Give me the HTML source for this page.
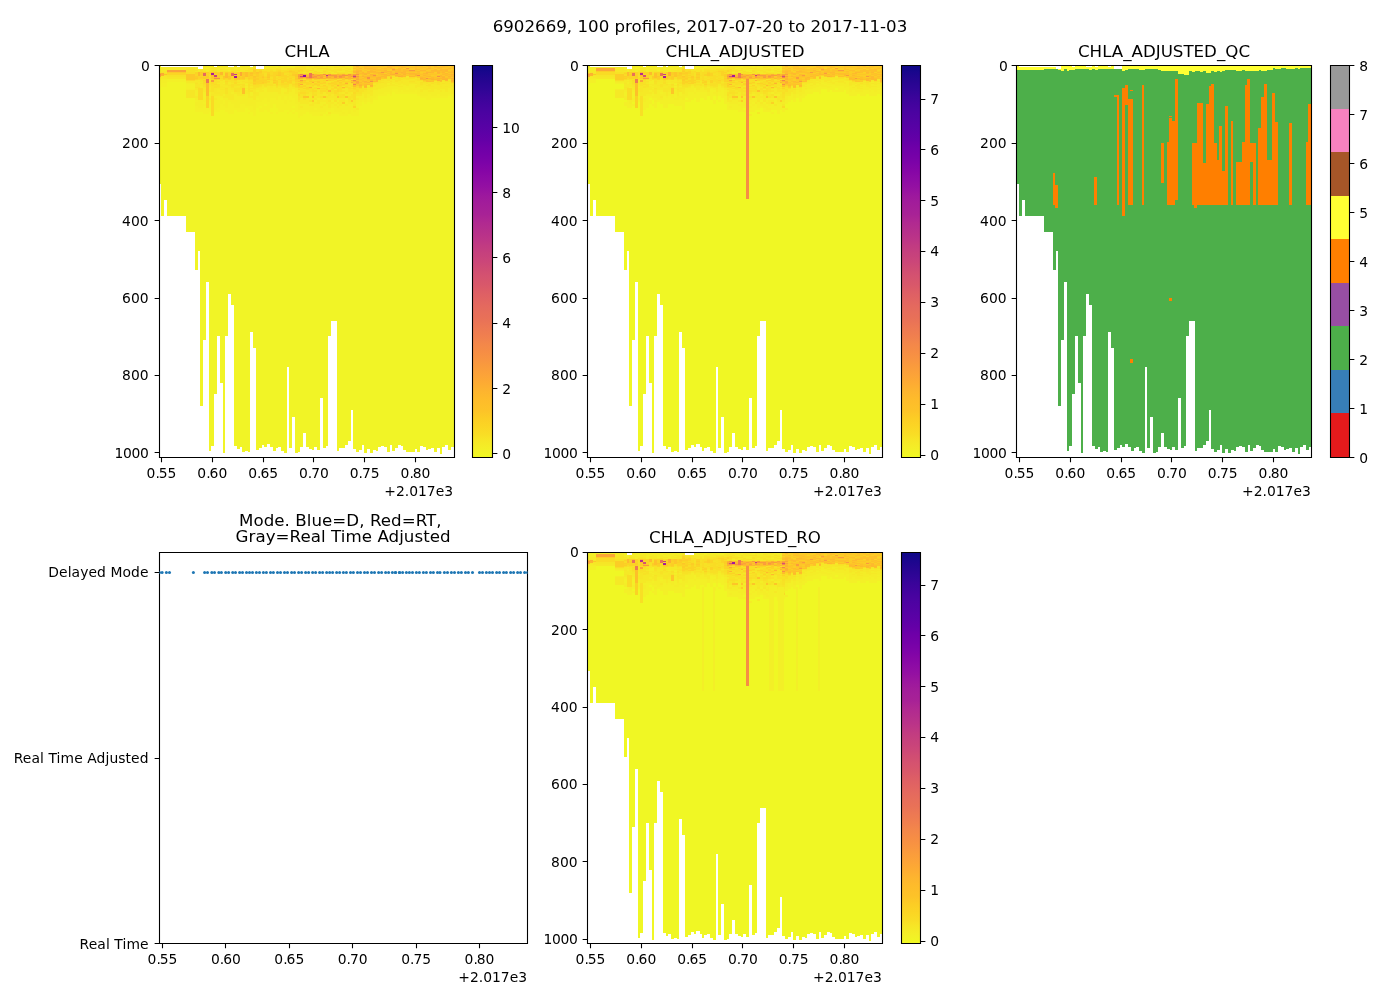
<!DOCTYPE html>
<html lang="en"><head><meta charset="utf-8"><title>6902669 CHLA profiles</title>
<style>
html,body{margin:0;padding:0;background:#fff;}
body{width:1400px;height:1000px;overflow:hidden;}
svg{display:block;font-family:"DejaVu Sans","Liberation Sans",sans-serif;}
</style></head><body>
<svg width="1400" height="1000" viewBox="0 0 1400 1000" fill="#000">
<rect width="1400" height="1000" fill="#fff"/>
<text x="700" y="32.3" font-size="16.67" text-anchor="middle">6902669, 100 profiles, 2017-07-20 to 2017-11-03</text>
<g shape-rendering="crispEdges">
<path fill="#f1f426" d="M159.5 66H161V184H159.5ZM161 67H164V216H161ZM164 67H167V200H164ZM167 67H186V216H167ZM186 67H195V232H186ZM195 67H198V270H195ZM198 69H200V251H198ZM200 69H203V406H200ZM203 66H206V340H203ZM206 66H209V282H206ZM209 66H211V451H209ZM211 66H214V446H211ZM214 67H217V394H214ZM217 66H220V336H217ZM220 66H223V383H220ZM223 66H225V453H223ZM225 66H228V336H225ZM228 67H231V294H228ZM231 67H234V305H231ZM234 66H237V446H234ZM237 67H240V449H237ZM240 66H242V447H240ZM242 66H245V452H242ZM245 66H248V451H245ZM248 66H250V452H248ZM250 67H253V332H250ZM253 66H256V348H253ZM256 69H259V450H256ZM259 69H262V448H259ZM262 69H264V445H262ZM264 66H267V447H264ZM267 66H270V444H267ZM270 66H273V447H270ZM273 66H276V451H273ZM276 66H278V448H276ZM278 66H281V447H278ZM281 66H284V451H281ZM284 66H287V453H284ZM287 66H289V367H287ZM289 66H292V448H289ZM292 66H295V417H292ZM295 66H298V453H295ZM298 66H300V452H298ZM300 66H303V447H300ZM303 66H306V433H303ZM306 66H309V447H306ZM309 66H312V449H309ZM312 66H314V450H312ZM314 66H317V447H314ZM317 66H320V450H317ZM320 66H323V398H320ZM323 66H326V448H323ZM326 66H328V446H326ZM328 66H331V336H328ZM331 66H334V321H331ZM334 66H337V321H334ZM337 66H339V451H337ZM339 66H342V448H339ZM342 66H345V448H342ZM345 66H348V445H345ZM348 66H351V441H348ZM351 66H353V410H351ZM353 66H356V449H353ZM356 66H359V452H356ZM359 66H362V450H359ZM362 66H364V445H362ZM364 66H367V453H364ZM367 66H370V449H367ZM370 66H373V453H370ZM373 66H376V450H373ZM376 66H378V451H376ZM378 66H381V447H378ZM381 66H384V446H381ZM384 66H387V447H384ZM387 66H390V452H387ZM390 66H392V445H390ZM392 66H395V451H392ZM395 66H398V448H395ZM398 66H401V445H398ZM401 66H403V446H401ZM403 66H406V450H403ZM406 66H409V452H406ZM409 66H415V452H409ZM415 66H417V449H415ZM417 66H420V452H417ZM420 66H423V446H420ZM423 66H426V447H423ZM426 66H428V450H426ZM428 66H431V449H428ZM431 66H434V448H431ZM434 66H437V452H434ZM437 66H440V448H437ZM440 66H442V454H440ZM442 66H445V447H442ZM445 66H448V445H445ZM448 66H451V450H448ZM451 66H454.5V447H451Z"/>
<path fill="#f3ee27" d="M159.5 66H161V67H159.5ZM159.5 82H161V85H159.5ZM161 80H164V83H161ZM164 80H167V83H164ZM186 83H195V84H186ZM195 94H198V96H195ZM195 102H198V106H195ZM198 100H200V108H198ZM200 106H203V108H200ZM203 94H206V98H203ZM203 100H206V102H203ZM203 104H206V106H203ZM209 100H211V102H209ZM214 104H217V110H214ZM217 96H220V98H217ZM217 100H220V104H217ZM217 106H220V108H217ZM220 96H223V98H220ZM220 100H223V104H220ZM223 94H225V96H223ZM223 104H225V106H223ZM225 98H228V100H225ZM225 106H228V108H225ZM228 100H231V102H228ZM231 102H234V104H231ZM234 102H237V108H234ZM237 100H240V108H237ZM240 98H242V102H240ZM242 102H245V104H242ZM245 94H248V98H245ZM245 100H248V106H245ZM248 67H250V68H248ZM248 104H250V106H248ZM250 92H253V96H250ZM250 98H253V100H250ZM250 104H253V106H250ZM253 100H256V102H253ZM253 104H256V110H253ZM256 96H259V98H256ZM256 100H259V102H256ZM259 94H262V96H259ZM259 98H262V102H259ZM262 92H264V96H262ZM262 98H264V100H262ZM264 88H267V89H264ZM264 90H267V92H264ZM264 96H267V98H264ZM267 94H270V102H267ZM270 94H273V98H270ZM273 92H276V98H273ZM276 66H278V68H276ZM276 94H278V96H276ZM281 66H284V67H281ZM281 89H284V96H281ZM281 98H284V100H281ZM284 100H287V104H284ZM287 66H289V67H287ZM287 96H289V100H287ZM289 66H292V67H289ZM289 94H292V96H289ZM289 100H292V102H289ZM292 66H295V67H292ZM292 96H295V98H292ZM295 96H298V104H295ZM300 104H303V106H300ZM303 104H306V108H303ZM306 106H309V108H306ZM309 108H312V112H309ZM312 110H314V112H312ZM314 110H317V112H314ZM317 108H320V112H317ZM320 104H323V106H320ZM320 110H323V112H320ZM323 102H326V104H323ZM323 106H326V108H323ZM323 110H326V112H323ZM326 104H328V110H326ZM328 108H331V110H328ZM334 108H337V112H334ZM337 110H339V112H337ZM339 110H342V112H339ZM342 104H345V106H342ZM342 112H345V114H342ZM345 106H348V110H345ZM348 110H351V114H348ZM351 108H353V110H351ZM359 100H362V102H359ZM362 96H364V100H362ZM364 100H367V102H364ZM370 96H373V98H370ZM370 100H373V102H370ZM373 94H376V98H373ZM376 92H378V96H376ZM378 89H381V94H378ZM381 89H384V94H381ZM384 89H387V92H384ZM387 88H390V92H387ZM390 89H392V94H390ZM392 87H395V89H392ZM395 87H398V89H395ZM398 88H401V89H398ZM398 90H401V92H398ZM403 86H406V92H403ZM406 86H409V88H406ZM406 90H409V92H406ZM409 86H415V87H409ZM409 88H415V89H409ZM409 90H415V92H409ZM415 89H417V90H415ZM417 88H420V94H417ZM420 94H423V96H420ZM423 92H426V96H423ZM426 92H428V96H426ZM431 92H434V96H431ZM434 92H437V96H434ZM440 92H442V96H440ZM442 92H445V96H442ZM445 92H448V96H445ZM448 92H451V94H448ZM451 94H454.5V96H451Z"/>
<path fill="#f4ed27" d="M159.5 67H161V69H159.5ZM159.5 81H161V82H159.5ZM161 67H164V68H161ZM161 79H164V80H161ZM164 67H167V68H164ZM164 79H167V80H164ZM186 89H195V90H186ZM195 67H198V68H195ZM195 90H198V94H195ZM195 98H198V100H195ZM198 69H200V71H198ZM200 100H203V106H200ZM203 92H206V94H203ZM203 98H206V100H203ZM206 66H209V67H206ZM206 68H209V69H206ZM206 70H209V71H206ZM209 66H211V68H209ZM209 92H211V98H209ZM214 96H217V98H214ZM214 100H217V104H214ZM217 69H220V70H217ZM217 98H220V100H217ZM217 104H220V106H217ZM223 66H225V67H223ZM223 83H225V84H223ZM223 98H225V100H223ZM225 68H228V69H225ZM225 100H228V106H225ZM228 68H231V69H228ZM228 70H231V71H228ZM231 67H234V68H231ZM231 92H234V94H231ZM231 100H234V102H231ZM234 68H237V69H234ZM234 94H237V102H234ZM237 96H240V100H237ZM240 66H242V67H240ZM240 68H242V69H240ZM240 96H242V98H240ZM240 102H242V104H240ZM242 96H245V102H242ZM245 66H248V67H245ZM245 84H248V85H245ZM245 86H248V88H245ZM245 89H248V90H245ZM245 98H248V100H245ZM248 66H250V67H248ZM248 98H250V104H248ZM250 67H253V68H250ZM250 100H253V104H250ZM253 102H256V104H253ZM256 90H259V92H256ZM259 92H262V94H259ZM259 96H262V98H259ZM262 89H264V90H262ZM262 96H264V98H262ZM264 66H267V67H264ZM264 89H267V90H264ZM264 92H267V96H264ZM267 66H270V67H267ZM267 92H270V94H267ZM270 66H273V67H270ZM270 92H273V94H270ZM273 66H276V67H273ZM276 92H278V94H276ZM276 96H278V100H276ZM278 94H281V96H278ZM281 67H284V68H281ZM281 88H284V89H281ZM281 96H284V98H281ZM284 66H287V67H284ZM284 89H287V92H284ZM284 94H287V96H284ZM287 67H289V68H287ZM287 94H289V96H287ZM289 67H292V68H289ZM289 92H292V94H289ZM292 67H295V68H292ZM292 89H295V96H292ZM295 94H298V96H295ZM298 102H300V110H298ZM300 108H303V110H300ZM303 108H306V110H303ZM306 104H309V106H306ZM306 108H309V110H306ZM309 102H312V104H309ZM309 106H312V108H309ZM312 106H314V110H312ZM314 100H317V102H314ZM314 104H317V108H314ZM317 98H320V100H317ZM317 104H320V108H317ZM320 102H323V104H320ZM320 108H323V110H320ZM320 114H323V116H320ZM323 98H326V100H323ZM323 108H326V110H323ZM331 100H334V102H331ZM331 104H334V108H331ZM334 102H337V104H334ZM334 106H337V108H334ZM337 100H339V102H337ZM337 104H339V106H337ZM337 108H339V110H337ZM339 106H342V110H339ZM342 106H345V110H342ZM345 98H348V104H345ZM348 104H351V110H348ZM351 104H353V108H351ZM353 108H356V112H353ZM356 96H359V98H356ZM356 100H359V104H356ZM359 96H362V100H359ZM362 94H364V96H362ZM364 98H367V100H364ZM367 94H370V98H367ZM370 98H373V100H370ZM373 90H376V94H373ZM376 90H378V92H376ZM381 88H384V89H381ZM384 87H387V89H384ZM387 83H390V85H387ZM387 86H390V88H387ZM390 86H392V89H390ZM392 83H395V84H392ZM392 86H395V87H392ZM395 84H398V85H395ZM395 86H398V87H395ZM398 85H401V86H398ZM398 87H401V88H398ZM398 89H401V90H398ZM401 84H403V86H401ZM401 87H403V90H401ZM403 85H406V86H403ZM409 84H415V86H409ZM409 87H415V88H409ZM409 89H415V90H409ZM415 84H417V85H415ZM415 88H417V89H415ZM417 87H420V88H417ZM420 88H423V89H420ZM420 92H423V94H420ZM423 90H426V92H423ZM426 90H428V92H426ZM428 89H431V90H428ZM428 92H431V94H428ZM434 89H437V92H434ZM437 90H440V94H437ZM440 89H442V90H440ZM442 89H445V92H442ZM448 88H451V92H448Z"/>
<path fill="#f5e926" d="M159.5 69H161V71H159.5ZM159.5 80H161V81H159.5ZM161 68H164V69H161ZM161 78H164V79H161ZM164 68H167V70H164ZM164 78H167V79H164ZM167 67H186V70H167ZM186 82H195V83H186ZM195 68H198V70H195ZM195 96H198V98H195ZM198 80H200V81H198ZM198 82H200V83H198ZM200 87H203V88H200ZM203 66H206V67H203ZM203 68H206V69H203ZM206 67H209V68H206ZM206 71H209V72H206ZM209 68H211V70H209ZM209 98H211V100H209ZM211 66H214V68H211ZM214 98H217V100H214ZM217 66H220V69H217ZM217 70H220V71H217ZM217 94H220V96H217ZM220 66H223V68H220ZM220 81H223V82H220ZM220 85H223V86H220ZM223 67H225V68H223ZM223 80H225V81H223ZM223 82H225V83H223ZM223 86H225V87H223ZM223 96H225V98H223ZM225 66H228V67H225ZM225 96H228V98H225ZM228 90H231V96H228ZM228 98H231V100H228ZM231 90H234V92H231ZM231 94H234V96H231ZM231 98H234V100H231ZM234 66H237V67H234ZM234 69H237V70H234ZM237 67H240V68H237ZM237 69H240V70H237ZM237 71H240V72H237ZM240 67H242V68H240ZM240 70H242V71H240ZM240 83H242V84H240ZM240 92H242V94H240ZM242 66H245V68H242ZM242 94H245V96H242ZM245 67H248V68H245ZM245 83H248V84H245ZM245 90H248V94H245ZM248 96H250V98H248ZM250 96H253V98H250ZM253 66H256V67H253ZM256 88H259V90H256ZM256 94H259V96H256ZM259 89H262V92H259ZM262 87H264V89H262ZM262 90H264V92H262ZM267 67H270V68H267ZM267 90H270V92H267ZM270 68H273V69H270ZM270 89H273V90H270ZM273 68H276V69H273ZM273 87H276V92H273ZM278 66H281V67H278ZM278 87H281V88H278ZM278 92H281V94H278ZM284 88H287V89H284ZM284 92H287V94H284ZM287 92H289V94H287ZM289 86H292V92H289ZM292 88H295V89H292ZM295 66H298V67H295ZM295 90H298V94H295ZM300 98H303V100H300ZM300 102H303V104H300ZM300 106H303V108H300ZM303 100H306V104H303ZM306 68H309V69H306ZM306 102H309V104H306ZM309 67H312V68H309ZM309 96H312V100H309ZM312 66H314V67H312ZM314 96H317V98H314ZM314 102H317V104H314ZM320 67H323V68H320ZM320 69H323V70H320ZM320 100H323V102H320ZM320 106H323V108H320ZM323 66H326V68H323ZM323 94H326V96H323ZM323 100H326V102H323ZM323 104H326V106H323ZM328 67H331V68H328ZM328 102H331V108H328ZM331 66H334V67H331ZM331 98H334V100H331ZM334 104H337V106H334ZM337 106H339V108H337ZM339 67H342V68H339ZM339 98H342V100H339ZM345 66H348V67H345ZM345 94H348V96H345ZM348 66H351V68H348ZM348 102H351V104H348ZM351 67H353V68H351ZM351 69H353V70H351ZM351 102H353V104H351ZM353 102H356V104H353ZM356 108H359V110H356ZM362 92H364V94H362ZM364 94H367V98H364ZM367 88H370V89H367ZM367 90H370V94H367ZM370 94H373V96H370ZM373 87H376V90H373ZM376 85H378V86H376ZM376 87H378V88H376ZM376 89H378V90H376ZM378 84H381V85H378ZM378 86H381V87H378ZM378 88H381V89H378ZM381 83H384V85H381ZM381 86H384V88H381ZM384 85H387V87H384ZM387 81H390V82H387ZM387 85H390V86H387ZM390 82H392V83H390ZM390 85H392V86H390ZM392 80H395V83H392ZM392 84H395V86H392ZM395 82H398V84H395ZM395 85H398V86H395ZM398 83H401V84H398ZM398 86H401V87H398ZM401 83H403V84H401ZM401 86H403V87H401ZM403 81H406V82H403ZM403 84H406V85H403ZM406 80H409V81H406ZM406 82H409V86H406ZM409 83H415V84H409ZM415 86H417V88H415ZM417 81H420V87H417ZM420 86H423V88H420ZM420 89H423V92H420ZM423 85H426V87H423ZM423 88H426V90H423ZM426 87H428V90H426ZM428 90H431V92H428ZM431 89H434V92H431ZM434 85H437V87H434ZM434 88H437V89H434ZM437 88H440V90H437ZM440 88H442V89H440ZM440 90H442V92H440ZM442 85H445V86H442ZM442 88H445V89H442ZM445 85H448V86H445ZM445 87H448V92H445ZM448 85H451V88H448ZM451 87H454.5V88H451ZM451 89H454.5V94H451Z"/>
<path fill="#f6e826" d="M159.5 71H161V73H159.5ZM159.5 79H161V80H159.5ZM161 69H164V71H161ZM161 76H164V78H161ZM164 70H167V71H164ZM164 77H167V78H164ZM186 67H195V68H186ZM186 81H195V82H186ZM195 71H198V72H195ZM195 81H198V82H195ZM195 88H198V90H195ZM198 71H200V72H198ZM198 83H200V84H198ZM200 86H203V87H200ZM203 67H206V68H203ZM203 69H206V71H203ZM203 88H206V92H203ZM206 69H209V70H206ZM209 87H211V90H209ZM211 69H214V70H211ZM211 92H214V94H211ZM214 68H217V69H214ZM214 94H217V96H214ZM217 71H220V72H217ZM217 83H220V84H217ZM217 89H220V92H217ZM220 68H223V69H220ZM220 82H223V85H220ZM220 88H223V89H220ZM220 90H223V96H220ZM223 70H225V71H223ZM223 81H225V82H223ZM223 85H225V86H223ZM223 88H225V89H223ZM223 90H225V94H223ZM225 67H228V68H225ZM225 70H228V71H225ZM225 86H228V87H225ZM225 94H228V96H225ZM228 67H231V68H228ZM228 69H231V70H228ZM228 82H231V84H228ZM228 88H231V90H228ZM228 96H231V98H228ZM231 96H234V98H231ZM234 67H237V68H234ZM234 92H237V94H234ZM237 68H240V69H237ZM237 83H240V84H237ZM237 86H240V87H237ZM237 94H240V96H237ZM240 69H242V70H240ZM240 71H242V72H240ZM240 82H242V83H240ZM240 94H242V96H240ZM242 68H245V71H242ZM245 68H248V70H245ZM245 85H248V86H245ZM245 88H248V89H245ZM248 94H250V96H248ZM250 68H253V69H250ZM250 86H253V88H250ZM250 89H253V90H250ZM253 90H256V92H253ZM253 94H256V100H253ZM256 92H259V94H256ZM259 88H262V89H259ZM262 86H264V87H262ZM264 67H267V69H264ZM264 87H267V88H264ZM267 68H270V69H267ZM267 86H270V90H267ZM270 67H273V68H270ZM270 88H273V89H270ZM270 90H273V92H270ZM273 86H276V87H273ZM276 88H278V92H276ZM278 89H281V92H278ZM284 67H287V68H284ZM292 87H295V88H292ZM295 88H298V90H295ZM298 66H300V67H298ZM300 100H303V102H300ZM303 72H306V73H303ZM306 66H309V68H306ZM306 98H309V102H306ZM309 69H312V70H309ZM309 71H312V72H309ZM309 94H312V96H309ZM309 104H312V106H309ZM312 67H314V68H312ZM312 71H314V72H312ZM312 102H314V106H312ZM314 68H317V71H314ZM317 70H320V71H317ZM317 94H320V96H317ZM320 71H323V72H320ZM320 73H323V74H320ZM320 98H323V100H320ZM323 92H326V94H323ZM326 94H328V96H326ZM326 98H328V104H326ZM328 71H331V72H328ZM328 98H331V100H328ZM328 112H331V114H328ZM331 67H334V69H331ZM331 72H334V73H331ZM331 94H334V96H331ZM331 102H334V104H331ZM334 68H337V69H334ZM334 73H337V74H334ZM337 66H339V67H337ZM337 71H339V72H337ZM337 98H339V100H337ZM339 71H342V72H339ZM339 102H342V106H339ZM342 68H345V69H342ZM342 71H345V72H342ZM342 92H345V94H342ZM342 98H345V100H342ZM345 104H348V106H345ZM348 94H351V96H348ZM351 68H353V69H351ZM351 92H353V94H351ZM353 100H356V102H353ZM356 98H359V100H356ZM364 92H367V94H364ZM367 86H370V87H367ZM370 89H373V90H370ZM370 92H373V94H370ZM373 84H376V85H373ZM376 86H378V87H376ZM378 85H381V86H378ZM378 87H381V88H378ZM381 85H384V86H381ZM384 84H387V85H384ZM390 84H392V85H390ZM392 78H395V79H392ZM398 81H401V83H398ZM398 84H401V85H398ZM401 80H403V81H401ZM403 80H406V81H403ZM403 82H406V84H403ZM406 81H409V82H406ZM415 81H417V83H415ZM415 85H417V86H415ZM423 87H426V88H423ZM426 84H428V85H426ZM426 86H428V87H426ZM428 87H431V89H428ZM431 84H434V86H431ZM431 87H434V89H431ZM434 87H437V88H434ZM437 85H440V88H437ZM440 85H442V86H440ZM440 87H442V88H440ZM442 82H445V83H442ZM442 84H445V85H442ZM442 86H445V88H442ZM445 84H448V85H445ZM448 82H451V83H448ZM448 84H451V85H448ZM451 88H454.5V89H451Z"/>
<path fill="#feb82c" d="M159.5 73H161V74H159.5ZM198 72H200V76H198ZM211 72H214V73H211ZM220 72H223V75H220ZM314 74H317V75H314ZM317 88H320V89H317ZM331 78H334V79H331ZM337 77H339V78H337ZM342 87H345V88H342ZM348 78H351V79H348ZM351 74H353V75H351ZM353 83H356V84H353ZM353 86H356V87H353ZM356 73H359V74H356ZM362 72H364V74H362ZM364 73H367V74H364ZM364 77H367V78H364ZM367 71H370V72H367ZM367 73H370V74H367ZM367 79H370V80H367ZM370 71H373V72H370ZM370 75H373V76H370ZM370 79H373V80H370ZM373 69H376V70H373ZM373 71H376V72H373ZM373 74H376V75H373ZM373 76H376V77H373ZM376 77H378V78H376ZM376 80H378V82H376ZM378 72H381V73H378ZM378 78H381V80H378ZM381 74H384V75H381ZM381 76H384V77H381ZM384 70H387V71H384ZM384 72H387V73H384ZM384 74H387V75H384ZM387 71H390V72H387ZM387 75H390V76H387ZM390 66H392V67H390ZM390 71H392V74H390ZM392 68H395V69H392ZM395 72H398V73H395ZM398 69H401V70H398ZM398 74H401V75H398ZM401 75H403V76H401ZM403 69H406V70H403ZM403 71H406V74H403ZM409 73H415V74H409ZM409 76H415V77H409ZM415 69H417V70H415ZM420 70H423V71H420ZM420 77H423V78H420ZM423 70H426V71H423ZM423 73H426V74H423ZM423 75H426V76H423ZM428 68H431V69H428ZM428 76H431V77H428ZM431 70H434V71H431ZM431 72H434V73H431ZM431 78H434V79H431ZM434 69H437V71H434ZM434 79H437V80H434ZM437 71H440V72H437ZM437 73H440V74H437ZM437 79H440V80H437ZM440 70H442V71H440ZM440 75H442V77H440ZM440 78H442V79H440ZM442 72H445V73H442ZM442 76H445V77H442ZM442 78H445V79H442ZM445 69H448V72H445ZM445 73H448V74H445ZM445 78H448V79H445ZM448 76H451V77H448ZM451 72H454.5V73H451Z"/>
<path fill="#f79143" d="M159.5 74H161V75H159.5ZM300 77H303V78H300ZM306 77H309V78H306ZM312 74H314V75H312ZM312 77H314V78H312ZM323 74H326V75H323ZM326 76H328V78H326ZM328 74H331V76H328ZM339 76H342V77H339ZM342 75H345V76H342ZM345 75H348V76H345ZM367 77H370V79H367ZM370 81H373V82H370ZM373 75H376V76H373ZM395 73H398V74H395ZM417 75H420V76H417ZM426 78H428V79H426ZM437 76H440V77H437Z"/>
<path fill="#fba139" d="M159.5 75H161V76H159.5ZM167 70H186V72H167ZM298 75H300V76H298ZM300 75H303V76H300ZM300 80H303V81H300ZM303 77H306V78H303ZM312 76H314V77H312ZM314 77H317V78H314ZM320 77H323V78H320ZM339 75H342V76H339ZM353 74H356V75H353Z"/>
<path fill="#fca835" d="M159.5 76H161V77H159.5ZM161 73H164V74H161ZM240 72H242V76H240ZM298 74H300V75H298ZM298 77H300V79H298ZM300 84H303V85H300ZM303 74H306V75H303ZM309 78H312V79H309ZM312 75H314V76H312ZM317 78H320V79H317ZM320 75H323V77H320ZM328 77H331V78H328ZM337 76H339V77H337ZM342 74H345V75H342ZM342 76H345V78H342ZM348 75H351V76H348ZM356 79H359V80H356ZM356 81H359V83H356Z"/>
<path fill="#f7e225" d="M159.5 77H161V78H159.5ZM161 72H164V73H161ZM164 73H167V74H164ZM164 75H167V76H164ZM167 75H186V77H167ZM186 69H195V72H186ZM195 70H198V71H195ZM195 83H198V84H195ZM195 87H198V88H195ZM198 87H200V88H198ZM200 80H203V82H200ZM200 83H203V84H200ZM203 71H206V72H203ZM203 85H206V87H203ZM209 79H211V80H209ZM209 81H211V85H209ZM211 68H214V69H211ZM211 86H214V92H211ZM214 70H217V71H214ZM214 85H217V86H214ZM217 82H220V83H217ZM217 87H220V88H217ZM220 69H223V70H220ZM220 71H223V72H220ZM220 79H223V81H220ZM223 71H225V72H223ZM225 71H228V72H225ZM225 84H228V85H225ZM225 89H228V94H225ZM228 80H231V82H228ZM228 85H231V86H228ZM231 81H234V83H231ZM231 87H234V88H231ZM234 70H237V71H234ZM234 84H237V86H234ZM234 88H237V90H234ZM237 70H240V71H237ZM237 82H240V83H237ZM237 85H240V86H237ZM237 88H240V92H237ZM240 86H242V90H240ZM242 81H245V82H242ZM242 86H245V87H242ZM245 70H248V71H245ZM245 79H248V80H245ZM245 82H248V83H245ZM248 68H250V72H248ZM248 81H250V82H248ZM248 83H250V84H248ZM248 86H250V89H248ZM248 90H250V92H248ZM250 69H253V70H250ZM250 71H253V72H250ZM250 80H253V82H250ZM250 85H253V86H250ZM250 88H253V89H250ZM250 90H253V92H250ZM253 67H256V68H253ZM253 87H256V89H253ZM256 87H259V88H256ZM259 86H262V87H259ZM262 70H264V71H262ZM262 84H264V85H262ZM264 69H267V71H264ZM264 86H267V87H264ZM267 69H270V71H267ZM267 83H270V84H267ZM267 85H270V86H267ZM270 69H273V70H270ZM270 81H273V84H270ZM273 85H276V86H273ZM276 68H278V69H276ZM276 87H278V88H276ZM278 83H281V84H278ZM278 85H281V86H278ZM281 86H284V87H281ZM284 87H287V88H284ZM287 68H289V69H287ZM287 88H289V89H287ZM292 68H295V69H292ZM292 82H295V83H292ZM292 86H295V87H292ZM295 67H298V68H295ZM298 67H300V68H298ZM298 88H300V89H298ZM298 96H300V100H298ZM300 66H303V69H300ZM300 94H303V98H300ZM303 66H306V68H303ZM303 69H306V70H303ZM303 71H306V72H303ZM303 73H306V74H303ZM303 89H306V90H303ZM303 98H306V100H303ZM306 69H309V70H306ZM306 72H309V73H306ZM306 90H309V92H306ZM309 66H312V67H309ZM309 72H312V73H309ZM309 100H312V102H309ZM312 69H314V70H312ZM312 87H314V88H312ZM314 66H317V68H314ZM314 89H317V90H314ZM314 92H317V94H314ZM317 66H320V67H317ZM317 68H320V69H317ZM317 89H320V90H317ZM320 66H323V67H320ZM320 85H323V86H320ZM320 87H323V88H320ZM323 84H326V85H323ZM326 66H328V67H326ZM326 70H328V74H326ZM326 81H328V83H326ZM326 84H328V86H326ZM326 96H328V98H326ZM328 69H331V71H328ZM328 73H331V74H328ZM328 81H331V83H328ZM328 86H331V88H328ZM328 89H331V90H328ZM328 92H331V96H328ZM328 100H331V102H328ZM331 71H334V72H331ZM331 87H334V88H331ZM331 92H334V94H331ZM334 69H337V71H334ZM334 94H337V96H334ZM334 100H337V102H334ZM337 67H339V68H337ZM337 70H339V71H337ZM337 79H339V80H337ZM337 87H339V88H337ZM339 66H342V67H339ZM339 68H342V69H339ZM339 72H342V73H339ZM339 94H342V96H339ZM342 69H345V70H342ZM342 72H345V73H342ZM342 96H345V98H342ZM345 71H348V74H345ZM348 68H351V69H348ZM348 86H351V87H348ZM348 96H351V100H348ZM351 70H353V71H351ZM351 72H353V73H351ZM351 84H353V85H351ZM351 87H353V88H351ZM351 89H353V90H351ZM351 94H353V98H351ZM356 92H359V94H356ZM359 89H362V94H359ZM362 86H364V87H362ZM362 88H364V92H362ZM364 88H367V89H364ZM367 87H370V88H367ZM373 85H376V86H373ZM376 83H378V84H376ZM378 81H381V83H378ZM381 79H384V81H381ZM381 82H384V83H381ZM387 77H390V81H387ZM390 81H392V82H390ZM392 76H395V78H392ZM392 79H395V80H392ZM395 78H398V79H395ZM395 80H398V82H395ZM398 79H401V81H398ZM401 79H403V80H401ZM403 78H406V79H403ZM406 78H409V80H406ZM409 81H415V82H409ZM415 79H417V80H415ZM417 78H420V79H417ZM417 80H420V81H417ZM420 83H423V85H420ZM423 82H426V83H423ZM426 82H428V84H426ZM426 85H428V86H426ZM428 82H431V83H428ZM428 84H431V86H428ZM431 82H434V83H431ZM434 82H437V83H434ZM437 83H440V85H437ZM442 80H445V81H442ZM442 83H445V84H442ZM448 81H451V82H448ZM451 83H454.5V84H451ZM451 85H454.5V86H451Z"/>
<path fill="#f6e626" d="M159.5 78H161V79H159.5ZM161 71H164V72H161ZM164 71H167V73H164ZM164 76H167V77H164ZM167 77H186V79H167ZM186 68H195V69H186ZM186 90H195V98H186ZM195 80H198V81H195ZM195 82H198V83H195ZM195 84H198V87H195ZM198 81H200V82H198ZM198 84H200V87H198ZM200 69H203V70H200ZM200 82H203V83H200ZM200 84H203V86H200ZM203 87H206V88H203ZM209 70H211V71H209ZM209 80H211V81H209ZM209 85H211V87H209ZM209 90H211V92H209ZM211 94H214V96H211ZM214 67H217V68H214ZM214 69H217V70H214ZM214 88H217V94H214ZM217 80H220V81H217ZM217 88H220V89H217ZM217 92H220V94H217ZM220 70H223V71H220ZM220 86H223V88H220ZM220 89H223V90H220ZM223 68H225V70H223ZM223 84H225V85H223ZM223 87H225V88H223ZM223 89H225V90H223ZM225 69H228V70H225ZM225 85H228V86H225ZM225 87H228V88H225ZM228 71H231V72H228ZM228 84H231V85H228ZM228 86H231V88H228ZM231 68H234V71H231ZM231 83H234V84H231ZM231 88H234V90H231ZM234 71H237V72H234ZM234 86H237V88H234ZM237 80H240V82H237ZM237 87H240V88H237ZM237 92H240V94H237ZM240 80H242V82H240ZM240 85H242V86H240ZM240 90H242V92H240ZM242 71H245V72H242ZM242 80H245V81H242ZM242 82H245V84H242ZM245 71H248V72H245ZM245 80H248V82H245ZM248 92H250V94H248ZM250 70H253V71H250ZM250 84H253V85H250ZM253 89H256V90H253ZM253 92H256V94H253ZM259 87H262V88H259ZM262 85H264V86H262ZM270 86H273V88H270ZM273 67H276V68H273ZM273 69H276V71H273ZM273 84H276V85H273ZM278 67H281V69H278ZM278 86H281V87H278ZM278 88H281V89H278ZM281 68H284V70H281ZM281 87H284V88H281ZM284 68H287V70H284ZM287 87H289V88H287ZM287 89H289V92H287ZM289 84H292V86H289ZM298 90H300V92H298ZM298 100H300V102H298ZM306 94H309V96H306ZM309 68H312V69H309ZM309 92H312V94H309ZM312 98H314V100H312ZM314 86H317V87H314ZM314 98H317V100H314ZM317 67H320V68H317ZM317 69H320V70H317ZM317 71H320V72H317ZM317 87H320V88H317ZM317 90H320V94H317ZM317 96H320V98H317ZM317 100H320V104H317ZM320 70H323V71H320ZM320 94H323V96H320ZM323 69H326V70H323ZM326 67H328V68H326ZM328 66H331V67H328ZM328 68H331V69H328ZM328 88H331V89H328ZM328 96H331V98H328ZM331 69H334V70H331ZM331 73H334V74H331ZM331 96H334V98H331ZM334 66H337V67H334ZM334 89H337V90H334ZM334 96H337V100H334ZM337 68H339V69H337ZM337 102H339V104H337ZM339 92H342V94H339ZM339 100H342V102H339ZM342 67H345V68H342ZM342 70H345V71H342ZM342 86H345V87H342ZM342 89H345V90H342ZM342 100H345V102H342ZM345 67H348V68H345ZM345 69H348V70H345ZM345 88H348V92H345ZM348 70H351V71H348ZM348 72H351V73H348ZM348 92H351V94H348ZM348 100H351V102H348ZM351 66H353V67H351ZM351 98H353V100H351ZM353 104H356V106H353ZM356 94H359V96H356ZM359 94H362V96H359ZM362 87H364V88H362ZM364 90H367V92H364ZM367 85H370V86H367ZM367 89H370V90H367ZM370 88H373V89H370ZM370 90H373V92H370ZM373 83H376V84H373ZM373 86H376V87H373ZM376 84H378V85H376ZM376 88H378V89H376ZM378 83H381V84H378ZM381 81H384V82H381ZM384 79H387V84H384ZM387 82H390V83H387ZM390 79H392V81H390ZM390 83H392V84H390ZM395 77H398V78H395ZM395 79H398V80H395ZM401 78H403V79H401ZM401 81H403V83H401ZM403 79H406V80H403ZM406 76H409V78H406ZM409 79H415V81H409ZM409 82H415V83H409ZM415 78H417V79H415ZM415 80H417V81H415ZM415 83H417V84H415ZM420 81H423V82H420ZM420 85H423V86H420ZM423 83H426V85H423ZM428 83H431V84H428ZM428 86H431V87H428ZM431 86H434V87H431ZM434 81H437V82H434ZM434 83H437V85H434ZM440 82H442V85H440ZM440 86H442V87H440ZM442 81H445V82H442ZM445 82H448V84H445ZM445 86H448V87H445ZM448 80H451V81H448ZM448 83H451V84H448ZM451 84H454.5V85H451ZM451 86H454.5V87H451Z"/>
<path fill="#f3f027" d="M159.5 85H161V88H159.5ZM161 83H164V87H161ZM164 83H167V87H164ZM167 79H186V82H167ZM186 84H195V89H186ZM195 100H198V102H195ZM195 106H198V112H195ZM198 108H200V112H198ZM200 108H203V112H200ZM203 102H206V104H203ZM203 106H206V114H203ZM206 108H209V114H206ZM209 102H211V112H209ZM214 110H217V112H214ZM217 108H220V112H217ZM220 98H223V100H220ZM220 104H223V110H220ZM223 100H225V104H223ZM223 106H225V110H223ZM225 108H228V112H225ZM228 102H231V114H228ZM231 104H234V114H231ZM234 108H237V110H234ZM237 108H240V112H237ZM240 104H242V112H240ZM242 104H245V112H242ZM245 106H248V108H245ZM248 106H250V110H248ZM248 112H250V114H248ZM250 106H253V112H250ZM253 110H256V116H253ZM256 98H259V100H256ZM256 102H259V108H256ZM259 102H262V106H259ZM259 108H262V112H259ZM262 100H264V112H262ZM264 98H267V104H264ZM264 106H267V110H264ZM267 102H270V112H267ZM270 98H273V108H270ZM270 112H273V114H270ZM273 98H276V104H273ZM276 100H278V108H276ZM276 112H278V114H276ZM278 96H281V112H278ZM281 100H284V112H281ZM284 96H287V100H284ZM284 104H287V110H284ZM287 100H289V110H287ZM287 112H289V114H287ZM289 96H292V100H289ZM289 102H292V112H289ZM292 98H295V106H292ZM292 108H295V110H292ZM292 112H295V114H292ZM295 104H298V112H295ZM298 110H300V118H298ZM300 110H303V116H300ZM303 110H306V114H303ZM306 110H309V112H306ZM309 112H312V114H309ZM312 112H314V116H312ZM314 108H317V110H314ZM314 112H317V116H314ZM317 112H320V116H317ZM320 112H323V114H320ZM323 112H326V114H323ZM326 110H328V112H326ZM326 114H328V116H326ZM328 110H331V112H328ZM328 114H331V116H328ZM331 108H334V114H331ZM334 112H337V114H334ZM337 112H339V114H337ZM339 112H342V116H339ZM342 110H345V112H342ZM342 114H345V116H342ZM345 110H348V116H345ZM351 110H353V116H351ZM353 112H356V116H353ZM356 104H359V108H356ZM356 110H359V116H356ZM359 102H362V106H359ZM362 100H364V102H362ZM364 102H367V104H364ZM367 98H370V102H367ZM370 102H373V104H370ZM373 98H376V100H373ZM376 96H378V100H376ZM378 94H381V96H378ZM381 94H384V96H381ZM384 92H387V96H384ZM387 92H390V94H387ZM390 94H392V96H390ZM392 89H395V92H392ZM395 89H398V94H395ZM398 92H401V94H398ZM401 90H403V94H401ZM403 92H406V94H403ZM406 88H409V90H406ZM406 92H409V94H406ZM409 92H415V94H409ZM415 90H417V94H415ZM417 94H420V96H417ZM420 96H423V98H420ZM423 96H426V98H423ZM426 96H428V100H426ZM428 94H431V100H428ZM431 96H434V98H431ZM434 96H437V98H434ZM437 94H440V98H437ZM440 96H442V98H440ZM442 96H445V98H442ZM445 96H448V98H445ZM448 94H451V96H448ZM451 96H454.5V100H451Z"/>
<path fill="#fdaf31" d="M161 74H164V76H161ZM306 76H309V77H306ZM306 78H309V79H306ZM312 82H314V83H312ZM314 75H317V76H314ZM320 74H323V75H320ZM320 78H323V79H320ZM323 78H326V79H323ZM326 80H328V81H326ZM331 76H334V77H331ZM345 78H348V79H345ZM345 83H348V84H345ZM348 76H351V77H348ZM351 78H353V79H351ZM351 80H353V81H351ZM351 82H353V83H351ZM353 81H356V82H353ZM356 77H359V79H356ZM356 83H359V84H356ZM392 74H395V75H392ZM398 76H401V77H398ZM420 78H423V79H420ZM437 80H440V81H437Z"/>
<path fill="#fec029" d="M164 74H167V75H164ZM214 77H217V78H214ZM242 88H245V94H242ZM245 72H248V77H245ZM250 73H253V74H250ZM317 74H320V75H317ZM323 75H326V76H323ZM339 74H342V75H339ZM339 78H342V79H339ZM345 77H348V78H345ZM353 68H356V69H353ZM356 69H359V70H356ZM356 80H359V81H356ZM359 76H362V77H359ZM359 86H362V87H359ZM362 74H364V76H362ZM362 80H364V81H362ZM364 67H367V68H364ZM364 78H367V79H364ZM367 69H370V70H367ZM367 75H370V76H367ZM367 80H370V81H367ZM370 69H373V70H370ZM370 77H373V78H370ZM373 67H376V69H373ZM373 77H376V78H373ZM373 79H376V80H373ZM376 67H378V68H376ZM376 69H378V71H376ZM376 73H378V74H376ZM376 75H378V76H376ZM378 69H381V71H378ZM378 74H381V75H378ZM378 76H381V77H378ZM381 66H384V67H381ZM381 68H384V69H381ZM381 70H384V72H381ZM381 73H384V74H381ZM384 69H387V70H384ZM392 73H395V74H392ZM395 66H398V67H395ZM395 70H398V71H395ZM398 75H401V76H398ZM401 68H403V69H401ZM401 70H403V72H401ZM403 66H406V67H403ZM403 75H406V76H403ZM406 66H409V67H406ZM406 69H409V70H406ZM406 71H409V72H406ZM409 67H415V68H409ZM415 67H417V68H415ZM415 71H417V72H415ZM417 66H420V67H417ZM417 72H420V73H417ZM417 74H420V75H417ZM420 66H423V67H420ZM420 74H423V75H420ZM420 76H423V77H420ZM423 67H426V68H423ZM423 74H426V75H423ZM426 66H428V67H426ZM426 68H428V70H426ZM426 71H428V72H426ZM426 74H428V76H426ZM426 80H428V82H426ZM428 67H431V68H428ZM428 74H431V75H428ZM428 79H431V80H428ZM428 81H431V82H428ZM434 67H437V68H434ZM434 77H437V79H434ZM437 68H440V69H437ZM437 75H440V76H437ZM440 66H442V67H440ZM440 68H442V69H440ZM440 71H442V73H440ZM440 77H442V78H440ZM442 67H445V68H442ZM442 73H445V74H442ZM445 66H448V67H445ZM445 74H448V75H445ZM448 77H451V79H448ZM451 68H454.5V69H451ZM451 70H454.5V71H451ZM451 79H454.5V80H451Z"/>
<path fill="#fdc827" d="M167 72H186V73H167ZM186 74H195V80H186ZM195 78H198V79H195ZM200 72H203V73H200ZM200 74H203V75H200ZM211 77H214V79H211ZM217 77H220V78H217ZM223 77H225V78H223ZM228 77H231V79H228ZM237 77H240V78H237ZM242 72H245V75H242ZM242 76H245V79H242ZM250 72H253V73H250ZM250 74H253V75H250ZM253 77H256V78H253ZM253 79H256V81H253ZM256 73H259V74H256ZM262 77H264V78H262ZM267 77H270V78H267ZM278 75H281V76H278ZM295 74H298V77H295ZM295 78H298V79H295ZM298 81H300V82H298ZM298 83H300V84H298ZM298 85H300V86H298ZM303 80H306V81H303ZM312 100H314V102H312ZM339 80H342V81H339ZM342 78H345V80H342ZM348 79H351V80H348ZM351 77H353V78H351ZM351 100H353V102H351ZM356 68H359V69H356ZM359 66H362V67H359ZM359 69H362V70H359ZM359 81H362V82H359ZM362 66H364V68H362ZM362 71H364V72H362ZM362 77H364V78H362ZM362 82H364V83H362ZM364 69H367V70H364ZM364 72H367V73H364ZM364 75H367V76H364ZM364 80H367V81H364ZM367 74H370V75H367ZM367 83H370V84H367ZM370 82H373V83H370ZM373 66H376V67H373ZM373 80H376V81H373ZM376 66H378V67H376ZM378 71H381V72H378ZM381 78H384V79H381ZM384 66H387V68H384ZM390 75H392V77H390ZM392 71H395V72H392ZM395 76H398V77H395ZM398 67H401V68H398ZM406 72H409V73H406ZM406 74H409V75H406ZM409 66H415V67H409ZM409 68H415V70H409ZM415 72H417V73H415ZM415 76H417V77H415ZM417 70H420V71H417ZM417 76H420V77H417ZM420 69H423V70H420ZM420 73H423V74H420ZM420 75H423V76H420ZM423 68H426V69H423ZM423 72H426V73H423ZM423 80H426V81H423ZM426 77H428V78H426ZM428 69H431V71H428ZM428 73H431V74H428ZM428 77H431V78H428ZM428 80H431V81H428ZM431 69H434V70H431ZM434 73H437V74H434ZM434 75H437V77H434ZM437 77H440V78H437ZM440 73H442V75H440ZM442 68H445V69H442ZM442 75H445V76H442ZM445 76H448V77H445ZM448 66H451V67H448ZM448 73H451V74H448ZM451 77H454.5V78H451Z"/>
<path fill="#fbd524" d="M167 73H186V75H167ZM195 72H198V73H195ZM195 74H198V76H195ZM195 79H198V80H195ZM198 78H200V79H198ZM203 80H206V81H203ZM209 73H211V74H209ZM211 79H214V80H211ZM214 74H217V75H214ZM217 79H220V80H217ZM220 75H223V76H220ZM223 79H225V80H223ZM231 76H234V78H231ZM234 72H237V74H234ZM234 75H237V76H234ZM240 79H242V80H240ZM248 79H250V80H248ZM253 75H256V76H253ZM253 84H256V85H253ZM256 80H259V81H256ZM256 83H259V84H256ZM259 70H262V71H259ZM259 74H262V75H259ZM259 76H262V77H259ZM259 78H262V80H259ZM259 82H262V83H259ZM262 74H264V76H262ZM264 77H267V78H264ZM264 79H267V80H264ZM264 81H267V82H264ZM267 81H270V82H267ZM270 75H273V76H270ZM273 72H276V80H273ZM273 81H276V82H273ZM273 83H276V84H273ZM276 72H278V74H276ZM276 80H278V81H276ZM276 83H278V84H276ZM278 71H281V72H278ZM278 79H281V80H278ZM281 72H284V73H281ZM281 76H284V77H281ZM281 78H284V79H281ZM284 75H287V82H284ZM287 71H289V72H287ZM287 76H289V77H287ZM287 81H289V83H287ZM289 70H292V71H289ZM289 72H292V73H289ZM289 75H292V76H289ZM289 78H292V79H289ZM289 81H292V83H289ZM295 73H298V74H295ZM295 83H298V85H295ZM298 87H300V88H298ZM300 70H303V71H300ZM300 79H303V80H300ZM300 83H303V84H300ZM300 87H303V88H300ZM303 81H306V82H303ZM303 85H306V86H303ZM303 88H306V89H303ZM306 82H309V85H306ZM306 88H309V89H306ZM309 80H312V81H309ZM309 83H312V84H309ZM312 85H314V86H312ZM317 79H320V80H317ZM323 80H326V81H323ZM323 83H326V84H323ZM326 89H328V90H326ZM331 80H334V81H331ZM331 82H334V83H331ZM331 85H334V86H331ZM334 81H337V84H334ZM337 84H339V85H337ZM337 86H339V87H337ZM337 89H339V92H337ZM339 84H342V85H339ZM345 81H348V82H345ZM345 84H348V85H345ZM353 87H356V88H353ZM353 106H356V108H353ZM356 86H359V88H356ZM401 77H403V78H401ZM423 81H426V82H423ZM434 80H437V81H434Z"/>
<path fill="#f8df25" d="M186 72H195V74H186ZM200 70H203V72H200ZM203 79H206V80H203ZM203 84H206V85H203ZM209 71H211V72H209ZM209 74H211V75H209ZM209 76H211V77H209ZM211 70H214V72H211ZM211 84H214V86H211ZM214 71H217V72H214ZM214 80H217V84H214ZM214 86H217V88H214ZM217 81H220V82H217ZM217 84H220V87H217ZM220 77H223V78H220ZM223 72H225V76H223ZM225 80H228V81H225ZM225 82H228V84H225ZM225 88H228V89H225ZM231 79H234V81H231ZM231 84H234V87H231ZM234 81H237V82H234ZM234 90H237V92H234ZM237 84H240V85H237ZM240 84H242V85H240ZM242 84H245V86H242ZM242 87H245V88H242ZM248 80H250V81H248ZM248 82H250V83H248ZM248 84H250V86H248ZM248 89H250V90H248ZM250 82H253V84H250ZM253 85H256V87H253ZM256 69H259V70H256ZM256 85H259V87H256ZM259 69H262V70H259ZM259 84H262V86H259ZM262 69H264V70H262ZM264 73H267V76H264ZM264 84H267V86H264ZM267 71H270V72H267ZM267 80H270V81H267ZM267 84H270V85H267ZM270 70H273V71H270ZM270 77H273V79H270ZM270 80H273V81H270ZM270 84H273V86H270ZM273 71H276V72H273ZM276 69H278V71H276ZM276 76H278V78H276ZM276 79H278V80H276ZM276 86H278V87H276ZM278 69H281V70H278ZM278 78H281V79H278ZM278 80H281V83H278ZM278 84H281V85H278ZM281 70H284V72H281ZM281 85H284V86H281ZM284 70H287V71H284ZM284 73H287V75H284ZM284 82H287V83H284ZM284 85H287V87H284ZM287 69H289V71H287ZM287 73H289V74H287ZM287 75H289V76H287ZM287 78H289V79H287ZM287 85H289V87H287ZM289 68H292V70H289ZM292 69H295V70H292ZM292 78H295V79H292ZM292 81H295V82H292ZM292 83H295V84H292ZM292 85H295V86H292ZM295 68H298V70H295ZM295 87H298V88H295ZM298 68H300V70H298ZM298 72H300V74H298ZM298 92H300V94H298ZM300 72H303V73H300ZM300 85H303V86H300ZM300 88H303V92H300ZM303 68H306V69H303ZM303 70H306V71H303ZM303 79H306V80H303ZM303 84H306V85H303ZM303 87H306V88H303ZM303 90H306V92H303ZM303 94H306V96H303ZM306 70H309V71H306ZM306 73H309V74H306ZM306 81H309V82H306ZM306 85H309V87H306ZM306 92H309V94H306ZM309 85H312V87H309ZM309 89H312V92H309ZM312 68H314V69H312ZM312 70H314V71H312ZM312 72H314V74H312ZM312 79H314V80H312ZM312 83H314V84H312ZM312 86H314V87H312ZM312 88H314V89H312ZM312 92H314V96H312ZM314 72H317V73H314ZM314 80H317V81H314ZM314 82H317V83H314ZM314 85H317V86H314ZM314 87H317V88H314ZM314 94H317V96H314ZM317 73H320V74H317ZM317 86H320V87H317ZM320 68H323V69H320ZM320 72H323V73H320ZM320 84H323V85H320ZM320 89H323V90H320ZM320 92H323V94H320ZM320 96H323V98H320ZM323 68H326V69H323ZM323 70H326V71H323ZM323 72H326V74H323ZM323 87H326V88H323ZM323 89H326V90H323ZM326 68H328V70H326ZM326 79H328V80H326ZM326 83H328V84H326ZM326 90H328V94H326ZM328 72H331V73H328ZM328 85H331V86H328ZM331 70H334V71H331ZM331 81H334V82H331ZM331 90H334V92H331ZM334 67H337V68H334ZM334 71H337V73H334ZM334 80H337V81H334ZM334 85H337V86H334ZM337 69H339V70H337ZM337 72H339V73H337ZM337 92H339V96H337ZM339 69H342V71H339ZM339 79H342V80H339ZM339 96H342V98H339ZM342 66H345V67H342ZM342 90H345V92H342ZM342 94H345V96H342ZM345 68H348V69H345ZM345 70H348V71H345ZM345 80H348V81H345ZM345 85H348V86H345ZM345 92H348V94H345ZM348 69H351V70H348ZM348 71H351V72H348ZM348 73H351V74H348ZM348 83H351V86H348ZM348 89H351V92H348ZM351 79H353V80H351ZM351 90H353V92H351ZM353 90H356V92H353ZM353 94H356V100H353ZM356 88H359V89H356ZM364 89H367V90H364ZM370 87H373V88H370ZM376 82H378V83H376ZM378 80H381V81H378ZM398 77H401V79H398ZM403 77H406V78H403ZM409 78H415V79H409ZM415 77H417V78H415ZM417 79H420V80H417ZM420 80H423V81H420ZM420 82H423V83H420ZM431 83H434V84H431ZM437 82H440V83H437ZM445 81H448V82H445ZM448 79H451V80H448Z"/>
<path fill="#fada24" d="M186 80H195V81H186ZM198 79H200V80H198ZM198 88H200V100H198ZM200 79H203V80H200ZM200 88H203V100H200ZM203 81H206V84H203ZM209 72H211V73H209ZM209 75H211V76H209ZM209 77H211V79H209ZM211 82H214V84H211ZM211 96H214V116H211ZM214 84H217V85H214ZM220 76H223V77H220ZM220 78H223V79H220ZM225 79H228V80H225ZM225 81H228V82H225ZM231 71H234V72H231ZM231 78H234V79H231ZM234 80H237V81H234ZM234 82H237V84H234ZM245 77H248V79H245ZM250 79H253V80H250ZM253 68H256V69H253ZM256 70H259V72H256ZM256 84H259V85H256ZM262 71H264V74H262ZM264 71H267V73H264ZM264 76H267V77H264ZM264 78H267V79H264ZM264 83H267V84H264ZM267 82H270V83H267ZM270 71H273V75H270ZM270 76H273V77H270ZM270 79H273V80H270ZM276 71H278V72H276ZM276 78H278V79H276ZM276 85H278V86H276ZM278 70H281V71H278ZM278 76H281V78H278ZM281 77H284V78H281ZM281 79H284V80H281ZM281 83H284V85H281ZM284 71H287V73H284ZM284 83H287V85H284ZM287 72H289V73H287ZM287 74H289V75H287ZM287 77H289V78H287ZM287 79H289V81H287ZM287 83H289V85H287ZM289 73H292V75H289ZM289 76H292V78H289ZM289 79H292V80H289ZM289 83H292V84H289ZM292 70H295V71H292ZM292 76H295V78H292ZM292 79H295V81H292ZM292 84H295V85H292ZM295 70H298V72H295ZM295 82H298V83H295ZM295 85H298V87H295ZM298 82H300V83H298ZM298 89H300V90H298ZM298 94H300V96H298ZM300 69H303V70H300ZM300 71H303V72H300ZM300 73H303V74H300ZM300 92H303V94H300ZM303 83H306V84H303ZM303 92H306V94H303ZM306 71H309V72H306ZM306 80H309V81H306ZM306 89H309V90H306ZM309 70H312V71H309ZM309 82H312V83H309ZM309 84H312V85H309ZM309 88H312V89H309ZM312 80H314V81H312ZM312 84H314V85H312ZM312 89H314V92H312ZM314 71H317V72H314ZM314 73H317V74H314ZM314 88H317V89H314ZM314 90H317V92H314ZM317 72H320V73H317ZM317 80H320V81H317ZM317 83H320V84H317ZM320 79H323V83H320ZM320 86H323V87H320ZM320 88H323V89H320ZM320 90H323V92H320ZM323 71H326V72H323ZM323 79H326V80H323ZM323 81H326V82H323ZM323 86H326V87H323ZM323 88H326V89H323ZM323 90H326V92H323ZM326 86H328V89H326ZM328 84H331V85H328ZM331 84H334V85H331ZM331 86H334V87H331ZM331 88H334V90H331ZM334 86H337V87H334ZM334 88H337V89H334ZM334 90H337V94H334ZM337 73H339V74H337ZM337 82H339V84H337ZM337 88H339V89H337ZM339 73H342V74H339ZM339 81H342V82H339ZM339 86H342V92H339ZM342 73H345V74H342ZM342 82H345V84H342ZM342 85H345V86H342ZM342 88H345V89H342ZM345 79H348V80H345ZM345 86H348V88H345ZM348 80H351V81H348ZM348 82H351V83H348ZM348 87H351V89H348ZM351 71H353V72H351ZM351 73H353V74H351ZM351 83H353V84H351ZM351 85H353V87H351ZM351 88H353V89H351ZM353 89H356V90H353ZM353 92H356V94H353ZM356 89H359V92H356ZM359 88H362V89H359ZM373 82H376V83H373ZM387 76H390V77H387ZM409 77H415V78H409ZM437 81H440V82H437Z"/>
<path fill="#fcd225" d="M195 73H198V74H195ZM198 76H200V78H198ZM200 76H203V77H200ZM200 78H203V79H200ZM203 76H206V77H203ZM206 73H209V76H206ZM206 78H209V79H206ZM206 96H209V108H206ZM214 73H217V74H214ZM217 72H220V73H217ZM225 78H228V79H225ZM228 72H231V76H228ZM228 79H231V80H228ZM237 72H240V73H237ZM237 74H240V76H237ZM240 76H242V77H240ZM242 79H245V80H242ZM248 77H250V78H248ZM250 76H253V79H250ZM253 69H256V70H253ZM253 74H256V75H253ZM253 82H256V83H253ZM256 77H259V78H256ZM256 81H259V83H256ZM259 73H262V74H259ZM259 75H262V76H259ZM259 77H262V78H259ZM259 80H262V82H259ZM259 83H262V84H259ZM262 78H264V82H262ZM262 83H264V84H262ZM264 80H267V81H264ZM264 82H267V83H264ZM267 72H270V74H267ZM267 78H270V79H267ZM276 74H278V75H276ZM276 81H278V83H276ZM276 84H278V85H276ZM281 73H284V76H281ZM281 80H284V83H281ZM289 80H292V81H289ZM292 71H295V74H292ZM295 72H298V73H295ZM295 80H298V82H295ZM298 70H300V72H298ZM298 80H300V81H298ZM298 86H300V87H298ZM300 86H303V87H300ZM303 82H306V83H303ZM303 86H306V87H303ZM306 87H309V88H306ZM312 81H314V82H312ZM314 81H317V82H314ZM314 83H317V85H314ZM317 84H320V86H317ZM320 83H323V84H320ZM323 82H326V83H323ZM323 85H326V86H323ZM328 79H331V80H328ZM328 83H331V84H328ZM331 79H334V80H331ZM331 83H334V84H331ZM334 84H337V85H334ZM334 87H337V88H334ZM339 83H342V84H339ZM339 85H342V86H339ZM342 80H345V82H342ZM342 84H345V85H342ZM348 81H351V82H348ZM353 67H356V68H353ZM353 69H356V70H353ZM353 73H356V74H353ZM353 88H356V89H353Z"/>
<path fill="#fccd25" d="M195 76H198V78H195ZM200 73H203V74H200ZM200 75H203V76H200ZM200 77H203V78H200ZM203 77H206V79H203ZM206 72H209V73H206ZM206 76H209V78H206ZM214 72H217V73H214ZM214 79H217V80H214ZM217 73H220V77H217ZM223 78H225V79H223ZM225 72H228V73H225ZM231 72H234V73H231ZM234 79H237V80H234ZM237 73H240V74H237ZM237 79H240V80H237ZM240 77H242V79H240ZM242 75H245V76H242ZM248 72H250V77H248ZM248 78H250V79H248ZM253 70H256V74H253ZM253 78H256V79H253ZM253 81H256V82H253ZM253 83H256V84H253ZM256 74H259V77H256ZM256 78H259V80H256ZM259 71H262V73H259ZM262 76H264V77H262ZM262 82H264V83H262ZM267 74H270V77H267ZM267 79H270V80H267ZM273 80H276V81H273ZM273 82H276V83H273ZM276 75H278V76H276ZM278 72H281V75H278ZM289 71H292V72H289ZM292 74H295V76H292ZM295 77H298V78H295ZM295 79H298V80H295ZM298 79H300V80H298ZM298 84H300V85H298ZM300 82H303V83H300ZM303 78H306V79H303ZM306 79H309V80H306ZM309 79H312V80H309ZM309 81H312V82H309ZM314 79H317V80H314ZM317 81H320V83H317ZM328 80H331V81H328ZM334 79H337V80H334ZM337 80H339V82H337ZM339 82H342V83H339ZM342 102H345V104H342ZM345 82H348V83H345ZM351 81H353V82H351ZM353 79H356V80H353ZM359 67H362V68H359ZM359 75H362V76H359ZM362 68H364V69H362ZM362 70H364V71H362ZM362 85H364V86H362ZM364 71H367V72H364ZM367 70H370V71H367ZM370 73H373V74H370ZM376 74H378V75H376ZM378 68H381V69H378ZM381 67H384V68H381ZM384 73H387V74H384ZM387 70H390V71H387ZM390 69H392V71H390ZM392 67H395V68H392ZM392 75H395V76H392ZM395 67H398V69H395ZM403 68H406V69H403ZM406 67H409V68H406ZM417 77H420V78H417ZM420 72H423V73H420ZM423 66H426V67H423ZM426 67H428V68H426ZM426 70H428V71H426ZM431 67H434V68H431ZM431 75H434V76H431ZM434 68H437V69H434ZM434 72H437V73H434ZM437 66H440V67H437ZM437 69H440V70H437ZM437 74H440V75H437ZM445 72H448V73H445ZM448 70H451V71H448ZM451 69H454.5V70H451ZM451 82H454.5V83H451Z"/>
<path fill="#fdc527" d="M203 72H206V73H203ZM211 76H214V77H211ZM223 76H225V77H223ZM228 76H231V77H228ZM234 78H237V79H234ZM237 76H240V77H237ZM237 78H240V79H237ZM250 75H253V76H250ZM253 76H256V77H253ZM256 72H259V73H256ZM300 81H303V82H300ZM303 96H306V98H303ZM306 74H309V75H306ZM306 96H309V98H306ZM312 96H314V98H312ZM323 77H326V78H323ZM323 96H326V98H323ZM337 96H339V98H337ZM345 74H348V75H345ZM345 76H348V77H345ZM345 96H348V98H345ZM353 66H356V67H353ZM353 70H356V71H353ZM353 82H356V83H353ZM356 67H359V68H356ZM356 84H359V86H356ZM359 72H362V73H359ZM359 74H362V75H359ZM359 77H362V79H359ZM359 80H362V81H359ZM359 83H362V84H359ZM359 87H362V88H359ZM362 69H364V70H362ZM362 79H364V80H362ZM362 83H364V85H362ZM364 70H367V71H364ZM364 79H367V80H364ZM364 83H367V84H364ZM367 67H370V68H367ZM367 81H370V82H367ZM370 66H373V68H370ZM370 78H373V79H370ZM370 83H373V85H370ZM373 70H376V71H373ZM373 73H376V74H373ZM373 78H376V79H373ZM376 68H378V69H376ZM376 71H378V72H376ZM376 76H378V77H376ZM378 66H381V68H378ZM378 75H381V76H378ZM381 69H384V70H381ZM381 75H384V76H381ZM381 77H384V78H381ZM384 78H387V79H384ZM387 68H390V70H387ZM387 72H390V73H387ZM387 74H390V75H387ZM392 72H395V73H392ZM398 73H401V74H398ZM401 69H403V70H401ZM401 74H403V75H401ZM406 75H409V76H406ZM409 72H415V73H409ZM409 75H415V76H409ZM415 70H417V71H415ZM417 67H420V69H417ZM420 67H423V69H420ZM420 71H423V72H420ZM423 69H426V70H423ZM423 71H426V72H423ZM423 76H426V77H423ZM426 79H428V80H426ZM428 71H431V72H428ZM428 75H431V76H428ZM431 66H434V67H431ZM431 68H434V69H431ZM431 73H434V75H431ZM431 76H434V77H431ZM431 80H434V82H431ZM434 74H437V75H434ZM440 79H442V80H440ZM440 81H442V82H440ZM445 67H448V69H445ZM445 77H448V78H445ZM448 67H451V68H448ZM448 69H451V70H448ZM448 71H451V72H448ZM448 75H451V76H448ZM451 67H454.5V68H451ZM451 73H454.5V74H451Z"/>
<path fill="#e4695e" d="M203 73H206V76H203ZM231 73H234V76H231Z"/>
<path fill="#eb7655" d="M206 79H209V83H206ZM309 73H312V78H309Z"/>
<path fill="#febb2b" d="M206 83H209V96H206ZM211 75H214V76H211ZM225 73H228V78H225ZM312 78H314V79H312ZM326 74H328V75H326ZM326 78H328V79H326ZM328 78H331V79H328ZM328 90H331V92H328ZM331 74H334V75H331ZM331 77H334V78H331ZM334 74H337V75H334ZM334 78H337V79H334ZM353 71H356V73H353ZM353 78H356V79H353ZM353 85H356V86H353ZM356 70H359V71H356ZM356 75H359V76H356ZM359 68H362V69H359ZM359 70H362V72H359ZM359 73H362V74H359ZM359 79H362V80H359ZM359 82H362V83H359ZM359 84H362V85H359ZM362 78H364V79H362ZM362 81H364V82H362ZM364 66H367V67H364ZM364 68H367V69H364ZM364 76H367V77H364ZM364 82H367V83H364ZM364 84H367V86H364ZM364 87H367V88H364ZM367 66H370V67H367ZM367 68H370V69H367ZM367 72H370V73H367ZM367 76H370V77H367ZM367 84H370V85H367ZM370 68H373V69H370ZM370 70H373V71H370ZM370 72H373V73H370ZM370 76H373V77H370ZM370 86H373V87H370ZM373 72H376V73H373ZM373 81H376V82H373ZM376 72H378V73H376ZM378 73H381V74H378ZM384 68H387V69H384ZM384 71H387V72H384ZM384 75H387V78H384ZM387 66H390V68H387ZM387 73H390V74H387ZM390 67H392V69H390ZM390 78H392V79H390ZM392 66H395V67H392ZM395 69H398V70H395ZM395 71H398V72H395ZM395 74H398V75H395ZM398 66H401V67H398ZM398 68H401V69H398ZM398 70H401V73H398ZM401 66H403V68H401ZM401 73H403V74H401ZM403 67H406V68H403ZM403 70H406V71H403ZM403 76H406V77H403ZM406 70H409V71H406ZM406 73H409V74H406ZM409 71H415V72H409ZM409 74H415V75H409ZM415 66H417V67H415ZM415 68H417V69H415ZM415 73H417V74H415ZM417 69H420V70H417ZM417 71H420V72H417ZM417 73H420V74H417ZM420 79H423V80H420ZM423 77H426V79H423ZM426 76H428V77H426ZM428 66H431V67H428ZM431 71H434V72H431ZM431 77H434V78H431ZM434 66H437V67H434ZM434 71H437V72H434ZM437 67H440V68H437ZM437 70H440V71H437ZM440 67H442V68H440ZM440 69H442V70H440ZM440 80H442V81H440ZM442 66H445V67H442ZM442 69H445V72H442ZM442 74H445V75H442ZM445 75H448V76H445ZM445 80H448V81H445ZM448 68H451V69H448ZM448 72H451V73H448ZM448 74H451V75H448ZM451 66H454.5V67H451ZM451 71H454.5V72H451ZM451 75H454.5V77H451ZM451 81H454.5V82H451Z"/>
<path fill="#a62098" d="M211 73H214V75H211Z"/>
<path fill="#f9983e" d="M211 80H214V82H211ZM298 76H300V77H298ZM314 76H317V77H314ZM317 75H320V76H317ZM331 75H334V76H331ZM334 75H337V78H334ZM339 77H342V78H339ZM348 74H351V75H348ZM351 76H353V77H351ZM356 74H359V75H356ZM356 76H359V77H356ZM381 72H384V73H381ZM392 69H395V70H392ZM406 68H409V69H406ZM409 70H415V71H409Z"/>
<path fill="#c9447a" d="M214 75H217V77H214ZM300 76H303V77H300ZM353 76H356V77H353Z"/>
<path fill="#f58b47" d="M214 78H217V79H214ZM217 78H220V79H217Z"/>
<path fill="#be3885" d="M234 74H237V75H234ZM326 75H328V76H326Z"/>
<path fill="#99159f" d="M234 76H237V78H234Z"/>
<path fill="#f1834c" d="M300 74H303V75H300ZM353 75H356V76H353ZM353 77H356V78H353ZM353 80H356V81H353ZM353 84H356V85H353Z"/>
<path fill="#fdb42f" d="M300 78H303V79H300ZM306 75H309V76H306ZM309 87H312V88H309ZM314 78H317V79H314ZM317 76H320V78H317ZM323 76H326V77H323ZM328 76H331V77H328ZM337 74H339V76H337ZM337 78H339V79H337ZM337 85H339V86H337ZM348 77H351V78H348ZM351 75H353V76H351ZM356 66H359V67H356ZM356 71H359V73H356ZM359 85H362V86H359ZM362 76H364V77H362ZM364 74H367V75H364ZM364 81H367V82H364ZM364 86H367V87H364ZM367 82H370V83H367ZM370 74H373V75H370ZM370 80H373V81H370ZM370 85H373V86H370ZM376 78H378V80H376ZM378 77H381V78H378ZM390 74H392V75H390ZM390 77H392V78H390ZM392 70H395V71H392ZM395 75H398V76H395ZM401 72H403V73H401ZM401 76H403V77H401ZM403 74H406V75H403ZM415 74H417V76H415ZM423 79H426V80H423ZM426 72H428V74H426ZM428 72H431V73H428ZM428 78H431V79H428ZM431 79H434V80H431ZM437 72H440V73H437ZM437 78H440V79H437ZM442 77H445V78H442ZM442 79H445V80H442ZM445 79H448V80H445ZM451 74H454.5V75H451ZM451 78H454.5V79H451ZM451 80H454.5V81H451Z"/>
<path fill="#8a09a5" d="M303 75H306V77H303Z"/>
<path fill="#f0f724" d="M587.5 66H590V184H587.5ZM590 67H593V216H590ZM593 67H596V200H593ZM596 67H615V216H596ZM615 67H624V232H615ZM624 67H627V270H624ZM627 69H629V251H627ZM629 69H632V406H629ZM632 66H635V340H632ZM635 66H638V282H635ZM638 66H640V451H638ZM640 66H643V446H640ZM643 67H646V394H643ZM646 66H649V336H646ZM649 66H652V383H649ZM652 66H654V453H652ZM654 66H657V336H654ZM657 67H660V294H657ZM660 67H663V305H660ZM663 66H666V446H663ZM666 67H668V449H666ZM668 66H671V447H668ZM671 66H674V452H671ZM674 66H677V451H674ZM677 66H679V452H677ZM679 67H682V332H679ZM682 66H685V348H682ZM685 69H688V450H685ZM688 69H691V448H688ZM691 69H694V445H691ZM694 66H696V447H694ZM696 66H700V444H696ZM700 66H702V447H700ZM702 66H704V451H702ZM704 66H707V448H704ZM707 66H710V447H707ZM710 66H713V451H710ZM713 66H716V453H713ZM716 66H718V367H716ZM718 66H721V448H718ZM721 66H724V417H721ZM724 66H727V453H724ZM727 66H729V452H727ZM729 66H732V447H729ZM732 66H735V433H732ZM735 66H738V447H735ZM738 66H741V449H738ZM741 66H743V450H741ZM743 66H746V447H743ZM746 66H749V450H746ZM749 66H752V398H749ZM752 66H755V448H752ZM755 66H757V446H755ZM757 66H760V336H757ZM760 66H763V321H760ZM763 66H766V321H763ZM766 66H768V451H766ZM768 66H771V448H768ZM771 66H774V448H771ZM774 66H777V445H774ZM777 66H780V441H777ZM780 66H782V410H780ZM782 66H785V449H782ZM785 66H788V452H785ZM788 66H791V450H788ZM791 66H793V445H791ZM793 66H796V453H793ZM796 66H799V449H796ZM799 66H802V453H799ZM802 66H805V450H802ZM805 66H807V451H805ZM807 66H810V447H807ZM810 66H813V446H810ZM813 66H816V447H813ZM816 66H819V452H816ZM819 66H821V445H819ZM821 66H824V451H821ZM824 66H827V448H824ZM827 66H830V445H827ZM830 66H832V446H830ZM832 66H835V450H832ZM835 66H838V452H835ZM838 66H844V452H838ZM844 66H846V449H844ZM846 66H849V452H846ZM849 66H852V446H849ZM852 66H855V447H852ZM855 66H857V450H855ZM857 66H860V449H857ZM860 66H863V448H860ZM863 66H866V452H863ZM866 66H869V448H866ZM869 66H871V454H869ZM871 66H874V447H871ZM874 66H877V445H874ZM877 66H880V450H877ZM880 66H882.5V447H880Z"/>
<path fill="#f3f027" d="M587.5 66H590V68H587.5ZM587.5 81H590V85H587.5ZM590 67H593V68H590ZM590 79H593V83H590ZM593 67H596V68H593ZM593 79H596V83H593ZM615 83H624V84H615ZM624 67H627V68H624ZM624 92H627V96H624ZM624 102H627V106H624ZM627 69H629V70H627ZM627 100H629V108H627ZM629 104H632V108H629ZM632 92H635V98H632ZM632 100H635V102H632ZM632 104H635V106H632ZM635 66H638V67H635ZM635 68H638V69H635ZM638 66H640V68H638ZM638 96H640V98H638ZM638 100H640V102H638ZM643 96H646V98H643ZM643 102H646V110H643ZM646 96H649V108H646ZM649 96H652V98H649ZM649 100H652V104H649ZM652 66H654V67H652ZM652 94H654V96H652ZM652 98H654V100H652ZM652 104H654V106H652ZM654 98H657V100H654ZM654 102H657V108H654ZM657 70H660V71H657ZM657 100H660V102H657ZM660 67H663V68H660ZM660 92H663V94H660ZM660 100H663V104H660ZM663 68H666V69H663ZM663 96H666V108H663ZM666 98H668V108H666ZM668 96H671V104H668ZM671 98H674V104H671ZM674 84H677V85H674ZM674 86H677V87H674ZM674 94H677V98H674ZM674 100H677V106H674ZM677 66H679V68H677ZM677 100H679V106H677ZM679 67H682V68H679ZM679 92H682V96H679ZM679 98H682V106H679ZM682 100H685V110H682ZM685 96H688V98H685ZM685 100H688V102H685ZM688 92H691V102H688ZM691 92H694V100H691ZM694 88H696V92H694ZM694 94H696V98H694ZM696 66H700V67H696ZM696 92H700V102H696ZM700 66H702V67H700ZM700 92H702V98H700ZM702 92H704V98H702ZM704 66H707V68H704ZM704 92H707V100H704ZM710 66H713V67H710ZM710 89H713V100H710ZM713 66H716V67H713ZM713 90H716V92H713ZM713 94H716V96H713ZM713 100H716V104H713ZM716 66H718V67H716ZM716 96H718V100H716ZM718 66H721V68H718ZM718 92H721V96H718ZM718 100H721V102H718ZM721 66H724V68H721ZM721 90H724V98H721ZM724 96H727V104H724ZM727 102H729V110H727ZM729 104H732V106H729ZM729 108H732V110H729ZM732 104H735V110H732ZM735 104H738V110H735ZM738 102H741V104H738ZM738 106H741V112H738ZM741 108H743V112H741ZM743 106H746V108H743ZM743 110H746V112H743ZM746 106H749V112H746ZM749 104H752V106H749ZM749 108H752V112H749ZM752 102H755V104H752ZM752 106H755V112H752ZM755 104H757V110H755ZM757 108H760V110H757ZM760 100H763V102H760ZM760 106H763V108H760ZM763 102H766V104H763ZM763 108H766V112H763ZM766 104H768V106H766ZM766 110H768V112H766ZM768 106H771V108H768ZM768 110H771V112H768ZM771 104H774V110H771ZM771 112H774V114H771ZM774 100H777V104H774ZM774 106H777V110H774ZM777 104H780V114H777ZM780 104H782V110H780ZM782 108H785V112H782ZM785 100H788V104H785ZM788 96H791V102H788ZM791 94H793V100H791ZM793 98H796V102H793ZM796 94H799V98H796ZM799 96H802V102H799ZM802 94H805V98H802ZM805 90H807V96H805ZM807 89H810V94H807ZM810 89H813V94H810ZM813 88H816V92H813ZM816 84H819V85H816ZM816 87H819V92H816ZM819 86H821V94H819ZM821 83H824V84H821ZM821 87H824V89H821ZM824 84H827V85H824ZM824 87H827V89H824ZM827 85H830V86H827ZM827 88H830V92H827ZM830 85H832V86H830ZM830 87H832V90H830ZM832 85H835V92H832ZM835 86H838V88H835ZM835 90H838V92H835ZM838 86H844V92H838ZM844 88H846V90H844ZM846 87H849V94H846ZM849 92H852V96H849ZM852 90H855V96H852ZM855 92H857V96H855ZM857 92H860V94H857ZM860 92H863V96H860ZM863 90H866V96H863ZM866 90H869V94H866ZM869 89H871V90H869ZM869 92H871V96H869ZM871 90H874V96H871ZM874 92H877V96H874ZM877 88H880V89H877ZM877 90H880V94H877ZM880 94H882.5V96H880Z"/>
<path fill="#f4ed27" d="M587.5 68H590V71H587.5ZM587.5 80H590V81H587.5ZM590 68H593V70H590ZM590 77H593V79H590ZM593 68H596V70H593ZM593 78H596V79H593ZM596 67H615V68H596ZM615 82H624V83H615ZM615 89H624V90H615ZM624 68H627V70H624ZM624 90H627V92H624ZM624 96H627V100H624ZM627 70H629V71H627ZM627 80H629V81H627ZM627 82H629V84H627ZM629 87H632V88H629ZM629 100H632V104H629ZM632 66H635V67H632ZM632 68H635V69H632ZM632 90H635V92H632ZM632 98H635V100H632ZM635 67H638V68H635ZM635 70H638V72H635ZM638 68H640V70H638ZM638 87H640V88H638ZM638 92H640V96H638ZM638 98H640V100H638ZM640 66H643V68H640ZM643 98H646V102H643ZM646 66H649V72H646ZM646 94H649V96H646ZM649 66H652V69H649ZM649 81H652V84H649ZM649 85H652V86H649ZM649 90H652V92H649ZM649 94H652V96H649ZM652 67H654V68H652ZM652 80H654V84H652ZM652 86H654V87H652ZM652 88H654V89H652ZM652 92H654V94H652ZM652 96H654V98H652ZM654 66H657V69H654ZM654 94H657V98H654ZM654 100H657V102H654ZM657 67H660V70H657ZM657 90H660V100H657ZM660 90H663V92H660ZM660 94H663V96H660ZM660 98H663V100H660ZM663 66H666V67H663ZM663 69H666V70H663ZM663 92H666V96H663ZM666 67H668V70H666ZM666 71H668V72H666ZM666 96H668V98H666ZM668 66H671V71H668ZM668 83H671V84H668ZM668 92H671V96H668ZM671 66H674V69H671ZM671 94H674V98H671ZM674 66H677V68H674ZM674 69H677V70H674ZM674 83H677V84H674ZM674 87H677V88H674ZM674 89H677V94H674ZM674 98H677V100H674ZM677 96H679V100H677ZM679 86H682V87H679ZM679 96H682V98H679ZM682 66H685V67H682ZM682 94H685V100H682ZM685 88H688V96H685ZM688 88H691V92H688ZM691 86H694V92H691ZM694 66H696V68H694ZM694 92H696V94H694ZM696 67H700V68H696ZM696 90H700V92H696ZM700 68H702V69H700ZM700 88H702V92H700ZM702 66H704V67H702ZM702 68H704V69H702ZM702 87H704V92H702ZM704 90H707V92H704ZM707 66H710V67H707ZM707 87H710V88H707ZM707 92H710V96H707ZM710 67H713V68H710ZM710 88H713V89H710ZM713 88H716V90H713ZM713 92H716V94H713ZM716 67H718V68H716ZM716 92H718V96H716ZM718 86H721V92H718ZM721 88H724V90H721ZM724 66H727V67H724ZM724 90H727V96H724ZM729 98H732V100H729ZM729 102H732V104H729ZM729 106H732V108H729ZM732 72H735V73H732ZM732 100H735V104H732ZM735 68H738V69H735ZM735 100H738V104H735ZM738 67H741V68H738ZM738 69H741V70H738ZM738 96H741V100H738ZM738 104H741V106H738ZM741 66H743V68H741ZM741 102H743V108H741ZM743 96H746V98H743ZM743 100H746V106H743ZM746 70H749V71H746ZM746 94H749V96H746ZM746 98H749V100H746ZM746 104H749V106H746ZM749 67H752V68H749ZM749 69H752V70H749ZM749 71H752V72H749ZM749 100H752V104H749ZM749 106H752V108H749ZM749 114H752V116H749ZM752 66H755V68H752ZM752 94H755V96H752ZM752 98H755V102H752ZM752 104H755V106H752ZM755 98H757V102H755ZM757 67H760V68H757ZM757 71H760V72H757ZM757 102H760V108H757ZM760 66H763V68H760ZM760 94H763V96H760ZM760 98H763V100H760ZM760 104H763V106H760ZM763 104H766V108H763ZM766 98H768V102H766ZM766 106H768V110H766ZM768 67H771V68H768ZM768 98H771V100H768ZM768 104H771V106H768ZM768 108H771V110H768ZM771 68H774V69H771ZM771 71H774V72H771ZM771 92H774V94H771ZM771 98H774V100H771ZM774 66H777V67H774ZM774 94H777V96H774ZM774 98H777V100H774ZM777 66H780V68H777ZM777 94H780V96H777ZM777 102H780V104H777ZM780 67H782V70H780ZM780 102H782V104H780ZM782 102H785V104H782ZM785 96H788V100H785ZM785 108H788V110H785ZM791 92H793V94H791ZM793 94H796V98H793ZM796 88H799V89H796ZM796 90H799V94H796ZM799 92H802V96H799ZM802 87H805V94H802ZM805 85H807V86H805ZM805 87H807V88H805ZM805 89H807V90H805ZM807 84H810V89H807ZM810 83H813V85H810ZM810 86H813V89H810ZM813 85H816V88H813ZM816 81H819V82H816ZM816 83H819V84H816ZM816 85H819V87H816ZM819 82H821V83H819ZM819 84H821V86H819ZM821 80H824V83H821ZM821 84H824V87H821ZM824 82H827V84H824ZM824 85H827V87H824ZM827 81H830V82H827ZM827 83H830V85H827ZM827 86H830V88H827ZM830 83H832V85H830ZM830 86H832V87H830ZM832 80H835V82H832ZM832 84H835V85H832ZM835 80H838V81H835ZM835 82H838V86H835ZM838 83H844V86H838ZM844 81H846V82H844ZM844 84H846V88H844ZM846 81H849V87H846ZM849 86H852V92H849ZM852 85H855V87H852ZM852 88H855V90H852ZM855 84H857V85H855ZM855 87H857V92H855ZM857 89H860V92H857ZM860 85H863V86H860ZM860 87H863V88H860ZM860 89H863V92H860ZM863 85H866V90H863ZM866 87H869V90H866ZM869 88H871V89H869ZM869 90H871V92H869ZM871 82H874V83H871ZM871 84H874V86H871ZM871 87H874V90H871ZM874 85H877V86H874ZM874 87H877V92H874ZM877 82H880V83H877ZM877 84H880V88H877ZM877 89H880V90H877ZM880 87H882.5V88H880ZM880 89H882.5V94H880Z"/>
<path fill="#f5e926" d="M587.5 71H590V73H587.5ZM587.5 78H590V80H587.5ZM590 70H593V72H590ZM590 76H593V77H590ZM593 70H596V73H593ZM593 76H596V78H593ZM596 77H615V79H596ZM615 67H624V69H615ZM615 81H624V82H615ZM615 90H624V98H615ZM624 71H627V72H624ZM624 80H627V83H624ZM624 84H627V87H624ZM624 88H627V90H624ZM627 71H629V72H627ZM627 81H629V82H627ZM627 84H629V87H627ZM629 69H632V70H629ZM629 82H632V83H629ZM629 84H632V87H629ZM632 67H635V68H632ZM632 69H635V71H632ZM632 87H635V90H632ZM635 69H638V70H635ZM638 70H640V71H638ZM638 80H640V81H638ZM638 85H640V87H638ZM638 88H640V92H638ZM640 69H643V70H640ZM640 92H643V96H640ZM643 67H646V70H643ZM643 88H646V96H643ZM646 80H649V81H646ZM646 83H649V84H646ZM646 88H649V94H646ZM649 70H652V71H649ZM649 84H652V85H649ZM649 86H652V90H649ZM649 92H652V94H649ZM652 68H654V71H652ZM652 84H654V86H652ZM652 87H654V88H652ZM652 89H654V92H652ZM654 69H657V71H654ZM654 85H657V88H654ZM657 71H660V72H657ZM657 82H660V85H657ZM657 86H660V90H657ZM660 68H663V71H660ZM660 83H663V84H660ZM660 88H663V90H660ZM660 96H663V98H660ZM663 67H666V68H663ZM663 71H666V72H663ZM663 86H666V88H663ZM666 80H668V82H666ZM666 83H668V84H666ZM666 86H668V88H666ZM666 92H668V96H666ZM668 71H671V72H668ZM668 80H671V83H668ZM668 85H671V86H668ZM668 90H671V92H668ZM671 69H674V72H671ZM671 80H674V81H671ZM671 82H674V84H671ZM674 68H677V69H674ZM674 71H677V72H674ZM674 80H677V82H674ZM674 85H677V86H674ZM674 88H677V89H674ZM677 92H679V96H677ZM679 68H682V69H679ZM679 70H682V71H679ZM679 84H682V85H679ZM679 87H682V88H679ZM679 89H682V90H679ZM682 89H685V94H682ZM688 87H691V88H688ZM691 85H694V86H691ZM694 68H696V69H694ZM694 87H696V88H694ZM696 68H700V69H696ZM696 86H700V90H696ZM700 67H702V68H700ZM700 86H702V88H700ZM702 67H704V68H702ZM702 69H704V71H702ZM702 84H704V85H702ZM702 86H704V87H702ZM704 88H707V90H704ZM707 67H710V69H707ZM707 86H710V87H707ZM707 88H710V92H707ZM710 68H713V70H710ZM710 87H713V88H710ZM713 67H716V70H713ZM716 87H718V88H716ZM716 89H718V92H716ZM718 84H721V86H718ZM721 87H724V88H721ZM724 88H727V90H724ZM727 66H729V67H727ZM727 90H729V92H727ZM727 100H729V102H727ZM729 100H732V102H729ZM735 66H738V68H735ZM735 94H738V96H735ZM735 98H738V100H735ZM738 68H741V69H738ZM738 71H741V72H738ZM738 92H741V96H738ZM741 71H743V72H741ZM741 98H743V100H741ZM743 68H746V71H743ZM743 86H746V87H743ZM743 98H746V100H743ZM746 67H749V68H746ZM746 69H749V70H746ZM746 71H749V72H746ZM746 87H749V88H746ZM746 90H749V94H746ZM746 96H749V98H746ZM746 100H749V104H746ZM749 70H752V71H749ZM749 73H752V74H749ZM749 94H752V96H749ZM749 98H752V100H749ZM752 69H755V70H752ZM752 92H755V94H752ZM755 67H757V68H755ZM755 94H757V96H755ZM755 102H757V104H755ZM757 66H760V67H757ZM757 68H760V69H757ZM757 88H760V89H757ZM757 96H760V100H757ZM757 112H760V114H757ZM760 68H763V70H760ZM760 72H763V74H760ZM760 96H763V98H760ZM760 102H763V104H760ZM763 66H766V67H763ZM763 68H766V69H763ZM763 73H766V74H763ZM763 89H766V90H763ZM763 96H766V100H763ZM766 66H768V67H766ZM766 68H768V69H766ZM766 71H768V72H766ZM766 102H768V104H766ZM768 71H771V72H768ZM768 92H771V94H768ZM768 100H771V104H768ZM771 67H774V68H771ZM771 70H774V71H771ZM771 86H774V87H771ZM771 89H774V90H771ZM771 100H774V102H771ZM774 67H777V68H774ZM774 69H777V70H774ZM774 88H777V92H774ZM774 104H777V106H774ZM777 70H780V71H777ZM777 72H780V73H777ZM777 92H780V94H777ZM777 100H780V102H777ZM780 66H782V67H780ZM780 92H782V94H780ZM780 98H782V100H780ZM782 100H785V102H782ZM782 104H785V106H782ZM785 94H788V96H785ZM788 94H791V96H788ZM791 87H793V88H791ZM793 90H796V94H793ZM796 85H799V87H796ZM796 89H799V90H796ZM799 88H802V92H799ZM802 83H805V85H802ZM802 86H805V87H802ZM805 84H807V85H805ZM805 86H807V87H805ZM805 88H807V89H805ZM807 83H810V84H807ZM810 81H813V82H810ZM810 85H813V86H810ZM813 79H816V85H813ZM816 82H819V83H816ZM819 79H821V81H819ZM819 83H821V84H819ZM821 78H824V79H821ZM824 77H827V78H824ZM824 79H827V80H824ZM827 82H830V83H827ZM830 78H832V79H830ZM830 80H832V83H830ZM832 79H835V80H832ZM832 82H835V84H832ZM835 76H838V78H835ZM835 81H838V82H835ZM838 79H844V81H838ZM838 82H844V83H838ZM844 78H846V79H844ZM844 80H846V81H844ZM844 82H846V84H844ZM849 81H852V82H849ZM849 85H852V86H849ZM852 83H855V85H852ZM852 87H855V88H852ZM855 86H857V87H855ZM857 83H860V84H857ZM857 86H860V89H857ZM860 84H863V85H860ZM860 86H863V87H860ZM860 88H863V89H860ZM863 81H866V82H863ZM863 83H866V85H863ZM866 85H869V87H866ZM869 82H871V88H869ZM871 81H874V82H871ZM871 86H874V87H871ZM874 82H877V85H874ZM874 86H877V87H874ZM877 80H880V81H877ZM877 83H880V84H877ZM880 84H882.5V85H880ZM880 86H882.5V87H880ZM880 88H882.5V89H880Z"/>
<path fill="#fec029" d="M587.5 73H590V74H587.5ZM635 83H638V96H635ZM640 75H643V76H640ZM654 73H657V78H654ZM741 78H743V79H741ZM743 74H746V75H743ZM755 74H757V75H755ZM755 78H757V79H755ZM757 78H760V79H757ZM757 90H760V92H757ZM760 74H763V75H760ZM760 77H763V79H760ZM763 74H766V75H763ZM763 78H766V79H763ZM777 78H780V79H777ZM782 71H785V73H782ZM782 78H785V79H782ZM782 83H785V84H782ZM782 85H785V86H782ZM785 70H788V71H785ZM785 75H788V76H785ZM788 68H791V69H788ZM788 70H791V72H788ZM788 73H791V74H788ZM788 79H791V80H788ZM788 82H791V83H788ZM788 84H791V85H788ZM791 72H793V73H791ZM791 78H793V79H791ZM791 81H793V82H791ZM793 66H796V67H793ZM793 68H796V69H793ZM793 76H796V78H793ZM793 82H796V83H793ZM793 84H796V86H793ZM793 87H796V88H793ZM796 66H799V67H796ZM796 68H799V69H796ZM796 72H799V74H796ZM796 76H799V77H796ZM796 79H799V80H796ZM796 84H799V85H796ZM799 68H802V69H799ZM799 70H802V71H799ZM799 72H802V73H799ZM799 76H802V77H799ZM799 79H802V80H799ZM799 86H802V87H799ZM802 69H805V70H802ZM802 71H805V73H802ZM802 74H805V75H802ZM802 81H805V82H802ZM805 72H807V73H805ZM805 77H807V78H805ZM805 80H807V82H805ZM807 72H810V74H807ZM807 78H810V80H807ZM810 74H813V75H810ZM813 68H816V69H813ZM813 71H816V73H813ZM813 74H816V78H813ZM816 66H819V68H816ZM816 73H819V74H816ZM819 66H821V69H819ZM819 72H821V73H819ZM819 78H821V79H819ZM821 66H824V67H821ZM821 68H824V69H821ZM824 69H827V70H824ZM824 71H827V72H824ZM824 74H827V75H824ZM827 66H830V67H827ZM827 68H830V73H827ZM830 66H832V68H830ZM830 73H832V74H830ZM830 75H832V76H830ZM832 67H835V68H832ZM832 69H835V72H832ZM832 73H835V74H832ZM832 76H835V77H832ZM835 70H838V71H835ZM835 73H838V74H835ZM838 71H844V72H838ZM838 73H844V75H838ZM838 76H844V77H838ZM844 66H846V67H844ZM844 68H846V70H844ZM844 73H846V74H844ZM846 69H849V70H846ZM846 71H849V72H846ZM846 73H849V74H846ZM849 70H852V71H849ZM849 77H852V78H849ZM849 79H852V80H849ZM852 70H855V71H852ZM852 77H855V79H852ZM855 76H857V77H855ZM857 66H860V67H857ZM857 68H860V69H857ZM857 76H860V77H857ZM860 70H863V73H860ZM860 77H863V79H860ZM863 66H866V67H863ZM863 69H866V72H863ZM863 79H866V80H863ZM866 67H869V68H866ZM866 70H869V72H866ZM866 73H869V74H866ZM869 67H871V68H869ZM869 69H871V71H869ZM869 75H871V77H869ZM869 80H871V81H869ZM871 66H874V67H871ZM871 69H874V72H871ZM871 74H874V75H871ZM874 70H877V72H874ZM874 73H877V74H874ZM874 75H877V76H874ZM874 78H877V79H874ZM874 80H877V81H874ZM877 68H880V69H877ZM877 72H880V73H877ZM877 74H880V75H877ZM877 76H880V77H877ZM880 66H882.5V67H880ZM880 71H882.5V73H880ZM880 75H882.5V77H880ZM880 81H882.5V82H880Z"/>
<path fill="#fa9b3d" d="M587.5 74H590V75H587.5ZM727 76H729V77H727ZM729 77H732V78H729ZM741 77H743V78H741ZM755 76H757V78H755ZM760 75H763V76H760ZM763 75H766V76H763ZM763 77H766V78H763ZM771 75H774V76H771ZM774 75H777V76H774ZM796 77H799V79H796ZM799 81H802V82H799ZM802 75H805V76H802ZM810 72H813V73H810ZM824 73H827V74H824ZM838 70H844V71H838ZM846 75H849V76H846ZM855 78H857V79H855ZM866 76H869V77H866Z"/>
<path fill="#fca636" d="M587.5 75H590V76H587.5ZM596 68H615V71H596ZM727 75H729V76H727ZM729 75H732V76H729ZM729 80H732V81H729ZM741 76H743V77H741ZM768 75H771V76H768ZM782 74H785V75H782Z"/>
<path fill="#fdae32" d="M587.5 76H590V77H587.5ZM590 73H593V74H590ZM668 72H671V76H668ZM727 77H729V79H727ZM743 77H746V78H743ZM746 78H749V79H746ZM749 76H752V77H749ZM757 77H760V78H757ZM771 74H774V75H771ZM771 76H774V78H771ZM777 75H780V76H777ZM785 81H788V83H785Z"/>
<path fill="#f6e626" d="M587.5 77H590V78H587.5ZM590 72H593V73H590ZM593 73H596V74H593ZM593 75H596V76H593ZM596 75H615V77H596ZM615 69H624V72H615ZM624 70H627V71H624ZM624 83H627V84H624ZM624 87H627V88H624ZM627 87H629V88H627ZM629 71H632V72H629ZM629 80H632V82H629ZM629 83H632V84H629ZM632 71H635V72H632ZM632 85H635V87H632ZM638 79H640V80H638ZM638 81H640V85H638ZM640 68H643V69H640ZM640 86H643V92H640ZM643 70H646V71H643ZM643 85H646V86H643ZM646 82H649V83H646ZM646 87H649V88H646ZM649 69H652V70H649ZM649 71H652V72H649ZM649 79H652V81H649ZM652 71H654V72H652ZM654 71H657V72H654ZM654 84H657V85H654ZM654 89H657V94H654ZM657 80H660V82H657ZM657 85H660V86H657ZM660 80H663V83H660ZM660 87H663V88H660ZM663 70H666V71H663ZM663 84H666V86H663ZM663 88H666V92H663ZM666 70H668V71H666ZM666 82H668V83H666ZM666 85H668V86H666ZM666 88H668V92H666ZM668 84H671V85H668ZM668 86H671V90H668ZM671 81H674V82H671ZM671 86H674V87H671ZM674 70H677V71H674ZM674 79H677V80H674ZM674 82H677V83H674ZM677 68H679V72H677ZM677 81H679V82H677ZM677 83H679V84H677ZM677 86H679V89H677ZM677 90H679V92H677ZM679 69H682V70H679ZM679 71H682V72H679ZM679 80H682V82H679ZM679 85H682V86H679ZM679 88H682V89H679ZM679 90H682V92H679ZM682 67H685V68H682ZM682 87H685V89H682ZM685 87H688V88H685ZM688 86H691V87H688ZM691 70H694V71H691ZM691 84H694V85H691ZM694 69H696V71H694ZM694 86H696V87H694ZM696 69H700V72H696ZM696 83H700V84H696ZM696 85H700V86H696ZM700 69H702V70H700ZM700 81H702V84H700ZM702 71H704V72H702ZM702 85H704V86H702ZM704 68H707V69H704ZM704 87H707V88H704ZM707 82H710V84H707ZM707 85H710V86H707ZM710 86H713V87H710ZM713 87H716V88H713ZM716 68H718V69H716ZM716 88H718V89H716ZM718 68H721V69H718ZM721 68H724V69H721ZM721 82H724V83H721ZM721 86H724V87H721ZM724 67H727V70H724ZM727 67H729V68H727ZM727 88H729V89H727ZM727 96H729V100H727ZM729 66H732V69H729ZM729 94H732V98H729ZM732 66H735V68H732ZM732 69H735V70H732ZM732 71H735V72H732ZM732 73H735V74H732ZM732 89H735V90H732ZM732 98H735V100H732ZM735 69H738V70H735ZM735 72H738V73H735ZM735 90H738V92H735ZM738 66H741V67H738ZM738 72H741V73H738ZM738 86H741V87H738ZM738 100H741V102H738ZM741 69H743V70H741ZM741 83H743V84H741ZM741 87H743V88H741ZM743 66H746V68H743ZM743 89H746V90H743ZM743 92H746V94H743ZM746 66H749V67H746ZM746 68H749V69H746ZM746 89H749V90H746ZM749 66H752V67H749ZM749 85H752V86H749ZM749 87H752V88H749ZM752 72H755V73H752ZM752 84H755V85H752ZM755 66H757V67H755ZM755 69H757V74H755ZM755 81H757V83H755ZM755 84H757V86H755ZM755 92H757V94H755ZM755 96H757V98H755ZM757 69H760V71H757ZM757 72H760V74H757ZM757 81H760V83H757ZM757 86H760V88H757ZM757 89H760V90H757ZM757 92H760V96H757ZM757 100H760V102H757ZM760 71H763V72H760ZM760 87H763V88H760ZM760 92H763V94H760ZM763 69H766V71H763ZM763 94H766V96H763ZM763 100H766V102H763ZM766 67H768V68H766ZM766 70H768V71H766ZM766 79H768V80H766ZM766 87H768V88H766ZM768 66H771V67H768ZM768 68H771V69H768ZM768 72H771V73H768ZM768 94H771V96H768ZM771 66H774V67H771ZM771 69H774V70H771ZM771 72H774V73H771ZM771 96H774V98H771ZM774 71H777V74H774ZM774 92H777V94H774ZM777 68H780V69H777ZM777 86H780V87H777ZM777 96H780V100H777ZM780 70H782V71H780ZM780 72H782V73H780ZM780 84H782V85H780ZM780 87H782V88H780ZM780 89H782V90H780ZM780 94H782V98H780ZM782 98H785V100H782ZM785 92H788V94H785ZM788 89H791V94H788ZM791 86H793V87H791ZM791 88H793V92H791ZM793 88H796V89H793ZM796 87H799V88H796ZM802 85H805V86H802ZM805 83H807V84H805ZM807 81H810V83H807ZM810 79H813V81H810ZM810 82H813V83H810ZM816 77H819V81H816ZM819 81H821V82H819ZM821 76H824V78H821ZM821 79H824V80H821ZM824 78H827V79H824ZM824 80H827V82H824ZM827 78H830V81H827ZM830 79H832V80H830ZM832 78H835V79H832ZM835 78H838V80H835ZM838 81H844V82H838ZM844 79H846V80H844ZM846 78H849V79H846ZM846 80H849V81H846ZM849 82H852V85H849ZM852 82H855V83H852ZM855 82H857V84H855ZM855 85H857V86H855ZM857 82H860V83H857ZM857 84H860V86H857ZM860 82H863V83H860ZM863 82H866V83H863ZM866 83H869V85H866ZM871 80H874V81H871ZM871 83H874V84H871ZM877 79H880V80H877ZM877 81H880V82H877ZM880 83H882.5V84H880ZM880 85H882.5V86H880Z"/>
<path fill="#fdb42f" d="M590 74H593V76H590ZM727 74H729V75H727ZM729 84H732V85H729ZM732 74H735V75H732ZM735 76H738V77H735ZM738 78H741V79H738ZM741 75H743V76H741ZM741 82H743V83H741ZM743 75H746V76H743ZM749 75H752V76H749ZM749 78H752V79H749ZM752 78H755V79H752ZM755 80H757V81H755ZM760 76H763V77H760ZM766 76H768V77H766ZM774 78H777V79H774ZM774 83H777V84H774ZM777 76H780V77H777ZM780 78H782V79H780ZM780 80H782V81H780ZM780 82H782V83H780ZM782 81H785V82H782ZM785 78H788V80H785ZM785 83H788V84H785ZM827 76H830V77H827Z"/>
<path fill="#fdc627" d="M593 74H596V75H593ZM632 72H635V73H632ZM643 77H646V78H643ZM657 76H660V77H657ZM663 78H666V79H663ZM666 76H668V77H666ZM666 78H668V79H666ZM671 88H674V94H671ZM674 72H677V77H674ZM679 73H682V74H679ZM682 76H685V77H682ZM732 96H735V98H732ZM735 74H738V75H735ZM735 96H738V98H735ZM741 96H743V98H741ZM746 74H749V75H746ZM752 75H755V76H752ZM752 77H755V78H752ZM752 96H755V98H752ZM766 96H768V98H766ZM768 74H771V75H768ZM768 78H771V79H768ZM774 74H777V75H774ZM774 77H777V78H774ZM774 96H777V98H774ZM782 68H785V69H782ZM782 70H785V71H782ZM782 82H785V83H782ZM785 69H788V70H785ZM785 80H788V81H785ZM785 84H788V85H785ZM788 72H791V73H788ZM788 76H791V77H788ZM788 78H791V79H788ZM788 80H791V81H788ZM788 83H791V84H788ZM788 86H791V87H788ZM791 74H793V76H791ZM791 79H793V81H791ZM791 83H793V85H791ZM793 67H796V68H793ZM793 70H796V71H793ZM793 78H796V79H793ZM793 83H796V84H793ZM796 67H799V68H796ZM796 69H799V70H796ZM796 75H799V76H796ZM796 80H799V82H796ZM799 69H802V70H799ZM799 77H802V79H799ZM799 83H802V85H799ZM802 67H805V69H802ZM802 70H805V71H802ZM802 77H805V78H802ZM802 79H805V80H802ZM805 67H807V68H805ZM805 69H807V72H805ZM805 73H807V74H805ZM805 75H807V77H805ZM807 66H810V67H807ZM807 69H810V71H807ZM807 74H810V77H807ZM810 66H813V67H810ZM810 68H813V72H810ZM810 73H813V74H810ZM810 75H813V76H810ZM813 69H816V70H813ZM813 78H816V79H813ZM816 69H819V70H816ZM816 74H819V75H816ZM821 72H824V74H821ZM824 66H827V67H824ZM824 70H827V71H824ZM827 75H830V76H827ZM830 68H832V69H830ZM830 70H832V72H830ZM830 74H832V75H830ZM832 66H835V67H832ZM832 75H835V76H832ZM835 66H838V67H835ZM835 69H838V70H835ZM835 71H838V72H835ZM838 67H844V68H838ZM844 67H846V68H844ZM844 71H846V72H844ZM846 66H849V68H846ZM846 72H849V73H846ZM846 74H849V75H846ZM849 66H852V68H849ZM849 74H852V75H849ZM849 76H852V77H849ZM852 67H855V68H852ZM852 71H855V72H852ZM852 74H855V75H852ZM852 76H855V77H852ZM855 66H857V67H855ZM855 68H857V70H855ZM855 71H857V72H855ZM855 74H857V76H855ZM855 79H857V82H855ZM857 67H860V68H857ZM857 71H860V72H857ZM857 74H860V75H857ZM857 79H860V80H857ZM857 81H860V82H857ZM860 66H863V67H860ZM860 68H863V69H860ZM860 74H863V75H860ZM860 76H863V77H860ZM863 67H866V68H863ZM863 74H866V75H863ZM863 77H866V79H863ZM866 68H869V69H866ZM866 75H869V76H866ZM869 66H871V67H869ZM869 68H871V69H869ZM869 71H871V73H869ZM869 77H871V78H869ZM869 79H871V80H869ZM871 67H874V68H871ZM871 73H874V74H871ZM874 66H877V67H874ZM874 68H877V69H874ZM874 74H877V75H874ZM874 77H877V78H874ZM877 67H880V68H877ZM877 77H880V79H877ZM880 68H882.5V69H880ZM880 70H882.5V71H880ZM880 79H882.5V80H880Z"/>
<path fill="#fccd25" d="M596 71H615V72H596ZM615 74H624V80H615ZM624 76H627V77H624ZM624 78H627V79H624ZM629 72H632V73H629ZM629 74H632V76H629ZM635 76H638V78H635ZM640 76H643V79H640ZM646 77H649V78H646ZM652 76H654V78H652ZM657 77H660V79H657ZM666 77H668V78H666ZM671 72H674V75H671ZM671 76H674V79H671ZM677 75H679V76H677ZM679 72H682V73H679ZM679 74H682V76H679ZM682 71H685V72H682ZM682 73H685V74H682ZM682 77H685V78H682ZM682 79H685V81H682ZM685 72H688V74H685ZM685 78H688V79H685ZM691 76H694V78H691ZM696 74H700V75H696ZM696 77H700V78H696ZM707 73H710V76H707ZM724 74H727V77H724ZM724 78H727V79H724ZM727 79H729V80H727ZM727 81H729V82H727ZM727 83H729V84H727ZM727 85H729V86H727ZM729 81H732V82H729ZM732 80H735V81H732ZM735 79H738V80H735ZM738 79H741V80H738ZM741 100H743V102H741ZM746 81H749V82H746ZM768 80H771V81H768ZM771 78H774V80H771ZM774 76H777V77H774ZM777 79H780V80H777ZM780 77H782V78H780ZM780 81H782V82H780ZM780 100H782V102H780ZM782 66H785V67H782ZM785 67H788V69H785ZM785 85H788V86H785ZM788 66H791V67H788ZM788 69H791V70H788ZM788 74H791V76H788ZM788 77H791V78H788ZM788 81H791V82H788ZM788 87H791V88H788ZM791 66H793V68H791ZM791 69H793V70H791ZM791 71H793V72H791ZM791 77H793V78H791ZM791 82H793V83H791ZM793 69H796V70H793ZM793 72H796V73H793ZM793 75H796V76H793ZM793 79H796V81H793ZM796 70H799V71H796ZM796 74H799V75H796ZM796 83H799V84H796ZM799 66H802V68H799ZM799 73H802V74H799ZM799 82H802V83H799ZM802 66H805V67H802ZM802 73H805V74H802ZM802 78H805V79H802ZM802 80H805V81H802ZM805 66H807V67H805ZM805 68H807V69H805ZM805 74H807V75H805ZM807 67H810V68H807ZM807 71H810V72H807ZM810 77H813V79H810ZM813 66H816V68H813ZM813 73H816V74H813ZM816 68H819V69H816ZM816 70H819V71H816ZM816 72H819V73H816ZM819 75H821V77H819ZM821 67H824V68H821ZM821 71H824V72H821ZM824 76H827V77H824ZM827 67H830V68H827ZM827 73H830V74H827ZM830 69H832V70H830ZM835 72H838V73H835ZM835 74H838V76H835ZM838 66H844V67H838ZM838 68H844V70H838ZM838 72H844V73H838ZM838 75H844V76H838ZM844 70H846V71H844ZM844 72H846V73H844ZM844 76H846V77H844ZM846 68H849V69H846ZM846 70H849V71H846ZM846 76H849V78H846ZM849 68H852V70H849ZM849 71H852V74H849ZM849 75H852V76H849ZM852 66H855V67H852ZM852 68H855V70H852ZM852 72H855V73H852ZM852 80H855V81H852ZM855 67H857V68H855ZM855 77H857V78H855ZM857 69H860V71H857ZM857 73H860V74H857ZM857 75H860V76H857ZM857 77H860V78H857ZM857 80H860V81H857ZM860 67H863V68H860ZM860 69H863V70H860ZM860 73H863V74H860ZM860 75H863V76H860ZM860 80H863V82H860ZM863 73H866V74H863ZM863 75H866V77H863ZM866 74H869V75H866ZM866 77H869V78H866ZM869 73H871V75H869ZM869 81H871V82H869ZM871 68H874V69H871ZM871 75H874V76H871ZM874 67H877V68H874ZM874 76H877V77H874ZM877 66H880V67H877ZM877 69H880V70H877ZM877 71H880V72H877ZM877 73H880V74H877ZM877 75H880V76H877ZM880 67H882.5V68H880ZM880 73H882.5V74H880ZM880 77H882.5V78H880Z"/>
<path fill="#f9dc24" d="M596 72H615V75H596ZM615 80H624V81H615ZM624 72H627V73H624ZM624 74H627V76H624ZM624 79H627V80H624ZM627 78H629V79H627ZM627 88H629V100H627ZM629 88H632V100H629ZM632 80H635V81H632ZM638 73H640V74H638ZM638 78H640V79H638ZM640 79H643V80H640ZM643 74H646V75H643ZM646 79H649V80H646ZM649 75H652V76H649ZM652 79H654V80H652ZM660 76H663V79H660ZM663 72H666V74H663ZM663 75H666V76H663ZM668 79H671V80H668ZM677 79H679V80H677ZM682 68H685V69H682ZM682 75H685V76H682ZM682 84H685V85H682ZM685 71H688V72H685ZM685 80H688V81H685ZM685 83H688V84H685ZM688 70H691V71H688ZM688 74H691V75H688ZM688 76H691V77H688ZM688 78H691V80H688ZM688 82H691V83H688ZM691 73H694V76H691ZM694 71H696V72H694ZM694 77H696V78H694ZM694 79H696V80H694ZM694 81H696V82H694ZM696 81H700V82H696ZM700 75H702V76H700ZM702 72H704V80H702ZM702 81H704V82H702ZM702 83H704V84H702ZM704 72H707V74H704ZM704 80H707V81H704ZM704 83H707V84H704ZM707 71H710V72H707ZM707 76H710V77H707ZM707 79H710V80H707ZM710 72H713V73H710ZM710 76H713V77H710ZM710 78H713V79H710ZM713 72H716V73H713ZM713 75H716V82H713ZM716 71H718V72H716ZM716 76H718V77H716ZM716 79H718V83H716ZM718 70H721V71H718ZM718 72H721V74H718ZM718 75H721V76H718ZM718 78H721V79H718ZM718 81H721V83H718ZM721 70H724V71H721ZM721 79H724V80H721ZM724 70H727V72H724ZM724 73H727V74H724ZM724 83H727V85H724ZM727 87H729V88H727ZM729 69H732V72H729ZM729 79H732V80H729ZM729 83H732V84H729ZM729 87H732V88H729ZM732 81H735V82H732ZM732 85H735V86H732ZM732 88H735V89H732ZM735 80H738V81H735ZM735 82H738V85H735ZM735 88H738V89H735ZM738 80H741V81H738ZM738 82H741V84H738ZM741 80H743V81H741ZM741 85H743V86H741ZM743 88H746V89H743ZM746 79H749V80H746ZM749 79H752V80H749ZM749 82H752V83H749ZM749 86H752V87H749ZM749 90H752V92H749ZM752 80H755V81H752ZM752 83H755V84H752ZM755 87H757V88H755ZM755 89H757V90H755ZM760 80H763V81H760ZM760 82H763V83H760ZM760 84H763V86H760ZM763 81H766V84H763ZM763 86H766V87H763ZM763 90H766V92H763ZM766 82H768V83H766ZM766 84H768V85H766ZM766 86H768V87H766ZM766 88H768V92H766ZM768 73H771V74H768ZM768 84H771V85H768ZM771 83H774V84H771ZM771 85H774V86H771ZM774 81H777V82H774ZM774 84H777V85H774ZM774 86H777V87H774ZM780 73H782V74H780ZM780 83H782V84H780ZM780 86H782V87H780ZM782 87H785V88H782ZM782 106H785V108H782ZM785 86H788V88H785ZM785 89H788V90H785ZM788 88H791V89H788ZM816 76H819V77H816ZM830 77H832V78H830ZM852 81H855V82H852ZM863 80H866V81H863Z"/>
<path fill="#f7e225" d="M615 72H624V74H615ZM629 70H632V71H629ZM632 79H635V80H632ZM632 84H635V85H632ZM638 71H640V72H638ZM638 76H640V77H638ZM640 70H643V72H640ZM640 84H643V86H640ZM643 71H646V72H643ZM643 81H646V84H643ZM643 86H646V88H643ZM646 81H649V82H646ZM646 84H649V87H646ZM649 77H652V78H649ZM652 72H654V74H652ZM654 80H657V81H654ZM654 82H657V84H654ZM654 88H657V89H654ZM660 79H663V80H660ZM660 84H663V87H660ZM663 81H666V82H663ZM666 84H668V85H666ZM671 85H674V86H671ZM671 87H674V88H671ZM677 80H679V81H677ZM677 82H679V83H677ZM677 85H679V86H677ZM677 89H679V90H677ZM679 82H682V84H679ZM682 85H685V87H682ZM685 69H688V70H685ZM685 85H688V87H685ZM688 69H691V70H688ZM688 84H691V86H688ZM691 69H694V70H691ZM694 73H696V76H694ZM694 84H696V86H694ZM696 80H700V81H696ZM696 84H700V85H696ZM700 70H702V71H700ZM700 77H702V78H700ZM700 80H702V81H700ZM700 84H702V86H700ZM704 69H707V71H704ZM704 76H707V78H704ZM704 79H707V80H704ZM704 86H707V87H704ZM707 69H710V70H707ZM707 78H710V79H707ZM707 80H710V82H707ZM707 84H710V85H707ZM710 70H713V72H710ZM713 70H716V71H713ZM713 74H716V75H713ZM713 82H716V83H713ZM713 86H716V87H713ZM716 69H718V71H716ZM716 73H718V74H716ZM716 75H718V76H716ZM716 78H718V79H716ZM716 85H718V87H716ZM718 69H721V70H718ZM721 78H724V79H721ZM721 81H724V82H721ZM721 83H724V84H721ZM721 85H724V86H721ZM724 87H727V88H724ZM727 68H729V70H727ZM727 72H729V74H727ZM727 92H729V94H727ZM729 72H732V73H729ZM729 85H732V86H729ZM729 88H732V92H729ZM732 68H735V69H732ZM732 79H735V80H732ZM732 84H735V85H732ZM732 87H735V88H732ZM732 90H735V92H732ZM732 94H735V96H732ZM735 70H738V71H735ZM735 73H738V74H735ZM735 81H738V82H735ZM735 85H738V87H735ZM735 92H738V94H735ZM738 85H741V86H738ZM738 89H741V92H738ZM741 68H743V69H741ZM741 72H743V74H741ZM741 79H743V80H741ZM741 86H743V87H741ZM741 88H743V89H741ZM741 92H743V96H741ZM743 72H746V73H743ZM743 80H746V81H743ZM743 82H746V83H743ZM743 94H746V96H743ZM746 73H749V74H746ZM746 86H749V87H746ZM749 68H752V69H749ZM749 84H752V85H749ZM749 89H752V90H749ZM749 92H752V94H749ZM749 96H752V98H749ZM752 68H755V69H752ZM752 73H755V74H752ZM752 87H755V88H752ZM752 89H755V90H752ZM755 68H757V69H755ZM755 79H757V80H755ZM755 83H757V84H755ZM757 85H760V86H757ZM760 70H763V71H760ZM760 81H763V82H760ZM760 90H763V92H760ZM763 67H766V68H763ZM763 71H766V73H763ZM763 80H766V81H763ZM763 85H766V86H763ZM766 69H768V70H766ZM766 72H768V73H766ZM766 92H768V96H766ZM768 69H771V71H768ZM768 79H771V80H768ZM768 96H771V98H768ZM771 90H774V92H771ZM771 94H774V96H771ZM774 68H777V69H774ZM774 70H777V71H774ZM774 80H777V81H774ZM774 85H777V86H774ZM777 69H780V70H777ZM777 71H780V72H777ZM777 73H780V74H777ZM777 83H780V86H777ZM777 89H780V92H777ZM780 79H782V80H780ZM780 90H782V92H780ZM782 90H785V92H782ZM782 94H785V98H782ZM785 88H788V89H785ZM793 89H796V90H793ZM799 87H802V88H799ZM805 82H807V83H805ZM807 80H810V81H807ZM827 77H830V78H827ZM832 77H835V78H832ZM838 78H844V79H838ZM844 77H846V78H844ZM846 79H849V80H846ZM860 83H863V84H860ZM866 82H869V83H866ZM874 81H877V82H874Z"/>
<path fill="#fbd324" d="M624 73H627V74H624ZM624 77H627V78H624ZM627 76H629V78H627ZM629 73H632V74H629ZM629 76H632V79H629ZM632 76H635V79H632ZM635 72H638V76H635ZM635 78H638V79H635ZM635 96H638V108H635ZM643 72H646V74H643ZM643 79H646V80H643ZM646 72H649V77H646ZM652 78H654V79H652ZM654 72H657V73H654ZM654 78H657V79H654ZM657 72H660V76H657ZM657 79H660V80H657ZM660 72H663V73H660ZM663 79H666V80H663ZM666 72H668V76H666ZM666 79H668V80H666ZM668 76H671V79H668ZM671 75H674V76H671ZM671 79H674V80H671ZM677 72H679V75H677ZM677 76H679V79H677ZM679 76H682V79H679ZM682 69H685V71H682ZM682 72H685V73H682ZM682 74H685V75H682ZM682 78H685V79H682ZM682 81H685V84H682ZM685 74H688V78H685ZM685 79H688V80H685ZM685 81H688V83H685ZM688 71H691V74H688ZM688 75H691V76H688ZM688 77H691V78H688ZM688 80H691V82H688ZM688 83H691V84H688ZM691 78H694V84H691ZM694 80H696V81H694ZM694 82H696V83H694ZM696 72H700V74H696ZM696 75H700V77H696ZM696 78H700V80H696ZM702 80H704V81H702ZM702 82H704V83H702ZM704 74H707V76H704ZM704 81H707V83H704ZM704 84H707V85H704ZM707 72H710V73H707ZM710 73H713V76H710ZM710 80H713V83H710ZM718 71H721V72H718ZM718 80H721V81H718ZM721 71H724V76H721ZM724 72H727V73H724ZM724 77H727V78H724ZM724 79H727V82H724ZM727 70H729V72H727ZM727 80H729V81H727ZM727 84H729V85H727ZM727 86H729V87H727ZM729 82H732V83H729ZM729 86H732V87H729ZM732 78H735V79H732ZM732 82H735V83H732ZM732 86H735V87H732ZM735 87H738V88H735ZM738 81H741V82H738ZM741 81H743V82H741ZM743 79H746V80H743ZM743 81H746V82H743ZM743 83H746V85H743ZM746 82H749V83H746ZM746 84H749V86H746ZM749 83H752V84H749ZM752 82H755V83H752ZM752 85H755V86H752ZM757 79H760V81H757ZM757 83H760V84H757ZM760 79H763V80H760ZM760 83H763V84H760ZM763 79H766V80H763ZM763 84H766V85H763ZM763 87H766V88H763ZM766 80H768V82H766ZM768 82H771V84H768ZM768 85H771V86H768ZM771 80H774V82H771ZM771 84H774V85H771ZM771 102H774V104H771ZM774 82H777V83H774ZM777 81H780V82H777ZM782 67H785V68H782ZM782 69H785V70H782ZM782 73H785V74H782ZM782 79H785V80H782ZM782 88H785V89H782ZM788 67H791V68H788ZM791 68H793V69H791ZM791 70H793V71H791ZM791 85H793V86H791ZM793 71H796V72H793ZM807 68H810V69H807ZM810 67H813V68H810ZM819 69H821V71H819ZM821 75H824V76H821ZM824 67H827V69H824ZM832 68H835V69H832ZM835 67H838V68H835ZM855 70H857V71H855ZM863 68H866V69H863ZM863 72H866V73H863ZM866 66H869V67H866ZM866 69H869V70H866ZM874 72H877V73H874ZM877 70H880V71H877ZM880 69H882.5V70H880ZM880 82H882.5V83H880Z"/>
<path fill="#feba2c" d="M627 72H629V76H627ZM640 72H643V73H640ZM649 72H652V75H649ZM729 78H732V79H729ZM735 75H738V76H735ZM735 78H738V79H735ZM738 87H741V88H738ZM743 78H746V79H743ZM746 76H749V78H746ZM746 88H749V89H746ZM749 74H752V75H749ZM752 76H755V77H752ZM757 76H760V77H757ZM766 74H768V76H766ZM766 77H768V79H766ZM766 85H768V86H766ZM771 87H774V88H771ZM777 77H780V78H777ZM780 74H782V76H780ZM782 86H785V87H782ZM785 66H788V67H785ZM785 71H788V74H785ZM785 77H788V78H785ZM788 85H791V86H788ZM791 73H793V74H791ZM791 76H793V77H791ZM793 73H796V75H793ZM793 81H796V82H793ZM793 86H796V87H793ZM796 71H799V72H796ZM796 82H799V83H796ZM799 71H802V72H799ZM799 74H802V76H799ZM799 80H802V81H799ZM799 85H802V86H799ZM802 76H805V77H802ZM805 78H807V80H805ZM807 77H810V78H807ZM810 76H813V77H810ZM813 70H816V71H813ZM816 71H819V72H816ZM816 75H819V76H816ZM819 71H821V72H819ZM819 73H821V75H819ZM819 77H821V78H819ZM821 70H824V71H821ZM821 74H824V75H821ZM824 72H827V73H824ZM824 75H827V76H824ZM827 74H830V75H827ZM830 72H832V73H830ZM830 76H832V77H830ZM832 72H835V73H832ZM832 74H835V75H832ZM844 74H846V76H844ZM849 78H852V79H849ZM852 73H855V74H852ZM852 75H855V76H852ZM852 79H855V80H852ZM855 72H857V74H855ZM857 72H860V73H857ZM857 78H860V79H857ZM860 79H863V80H860ZM866 72H869V73H866ZM866 78H869V81H866ZM869 78H871V79H869ZM871 72H874V73H871ZM871 76H874V80H871ZM874 69H877V70H874ZM874 79H877V80H874ZM880 74H882.5V75H880ZM880 78H882.5V79H880ZM880 80H882.5V81H880Z"/>
<path fill="#f8df25" d="M627 79H629V80H627ZM629 79H632V80H629ZM632 81H635V84H632ZM638 72H640V73H638ZM638 74H640V76H638ZM638 77H640V78H638ZM640 82H643V84H640ZM640 96H643V116H640ZM643 80H646V81H643ZM643 84H646V85H643ZM649 76H652V77H649ZM649 78H652V79H649ZM652 74H654V76H652ZM654 79H657V80H654ZM654 81H657V82H654ZM660 71H663V72H660ZM663 80H666V81H663ZM663 82H666V84H663ZM671 84H674V85H671ZM674 77H677V79H674ZM677 84H679V85H677ZM679 79H682V80H679ZM685 70H688V71H685ZM685 84H688V85H685ZM691 71H694V73H691ZM694 72H696V73H694ZM694 76H696V77H694ZM694 78H696V79H694ZM694 83H696V84H694ZM696 82H700V83H696ZM700 71H702V75H700ZM700 76H702V77H700ZM700 78H702V80H700ZM704 71H707V72H704ZM704 78H707V79H704ZM704 85H707V86H704ZM707 70H710V71H707ZM707 77H710V78H707ZM710 77H713V78H710ZM710 79H713V80H710ZM710 83H713V86H710ZM713 71H716V72H713ZM713 73H716V74H713ZM713 83H716V86H713ZM716 72H718V73H716ZM716 74H718V75H716ZM716 77H718V78H716ZM716 83H718V85H716ZM718 74H721V75H718ZM718 76H721V78H718ZM718 79H721V80H718ZM718 83H721V84H718ZM721 69H724V70H721ZM721 76H724V78H721ZM721 80H724V81H721ZM721 84H724V85H721ZM724 82H727V83H724ZM724 85H727V87H724ZM727 82H729V83H727ZM727 89H729V90H727ZM727 94H729V96H727ZM729 73H732V74H729ZM729 92H732V94H729ZM732 70H735V71H732ZM732 83H735V84H732ZM732 92H735V94H732ZM735 71H738V72H735ZM735 89H738V90H735ZM738 70H741V71H738ZM738 84H741V85H738ZM738 88H741V89H738ZM741 70H743V71H741ZM741 84H743V85H741ZM741 89H743V92H741ZM743 71H746V72H743ZM743 73H746V74H743ZM743 85H746V86H743ZM743 87H746V88H743ZM743 90H746V92H743ZM746 72H749V73H746ZM746 80H749V81H746ZM746 83H749V84H746ZM749 72H752V73H749ZM749 80H752V82H749ZM749 88H752V89H749ZM752 70H755V72H752ZM752 79H755V80H752ZM752 81H755V82H752ZM752 86H755V87H752ZM752 88H755V89H752ZM752 90H755V92H752ZM755 86H757V87H755ZM755 88H757V89H755ZM755 90H757V92H755ZM757 84H760V85H757ZM760 86H763V87H760ZM760 88H763V90H760ZM763 88H766V89H763ZM763 92H766V94H763ZM766 73H768V74H766ZM766 83H768V84H766ZM768 81H771V82H768ZM768 86H771V92H768ZM771 73H774V74H771ZM771 82H774V83H771ZM771 88H774V89H771ZM774 79H777V80H774ZM774 87H777V88H774ZM777 80H780V81H777ZM777 82H780V83H777ZM777 87H780V89H777ZM780 71H782V72H780ZM780 85H782V86H780ZM780 88H782V89H780ZM782 89H785V90H782ZM782 92H785V94H782ZM785 90H788V92H785ZM802 82H805V83H802ZM838 77H844V78H838ZM849 80H852V81H849ZM866 81H869V82H866Z"/>
<path fill="#e87059" d="M632 73H635V76H632ZM660 73H663V76H660Z"/>
<path fill="#ed7a52" d="M635 79H638V83H635ZM738 73H741V78H738Z"/>
<path fill="#b42e8d" d="M640 73H643V75H640Z"/>
<path fill="#fba139" d="M640 80H643V82H640ZM732 77H735V78H732ZM743 76H746V77H743ZM746 75H749V76H746ZM749 77H752V78H749ZM763 76H766V77H763ZM768 77H771V78H768ZM777 74H780V75H777ZM780 76H782V77H780ZM785 74H788V75H785ZM785 76H788V77H785ZM821 69H824V70H821ZM835 68H838V69H835Z"/>
<path fill="#d5536f" d="M643 75H646V77H643ZM729 76H732V77H729ZM782 76H785V77H782Z"/>
<path fill="#f89540" d="M643 78H646V79H643ZM646 78H649V79H646ZM735 77H738V78H735ZM741 74H743V75H741ZM752 74H755V75H752ZM757 74H760V76H757ZM768 76H771V77H768Z"/>
<path fill="#c5407e" d="M663 74H666V75H663ZM755 75H757V76H755Z"/>
<path fill="#a01a9c" d="M663 76H666V78H663ZM732 75H735V77H732Z"/>
<path fill="#f79044" d="M729 74H732V75H729ZM782 75H785V76H782ZM782 84H785V85H782Z"/>
<path fill="#f2844b" d="M782 77H785V78H782ZM782 80H785V81H782Z"/>
<rect x="746" y="79" width="3" height="120" fill="#f68d45"/>
<path fill="#4daf4a" d="M1016.5 66H1019V184H1016.5ZM1019 67H1022V216H1019ZM1022 67H1025V200H1022ZM1025 67H1044V216H1025ZM1044 67H1053V232H1044ZM1053 67H1056V270H1053ZM1056 69H1058V251H1056ZM1058 69H1061V406H1058ZM1061 66H1064V340H1061ZM1064 66H1067V282H1064ZM1067 66H1069V451H1067ZM1069 66H1072V446H1069ZM1072 67H1075V394H1072ZM1075 66H1078V336H1075ZM1078 66H1081V383H1078ZM1081 66H1083V453H1081ZM1083 66H1086V336H1083ZM1086 67H1089V294H1086ZM1089 67H1092V305H1089ZM1092 66H1095V446H1092ZM1095 67H1098V449H1095ZM1098 66H1100V447H1098ZM1100 66H1103V452H1100ZM1103 66H1106V451H1103ZM1106 66H1108V452H1106ZM1108 67H1111V332H1108ZM1111 66H1114V348H1111ZM1114 69H1117V450H1114ZM1117 69H1120V448H1117ZM1120 69H1122V445H1120ZM1122 66H1125V447H1122ZM1125 66H1128V444H1125ZM1128 66H1131V447H1128ZM1131 66H1134V451H1131ZM1134 66H1136V448H1134ZM1136 66H1139V447H1136ZM1139 66H1142V451H1139ZM1142 66H1145V453H1142ZM1145 66H1147V367H1145ZM1147 66H1150V448H1147ZM1150 66H1153V417H1150ZM1153 66H1156V453H1153ZM1156 66H1158V452H1156ZM1158 66H1161V447H1158ZM1161 66H1164V433H1161ZM1164 66H1167V447H1164ZM1167 66H1170V449H1167ZM1170 66H1172V450H1170ZM1172 66H1175V447H1172ZM1175 66H1178V450H1175ZM1178 66H1181V398H1178ZM1181 66H1184V448H1181ZM1184 66H1186V446H1184ZM1186 66H1189V336H1186ZM1189 66H1192V321H1189ZM1192 66H1195V321H1192ZM1195 66H1197V451H1195ZM1197 66H1200V448H1197ZM1200 66H1203V448H1200ZM1203 66H1206V445H1203ZM1206 66H1209V441H1206ZM1209 66H1211V410H1209ZM1211 66H1214V449H1211ZM1214 66H1217V452H1214ZM1217 66H1220V450H1217ZM1220 66H1222V445H1220ZM1222 66H1225V453H1222ZM1225 66H1228V449H1225ZM1228 66H1231V453H1228ZM1231 66H1234V450H1231ZM1234 66H1236V451H1234ZM1236 66H1239V447H1236ZM1239 66H1242V446H1239ZM1242 66H1245V447H1242ZM1245 66H1248V452H1245ZM1248 66H1250V445H1248ZM1250 66H1253V451H1250ZM1253 66H1256V448H1253ZM1256 66H1259V445H1256ZM1259 66H1261V446H1259ZM1261 66H1264V450H1261ZM1264 66H1267V452H1264ZM1267 66H1273V452H1267ZM1273 66H1275V449H1273ZM1275 66H1278V452H1275ZM1278 66H1281V446H1278ZM1281 66H1284V447H1281ZM1284 66H1286V450H1284ZM1286 66H1289V449H1286ZM1289 66H1292V448H1289ZM1292 66H1295V452H1292ZM1295 66H1298V448H1295ZM1298 66H1300V454H1298ZM1300 66H1303V447H1300ZM1303 66H1306V445H1303ZM1306 66H1309V450H1306ZM1309 66H1311.5V447H1309Z"/>
<path fill="#ffff33" d="M1016.5 66H1019V70H1016.5ZM1019 67H1022V70H1019ZM1022 67H1025V70H1022ZM1025 67H1044V70H1025ZM1044 67H1053V69H1044ZM1053 67H1056V69H1053ZM1056 69H1058V69H1056ZM1058 69H1061V70H1058ZM1061 66H1064V71H1061ZM1064 66H1067V69H1064ZM1067 66H1069V71H1067ZM1069 66H1072V70H1069ZM1072 67H1075V70H1072ZM1075 66H1078V69H1075ZM1078 66H1081V69H1078ZM1081 66H1083V69H1081ZM1083 66H1086V69H1083ZM1086 67H1089V69H1086ZM1089 67H1092V70H1089ZM1092 66H1095V69H1092ZM1095 67H1098V70H1095ZM1098 66H1100V69H1098ZM1100 66H1103V69H1100ZM1103 66H1106V69H1103ZM1106 66H1108V69H1106ZM1108 67H1111V69H1108ZM1111 66H1114V69H1111ZM1114 69H1117V69H1114ZM1117 69H1120V69H1117ZM1120 69H1122V69H1120ZM1122 66H1125V71H1122ZM1125 66H1128V70H1125ZM1128 66H1131V69H1128ZM1131 66H1134V69H1131ZM1134 66H1136V69H1134ZM1136 66H1139V69H1136ZM1139 66H1142V70H1139ZM1142 66H1145V70H1142ZM1145 66H1147V69H1145ZM1147 66H1150V69H1147ZM1150 66H1153V69H1150ZM1153 66H1156V69H1153ZM1156 66H1158V69H1156ZM1158 66H1161V70H1158ZM1161 66H1164V71H1161ZM1164 66H1167V71H1164ZM1167 66H1170V71H1167ZM1170 66H1172V71H1170ZM1172 66H1175V71H1172ZM1175 66H1178V71H1175ZM1178 66H1181V74H1178ZM1181 66H1184V74H1181ZM1184 66H1186V75H1184ZM1186 66H1189V75H1186ZM1189 66H1192V71H1189ZM1192 66H1195V72H1192ZM1195 66H1197V71H1195ZM1197 66H1200V71H1197ZM1200 66H1203V72H1200ZM1203 66H1206V71H1203ZM1206 66H1209V73H1206ZM1209 66H1211V73H1209ZM1211 66H1214V71H1211ZM1214 66H1217V72H1214ZM1217 66H1220V71H1217ZM1220 66H1222V72H1220ZM1222 66H1225V71H1222ZM1225 66H1228V70H1225ZM1228 66H1231V70H1228ZM1231 66H1234V70H1231ZM1234 66H1236V70H1234ZM1236 66H1239V71H1236ZM1239 66H1242V71H1239ZM1242 66H1245V70H1242ZM1245 66H1248V71H1245ZM1248 66H1250V71H1248ZM1250 66H1253V71H1250ZM1253 66H1256V71H1253ZM1256 66H1259V71H1256ZM1259 66H1261V70H1259ZM1261 66H1264V71H1261ZM1264 66H1267V71H1264ZM1267 66H1273V70H1267ZM1273 66H1275V68H1273ZM1275 66H1278V69H1275ZM1278 66H1281V69H1278ZM1281 66H1284V68H1281ZM1284 66H1286V68H1284ZM1286 66H1289V69H1286ZM1289 66H1292V69H1289ZM1292 66H1295V69H1292ZM1295 66H1298V68H1295ZM1298 66H1300V69H1298ZM1300 66H1303V68H1300ZM1303 66H1306V68H1303ZM1306 66H1309V68H1306ZM1309 66H1311.5V68H1309Z"/>
<path fill="#ff7f00" d="M1053 173H1055V205H1053ZM1055 185H1058V208H1055ZM1094 177H1097V205H1094ZM1114 95H1119V97H1114ZM1117 97H1119V205H1117ZM1122 88H1125V216H1122ZM1125 85H1128V105H1125ZM1128 99H1133V205H1128ZM1130 90H1133V91H1130ZM1142 85H1144V205H1142ZM1161 143H1164V183H1161ZM1167 142H1169V205H1167ZM1169 118H1172V205H1169ZM1169 116H1172V117H1169ZM1172 121H1175V205H1172ZM1175 79H1178V200H1175ZM1192 143H1197V205H1192ZM1194 205H1197V208H1194ZM1197 103H1203V205H1197ZM1203 163H1206V205H1203ZM1206 104H1209V205H1206ZM1209 86H1211V205H1209ZM1211 84H1214V205H1211ZM1214 143H1217V205H1214ZM1217 160H1219V205H1217ZM1219 126H1222V205H1219ZM1222 171H1225V205H1222ZM1225 106H1228V205H1225ZM1231 121H1233V205H1231ZM1236 162H1242V205H1236ZM1242 142H1245V205H1242ZM1245 85H1247V205H1245ZM1247 79H1250V205H1247ZM1250 143H1253V162H1250ZM1253 143H1256V205H1253ZM1258 128H1261V205H1258ZM1261 97H1264V205H1261ZM1264 84H1267V205H1264ZM1267 160H1272V205H1267ZM1272 93H1275V205H1272ZM1275 122H1278V205H1275ZM1289 123H1292V205H1289ZM1306 142H1308V205H1306ZM1308 104H1311V205H1308ZM1169 298H1172V301H1169ZM1130 359H1133V363H1130Z"/>
<path fill="#f0f724" d="M587.5 553H590V671H587.5ZM590 553H593V703H590ZM593 553H596V687H593ZM596 553H615V703H596ZM615 553H624V719H615ZM624 553H627V757H624ZM627 555H629V738H627ZM629 555H632V893H629ZM632 553H635V827H632ZM635 553H638V769H635ZM638 553H640V938H638ZM640 553H643V933H640ZM643 553H646V881H643ZM646 553H649V823H646ZM649 553H652V870H649ZM652 553H654V940H652ZM654 553H657V823H654ZM657 553H660V781H657ZM660 553H663V792H660ZM663 553H666V933H663ZM666 553H668V936H666ZM668 553H671V934H668ZM671 553H674V939H671ZM674 553H677V938H674ZM677 553H679V939H677ZM679 553H682V819H679ZM682 553H685V835H682ZM685 555H688V937H685ZM688 555H691V935H688ZM691 555H694V932H691ZM694 553H696V934H694ZM696 553H700V931H696ZM700 553H702V934H700ZM702 553H704V938H702ZM704 553H707V935H704ZM707 553H710V934H707ZM710 553H713V938H710ZM713 553H716V940H713ZM716 553H718V854H716ZM718 553H721V935H718ZM721 553H724V904H721ZM724 553H727V940H724ZM727 553H729V939H727ZM729 553H732V934H729ZM732 553H735V920H732ZM735 553H738V934H735ZM738 553H741V936H738ZM741 553H743V937H741ZM743 553H746V934H743ZM746 553H749V937H746ZM749 553H752V885H749ZM752 553H755V935H752ZM755 553H757V933H755ZM757 553H760V823H757ZM760 553H763V808H760ZM763 553H766V808H763ZM766 553H768V938H766ZM768 553H771V935H768ZM771 553H774V935H771ZM774 553H777V932H774ZM777 553H780V928H777ZM780 553H782V897H780ZM782 553H785V936H782ZM785 553H788V939H785ZM788 553H791V937H788ZM791 553H793V932H791ZM793 553H796V940H793ZM796 553H799V936H796ZM799 553H802V940H799ZM802 553H805V937H802ZM805 553H807V938H805ZM807 553H810V934H807ZM810 553H813V933H810ZM813 553H816V934H813ZM816 553H819V939H816ZM819 553H821V932H819ZM821 553H824V938H821ZM824 553H827V935H824ZM827 553H830V932H827ZM830 553H832V933H830ZM832 553H835V937H832ZM835 553H838V939H835ZM838 553H844V939H838ZM844 553H846V936H844ZM846 553H849V939H846ZM849 553H852V933H849ZM852 553H855V934H852ZM855 553H857V937H855ZM857 553H860V936H857ZM860 553H863V935H860ZM863 553H866V939H863ZM866 553H869V935H866ZM869 553H871V941H869ZM871 553H874V934H871ZM874 553H877V932H874ZM877 553H880V937H877ZM880 553H882.5V934H880Z"/>
<path fill="#f3f027" d="M587.5 553H590V555H587.5ZM587.5 568H590V572H587.5ZM590 553H593V555H590ZM590 566H593V570H590ZM593 553H596V555H593ZM593 566H596V570H593ZM615 570H624V571H615ZM624 553H627V555H624ZM624 579H627V583H624ZM624 589H627V593H624ZM627 555H629V557H627ZM627 587H629V595H627ZM629 591H632V595H629ZM632 579H635V585H632ZM632 587H635V589H632ZM632 591H635V593H632ZM635 553H638V554H635ZM635 555H638V556H635ZM638 553H640V555H638ZM638 583H640V585H638ZM638 587H640V589H638ZM643 583H646V585H643ZM643 589H646V597H643ZM646 583H649V595H646ZM649 583H652V585H649ZM649 587H652V591H649ZM652 553H654V554H652ZM652 581H654V583H652ZM652 585H654V587H652ZM652 591H654V593H652ZM654 585H657V587H654ZM654 589H657V595H654ZM657 557H660V558H657ZM657 587H660V589H657ZM660 553H663V555H660ZM660 579H663V581H660ZM660 587H663V591H660ZM663 555H666V556H663ZM663 583H666V595H663ZM666 585H668V595H666ZM668 583H671V591H668ZM671 585H674V591H671ZM674 571H677V572H674ZM674 573H677V574H674ZM674 581H677V585H674ZM674 587H677V593H674ZM677 553H679V555H677ZM677 587H679V593H677ZM679 553H682V555H679ZM679 579H682V583H679ZM679 585H682V593H679ZM682 587H685V597H682ZM685 583H688V585H685ZM685 587H688V589H685ZM688 579H691V589H688ZM691 579H694V587H691ZM694 575H696V579H694ZM694 581H696V585H694ZM696 553H700V554H696ZM696 579H700V589H696ZM700 553H702V554H700ZM700 579H702V585H700ZM702 579H704V585H702ZM704 553H707V555H704ZM704 579H707V587H704ZM710 553H713V554H710ZM710 576H713V587H710ZM713 553H716V554H713ZM713 577H716V579H713ZM713 581H716V583H713ZM713 587H716V591H713ZM716 553H718V554H716ZM716 583H718V587H716ZM718 553H721V555H718ZM718 579H721V583H718ZM718 587H721V589H718ZM721 553H724V555H721ZM721 577H724V585H721ZM724 583H727V591H724ZM727 589H729V597H727ZM729 591H732V593H729ZM729 595H732V597H729ZM732 591H735V597H732ZM735 591H738V597H735ZM738 589H741V591H738ZM738 593H741V599H738ZM741 595H743V599H741ZM743 593H746V595H743ZM743 597H746V599H743ZM746 593H749V599H746ZM749 591H752V593H749ZM749 595H752V599H749ZM752 589H755V591H752ZM752 593H755V599H752ZM755 591H757V597H755ZM757 595H760V597H757ZM760 587H763V589H760ZM760 593H763V595H760ZM763 589H766V591H763ZM763 595H766V599H763ZM766 591H768V593H766ZM766 597H768V599H766ZM768 593H771V595H768ZM768 597H771V599H768ZM771 591H774V597H771ZM771 599H774V601H771ZM774 587H777V591H774ZM774 593H777V597H774ZM777 591H780V601H777ZM780 591H782V597H780ZM782 595H785V599H782ZM785 587H788V591H785ZM788 583H791V589H788ZM791 581H793V587H791ZM793 585H796V589H793ZM796 581H799V585H796ZM799 583H802V589H799ZM802 581H805V585H802ZM805 577H807V583H805ZM807 576H810V581H807ZM810 576H813V581H810ZM813 575H816V579H813ZM816 571H819V572H816ZM816 574H819V579H816ZM819 573H821V581H819ZM821 570H824V571H821ZM821 574H824V576H821ZM824 571H827V572H824ZM824 574H827V576H824ZM827 572H830V573H827ZM827 575H830V579H827ZM830 572H832V573H830ZM830 574H832V577H830ZM832 572H835V579H832ZM835 573H838V575H835ZM835 577H838V579H835ZM838 573H844V579H838ZM844 575H846V577H844ZM846 574H849V581H846ZM849 579H852V583H849ZM852 577H855V583H852ZM855 579H857V583H855ZM857 579H860V581H857ZM860 579H863V583H860ZM863 577H866V583H863ZM866 577H869V581H866ZM869 576H871V577H869ZM869 579H871V583H869ZM871 577H874V583H871ZM874 579H877V583H874ZM877 575H880V576H877ZM877 577H880V581H877ZM880 581H882.5V583H880Z"/>
<path fill="#f4ed27" d="M587.5 555H590V558H587.5ZM587.5 567H590V568H587.5ZM590 555H593V557H590ZM590 564H593V566H590ZM593 555H596V557H593ZM593 565H596V566H593ZM596 553H615V554H596ZM615 553H624V554H615ZM615 569H624V570H615ZM615 576H624V577H615ZM624 555H627V557H624ZM624 577H627V579H624ZM624 583H627V587H624ZM627 557H629V558H627ZM627 567H629V568H627ZM627 569H629V571H627ZM629 574H632V575H629ZM629 587H632V591H629ZM632 553H635V554H632ZM632 555H635V556H632ZM632 577H635V579H632ZM632 585H635V587H632ZM635 554H638V555H635ZM635 557H638V559H635ZM638 555H640V557H638ZM638 574H640V575H638ZM638 579H640V583H638ZM638 585H640V587H638ZM640 553H643V555H640ZM643 553H646V554H643ZM643 585H646V589H643ZM646 553H649V559H646ZM646 581H649V583H646ZM649 553H652V556H649ZM649 568H652V571H649ZM649 572H652V573H649ZM649 577H652V579H649ZM649 581H652V583H649ZM652 554H654V555H652ZM652 567H654V571H652ZM652 573H654V574H652ZM652 575H654V576H652ZM652 579H654V581H652ZM652 583H654V585H652ZM654 553H657V556H654ZM654 581H657V585H654ZM654 587H657V589H654ZM657 553H660V557H657ZM657 577H660V587H657ZM660 577H663V579H660ZM660 581H663V583H660ZM660 585H663V587H660ZM663 553H666V554H663ZM663 556H666V557H663ZM663 579H666V583H663ZM666 553H668V557H666ZM666 558H668V559H666ZM666 583H668V585H666ZM668 553H671V558H668ZM668 570H671V571H668ZM668 579H671V583H668ZM671 553H674V556H671ZM671 581H674V585H671ZM674 553H677V555H674ZM674 556H677V557H674ZM674 570H677V571H674ZM674 574H677V575H674ZM674 576H677V581H674ZM674 585H677V587H674ZM677 583H679V587H677ZM679 573H682V574H679ZM679 583H682V585H679ZM682 553H685V554H682ZM682 581H685V587H682ZM685 575H688V583H685ZM688 575H691V579H688ZM691 573H694V579H691ZM694 553H696V555H694ZM694 579H696V581H694ZM696 554H700V555H696ZM696 577H700V579H696ZM700 555H702V556H700ZM700 575H702V579H700ZM702 553H704V554H702ZM702 555H704V556H702ZM702 574H704V579H702ZM704 577H707V579H704ZM707 553H710V554H707ZM707 574H710V575H707ZM707 579H710V583H707ZM710 554H713V555H710ZM710 575H713V576H710ZM713 575H716V577H713ZM713 579H716V581H713ZM716 554H718V555H716ZM716 579H718V583H716ZM718 573H721V579H718ZM721 575H724V577H721ZM724 553H727V554H724ZM724 577H727V583H724ZM729 585H732V587H729ZM729 589H732V591H729ZM729 593H732V595H729ZM732 559H735V560H732ZM732 587H735V591H732ZM735 555H738V556H735ZM735 587H738V591H735ZM738 554H741V555H738ZM738 556H741V557H738ZM738 583H741V587H738ZM738 591H741V593H738ZM741 553H743V555H741ZM741 589H743V595H741ZM743 583H746V585H743ZM743 587H746V593H743ZM746 557H749V558H746ZM746 581H749V583H746ZM746 585H749V587H746ZM746 591H749V593H746ZM749 554H752V555H749ZM749 556H752V557H749ZM749 558H752V559H749ZM749 587H752V591H749ZM749 593H752V595H749ZM749 601H752V603H749ZM752 553H755V555H752ZM752 581H755V583H752ZM752 585H755V589H752ZM752 591H755V593H752ZM755 585H757V589H755ZM757 554H760V555H757ZM757 558H760V559H757ZM757 589H760V595H757ZM760 553H763V555H760ZM760 581H763V583H760ZM760 585H763V587H760ZM760 591H763V593H760ZM763 591H766V595H763ZM766 585H768V589H766ZM766 593H768V597H766ZM768 554H771V555H768ZM768 585H771V587H768ZM768 591H771V593H768ZM768 595H771V597H768ZM771 555H774V556H771ZM771 558H774V559H771ZM771 579H774V581H771ZM771 585H774V587H771ZM774 553H777V554H774ZM774 581H777V583H774ZM774 585H777V587H774ZM777 553H780V555H777ZM777 581H780V583H777ZM777 589H780V591H777ZM780 554H782V557H780ZM780 589H782V591H780ZM782 589H785V591H782ZM785 583H788V587H785ZM785 595H788V597H785ZM791 579H793V581H791ZM793 581H796V585H793ZM796 575H799V576H796ZM796 577H799V581H796ZM799 579H802V583H799ZM802 574H805V581H802ZM805 572H807V573H805ZM805 574H807V575H805ZM805 576H807V577H805ZM807 571H810V576H807ZM810 570H813V572H810ZM810 573H813V576H810ZM813 572H816V575H813ZM816 568H819V569H816ZM816 570H819V571H816ZM816 572H819V574H816ZM819 569H821V570H819ZM819 571H821V573H819ZM821 567H824V570H821ZM821 571H824V574H821ZM824 569H827V571H824ZM824 572H827V574H824ZM827 568H830V569H827ZM827 570H830V572H827ZM827 573H830V575H827ZM830 570H832V572H830ZM830 573H832V574H830ZM832 567H835V569H832ZM832 571H835V572H832ZM835 567H838V568H835ZM835 569H838V573H835ZM838 570H844V573H838ZM844 568H846V569H844ZM844 571H846V575H844ZM846 568H849V574H846ZM849 573H852V579H849ZM852 572H855V574H852ZM852 575H855V577H852ZM855 571H857V572H855ZM855 574H857V579H855ZM857 576H860V579H857ZM860 572H863V573H860ZM860 574H863V575H860ZM860 576H863V579H860ZM863 572H866V577H863ZM866 574H869V577H866ZM869 575H871V576H869ZM869 577H871V579H869ZM871 569H874V570H871ZM871 571H874V573H871ZM871 574H874V577H871ZM874 572H877V573H874ZM874 574H877V579H874ZM877 569H880V570H877ZM877 571H880V575H877ZM877 576H880V577H877ZM880 574H882.5V575H880ZM880 576H882.5V581H880Z"/>
<path fill="#f5e926" d="M587.5 558H590V560H587.5ZM587.5 565H590V567H587.5ZM590 557H593V559H590ZM590 563H593V564H590ZM593 557H596V560H593ZM593 563H596V565H593ZM596 564H615V566H596ZM615 554H624V556H615ZM615 568H624V569H615ZM615 577H624V585H615ZM624 558H627V559H624ZM624 567H627V570H624ZM624 571H627V574H624ZM624 575H627V577H624ZM627 558H629V559H627ZM627 568H629V569H627ZM627 571H629V574H627ZM629 555H632V557H629ZM629 569H632V570H629ZM629 571H632V574H629ZM632 554H635V555H632ZM632 556H635V558H632ZM632 574H635V577H632ZM635 556H638V557H635ZM638 557H640V558H638ZM638 567H640V568H638ZM638 572H640V574H638ZM638 575H640V579H638ZM640 556H643V557H640ZM640 579H643V583H640ZM643 554H646V557H643ZM643 575H646V583H643ZM646 567H649V568H646ZM646 570H649V571H646ZM646 575H649V581H646ZM649 557H652V558H649ZM649 571H652V572H649ZM649 573H652V577H649ZM649 579H652V581H649ZM652 555H654V558H652ZM652 571H654V573H652ZM652 574H654V575H652ZM652 576H654V579H652ZM654 556H657V558H654ZM654 572H657V575H654ZM657 558H660V559H657ZM657 569H660V572H657ZM657 573H660V577H657ZM660 555H663V558H660ZM660 570H663V571H660ZM660 575H663V577H660ZM660 583H663V585H660ZM663 554H666V555H663ZM663 558H666V559H663ZM663 573H666V575H663ZM666 567H668V569H666ZM666 570H668V571H666ZM666 573H668V575H666ZM666 579H668V583H666ZM668 558H671V559H668ZM668 567H671V570H668ZM668 572H671V573H668ZM668 577H671V579H668ZM671 556H674V559H671ZM671 567H674V568H671ZM671 569H674V571H671ZM674 555H677V556H674ZM674 558H677V559H674ZM674 567H677V569H674ZM674 572H677V573H674ZM674 575H677V576H674ZM677 579H679V583H677ZM679 555H682V556H679ZM679 557H682V558H679ZM679 571H682V572H679ZM679 574H682V575H679ZM679 576H682V577H679ZM682 576H685V581H682ZM685 555H688V556H685ZM688 574H691V575H688ZM691 555H694V556H691ZM691 572H694V573H691ZM694 555H696V556H694ZM694 574H696V575H694ZM696 555H700V556H696ZM696 573H700V577H696ZM700 554H702V555H700ZM700 573H702V575H700ZM702 554H704V555H702ZM702 556H704V558H702ZM702 571H704V572H702ZM702 573H704V574H702ZM704 575H707V577H704ZM707 554H710V556H707ZM707 573H710V574H707ZM707 575H710V579H707ZM710 555H713V557H710ZM710 574H713V575H710ZM713 554H716V557H713ZM716 574H718V575H716ZM716 576H718V579H716ZM718 571H721V573H718ZM721 574H724V575H721ZM724 575H727V577H724ZM727 553H729V554H727ZM727 577H729V579H727ZM727 587H729V589H727ZM729 587H732V589H729ZM735 553H738V555H735ZM735 581H738V583H735ZM735 585H738V587H735ZM738 555H741V556H738ZM738 558H741V559H738ZM738 579H741V583H738ZM741 558H743V559H741ZM741 585H743V587H741ZM743 555H746V558H743ZM743 573H746V574H743ZM743 585H746V587H743ZM746 554H749V555H746ZM746 556H749V557H746ZM746 558H749V559H746ZM746 574H749V575H746ZM746 577H749V581H746ZM746 583H749V585H746ZM746 587H749V591H746ZM749 557H752V558H749ZM749 560H752V561H749ZM749 581H752V583H749ZM749 585H752V587H749ZM752 556H755V557H752ZM752 579H755V581H752ZM755 554H757V555H755ZM755 581H757V583H755ZM755 589H757V591H755ZM757 553H760V554H757ZM757 555H760V556H757ZM757 575H760V576H757ZM757 583H760V587H757ZM757 599H760V601H757ZM760 555H763V557H760ZM760 559H763V561H760ZM760 583H763V585H760ZM760 589H763V591H760ZM763 553H766V554H763ZM763 555H766V556H763ZM763 560H766V561H763ZM763 576H766V577H763ZM763 583H766V587H763ZM766 553H768V554H766ZM766 555H768V556H766ZM766 558H768V559H766ZM766 589H768V591H766ZM768 558H771V559H768ZM768 579H771V581H768ZM768 587H771V591H768ZM771 554H774V555H771ZM771 557H774V558H771ZM771 573H774V574H771ZM771 576H774V577H771ZM771 587H774V589H771ZM774 554H777V555H774ZM774 556H777V557H774ZM774 575H777V579H774ZM774 591H777V593H774ZM777 557H780V558H777ZM777 559H780V560H777ZM777 579H780V581H777ZM777 587H780V589H777ZM780 553H782V554H780ZM780 579H782V581H780ZM780 585H782V587H780ZM782 587H785V589H782ZM782 591H785V593H782ZM785 581H788V583H785ZM788 581H791V583H788ZM791 574H793V575H791ZM793 577H796V581H793ZM796 572H799V574H796ZM796 576H799V577H796ZM799 575H802V579H799ZM802 570H805V572H802ZM802 573H805V574H802ZM805 571H807V572H805ZM805 573H807V574H805ZM805 575H807V576H805ZM807 570H810V571H807ZM810 568H813V569H810ZM810 572H813V573H810ZM813 566H816V572H813ZM816 569H819V570H816ZM819 566H821V568H819ZM819 570H821V571H819ZM821 565H824V566H821ZM824 564H827V565H824ZM824 566H827V567H824ZM827 569H830V570H827ZM830 565H832V566H830ZM830 567H832V570H830ZM832 566H835V567H832ZM832 569H835V571H832ZM835 563H838V565H835ZM835 568H838V569H835ZM838 566H844V568H838ZM838 569H844V570H838ZM844 565H846V566H844ZM844 567H846V568H844ZM844 569H846V571H844ZM849 568H852V569H849ZM849 572H852V573H849ZM852 570H855V572H852ZM852 574H855V575H852ZM855 573H857V574H855ZM857 570H860V571H857ZM857 573H860V576H857ZM860 571H863V572H860ZM860 573H863V574H860ZM860 575H863V576H860ZM863 568H866V569H863ZM863 570H866V572H863ZM866 572H869V574H866ZM869 569H871V575H869ZM871 568H874V569H871ZM871 573H874V574H871ZM874 569H877V572H874ZM874 573H877V574H874ZM877 567H880V568H877ZM877 570H880V571H877ZM880 571H882.5V572H880ZM880 573H882.5V574H880ZM880 575H882.5V576H880Z"/>
<path fill="#fec029" d="M587.5 560H590V561H587.5ZM635 570H638V583H635ZM640 562H643V563H640ZM654 560H657V565H654ZM741 565H743V566H741ZM743 561H746V562H743ZM755 561H757V562H755ZM755 565H757V566H755ZM757 565H760V566H757ZM757 577H760V579H757ZM760 561H763V562H760ZM760 564H763V566H760ZM763 561H766V562H763ZM763 565H766V566H763ZM777 565H780V566H777ZM782 558H785V560H782ZM782 565H785V566H782ZM782 570H785V571H782ZM782 572H785V573H782ZM785 557H788V558H785ZM785 562H788V563H785ZM788 555H791V556H788ZM788 557H791V559H788ZM788 560H791V561H788ZM788 566H791V567H788ZM788 569H791V570H788ZM788 571H791V572H788ZM791 559H793V560H791ZM791 565H793V566H791ZM791 568H793V569H791ZM793 553H796V554H793ZM793 555H796V556H793ZM793 563H796V565H793ZM793 569H796V570H793ZM793 571H796V573H793ZM793 574H796V575H793ZM796 553H799V554H796ZM796 555H799V556H796ZM796 559H799V561H796ZM796 563H799V564H796ZM796 566H799V567H796ZM796 571H799V572H796ZM799 555H802V556H799ZM799 557H802V558H799ZM799 559H802V560H799ZM799 563H802V564H799ZM799 566H802V567H799ZM799 573H802V574H799ZM802 556H805V557H802ZM802 558H805V560H802ZM802 561H805V562H802ZM802 568H805V569H802ZM805 559H807V560H805ZM805 564H807V565H805ZM805 567H807V569H805ZM807 559H810V561H807ZM807 565H810V567H807ZM810 561H813V562H810ZM813 555H816V556H813ZM813 558H816V560H813ZM813 561H816V565H813ZM816 553H819V555H816ZM816 560H819V561H816ZM819 553H821V556H819ZM819 559H821V560H819ZM819 565H821V566H819ZM821 553H824V554H821ZM821 555H824V556H821ZM824 556H827V557H824ZM824 558H827V559H824ZM824 561H827V562H824ZM827 553H830V554H827ZM827 555H830V560H827ZM830 553H832V555H830ZM830 560H832V561H830ZM830 562H832V563H830ZM832 554H835V555H832ZM832 556H835V559H832ZM832 560H835V561H832ZM832 563H835V564H832ZM835 557H838V558H835ZM835 560H838V561H835ZM838 558H844V559H838ZM838 560H844V562H838ZM838 563H844V564H838ZM844 553H846V554H844ZM844 555H846V557H844ZM844 560H846V561H844ZM846 556H849V557H846ZM846 558H849V559H846ZM846 560H849V561H846ZM849 557H852V558H849ZM849 564H852V565H849ZM849 566H852V567H849ZM852 557H855V558H852ZM852 564H855V566H852ZM855 563H857V564H855ZM857 553H860V554H857ZM857 555H860V556H857ZM857 563H860V564H857ZM860 557H863V560H860ZM860 564H863V566H860ZM863 553H866V554H863ZM863 556H866V559H863ZM863 566H866V567H863ZM866 554H869V555H866ZM866 557H869V559H866ZM866 560H869V561H866ZM869 554H871V555H869ZM869 556H871V558H869ZM869 562H871V564H869ZM869 567H871V568H869ZM871 553H874V554H871ZM871 556H874V559H871ZM871 561H874V562H871ZM874 557H877V559H874ZM874 560H877V561H874ZM874 562H877V563H874ZM874 565H877V566H874ZM874 567H877V568H874ZM877 555H880V556H877ZM877 559H880V560H877ZM877 561H880V562H877ZM877 563H880V564H877ZM880 553H882.5V554H880ZM880 558H882.5V560H880ZM880 562H882.5V564H880ZM880 568H882.5V569H880Z"/>
<path fill="#fa9b3d" d="M587.5 561H590V562H587.5ZM727 563H729V564H727ZM729 564H732V565H729ZM741 564H743V565H741ZM755 563H757V565H755ZM760 562H763V563H760ZM763 562H766V563H763ZM763 564H766V565H763ZM771 562H774V563H771ZM774 562H777V563H774ZM796 564H799V566H796ZM799 568H802V569H799ZM802 562H805V563H802ZM810 559H813V560H810ZM824 560H827V561H824ZM838 557H844V558H838ZM846 562H849V563H846ZM855 565H857V566H855ZM866 563H869V564H866Z"/>
<path fill="#fca636" d="M587.5 562H590V563H587.5ZM596 554H615V557H596ZM727 562H729V563H727ZM729 562H732V563H729ZM729 567H732V568H729ZM741 563H743V564H741ZM768 562H771V563H768ZM782 561H785V562H782Z"/>
<path fill="#fdae32" d="M587.5 563H590V564H587.5ZM590 560H593V561H590ZM668 559H671V563H668ZM727 564H729V566H727ZM743 564H746V565H743ZM746 565H749V566H746ZM749 563H752V564H749ZM757 564H760V565H757ZM771 561H774V562H771ZM771 563H774V565H771ZM777 562H780V563H777ZM785 568H788V570H785Z"/>
<path fill="#f6e626" d="M587.5 564H590V565H587.5ZM590 559H593V560H590ZM593 560H596V561H593ZM593 562H596V563H593ZM596 562H615V564H596ZM615 556H624V559H615ZM624 557H627V558H624ZM624 570H627V571H624ZM624 574H627V575H624ZM627 574H629V575H627ZM629 558H632V559H629ZM629 567H632V569H629ZM629 570H632V571H629ZM632 558H635V559H632ZM632 572H635V574H632ZM638 566H640V567H638ZM638 568H640V572H638ZM640 555H643V556H640ZM640 573H643V579H640ZM643 557H646V558H643ZM643 572H646V573H643ZM646 569H649V570H646ZM646 574H649V575H646ZM649 556H652V557H649ZM649 558H652V559H649ZM649 566H652V568H649ZM652 558H654V559H652ZM654 558H657V559H654ZM654 571H657V572H654ZM654 576H657V581H654ZM657 567H660V569H657ZM657 572H660V573H657ZM660 567H663V570H660ZM660 574H663V575H660ZM663 557H666V558H663ZM663 571H666V573H663ZM663 575H666V579H663ZM666 557H668V558H666ZM666 569H668V570H666ZM666 572H668V573H666ZM666 575H668V579H666ZM668 571H671V572H668ZM668 573H671V577H668ZM671 568H674V569H671ZM671 573H674V574H671ZM674 557H677V558H674ZM674 566H677V567H674ZM674 569H677V570H674ZM677 555H679V559H677ZM677 568H679V569H677ZM677 570H679V571H677ZM677 573H679V576H677ZM677 577H679V579H677ZM679 556H682V557H679ZM679 558H682V559H679ZM679 567H682V569H679ZM679 572H682V573H679ZM679 575H682V576H679ZM679 577H682V579H679ZM682 554H685V555H682ZM682 574H685V576H682ZM685 574H688V575H685ZM688 555H691V556H688ZM688 573H691V574H688ZM691 557H694V558H691ZM691 571H694V572H691ZM694 556H696V558H694ZM694 573H696V574H694ZM696 556H700V559H696ZM696 570H700V571H696ZM696 572H700V573H696ZM700 556H702V557H700ZM700 568H702V571H700ZM702 558H704V559H702ZM702 572H704V573H702ZM704 555H707V556H704ZM704 574H707V575H704ZM707 569H710V571H707ZM707 572H710V573H707ZM710 573H713V574H710ZM713 574H716V575H713ZM716 555H718V556H716ZM716 575H718V576H716ZM718 555H721V556H718ZM721 555H724V556H721ZM721 569H724V570H721ZM721 573H724V574H721ZM724 554H727V557H724ZM727 554H729V555H727ZM727 575H729V576H727ZM727 583H729V587H727ZM729 553H732V556H729ZM729 581H732V585H729ZM732 553H735V555H732ZM732 556H735V557H732ZM732 558H735V559H732ZM732 560H735V561H732ZM732 576H735V577H732ZM732 585H735V587H732ZM735 556H738V557H735ZM735 559H738V560H735ZM735 577H738V579H735ZM738 553H741V554H738ZM738 559H741V560H738ZM738 573H741V574H738ZM738 587H741V589H738ZM741 556H743V557H741ZM741 570H743V571H741ZM741 574H743V575H741ZM743 553H746V555H743ZM743 576H746V577H743ZM743 579H746V581H743ZM746 553H749V554H746ZM746 555H749V556H746ZM746 576H749V577H746ZM749 553H752V554H749ZM749 572H752V573H749ZM749 574H752V575H749ZM752 559H755V560H752ZM752 571H755V572H752ZM755 553H757V554H755ZM755 556H757V561H755ZM755 568H757V570H755ZM755 571H757V573H755ZM755 579H757V581H755ZM755 583H757V585H755ZM757 556H760V558H757ZM757 559H760V561H757ZM757 568H760V570H757ZM757 573H760V575H757ZM757 576H760V577H757ZM757 579H760V583H757ZM757 587H760V589H757ZM760 558H763V559H760ZM760 574H763V575H760ZM760 579H763V581H760ZM763 556H766V558H763ZM763 581H766V583H763ZM763 587H766V589H763ZM766 554H768V555H766ZM766 557H768V558H766ZM766 566H768V567H766ZM766 574H768V575H766ZM768 553H771V554H768ZM768 555H771V556H768ZM768 559H771V560H768ZM768 581H771V583H768ZM771 553H774V554H771ZM771 556H774V557H771ZM771 559H774V560H771ZM771 583H774V585H771ZM774 558H777V561H774ZM774 579H777V581H774ZM777 555H780V556H777ZM777 573H780V574H777ZM777 583H780V587H777ZM780 557H782V558H780ZM780 559H782V560H780ZM780 571H782V572H780ZM780 574H782V575H780ZM780 576H782V577H780ZM780 581H782V585H780ZM782 585H785V587H782ZM785 579H788V581H785ZM788 576H791V581H788ZM791 573H793V574H791ZM791 575H793V579H791ZM793 575H796V576H793ZM796 574H799V575H796ZM802 572H805V573H802ZM805 570H807V571H805ZM807 568H810V570H807ZM810 566H813V568H810ZM810 569H813V570H810ZM816 564H819V568H816ZM819 568H821V569H819ZM821 563H824V565H821ZM821 566H824V567H821ZM824 565H827V566H824ZM824 567H827V569H824ZM827 565H830V568H827ZM830 566H832V567H830ZM832 565H835V566H832ZM835 565H838V567H835ZM838 568H844V569H838ZM844 566H846V567H844ZM846 565H849V566H846ZM846 567H849V568H846ZM849 569H852V572H849ZM852 569H855V570H852ZM855 569H857V571H855ZM855 572H857V573H855ZM857 569H860V570H857ZM857 571H860V573H857ZM860 569H863V570H860ZM863 569H866V570H863ZM866 570H869V572H866ZM871 567H874V568H871ZM871 570H874V571H871ZM877 566H880V567H877ZM877 568H880V569H877ZM880 570H882.5V571H880ZM880 572H882.5V573H880Z"/>
<path fill="#fdb42f" d="M590 561H593V563H590ZM727 561H729V562H727ZM729 571H732V572H729ZM732 561H735V562H732ZM735 563H738V564H735ZM738 565H741V566H738ZM741 562H743V563H741ZM741 569H743V570H741ZM743 562H746V563H743ZM749 562H752V563H749ZM749 565H752V566H749ZM752 565H755V566H752ZM755 567H757V568H755ZM760 563H763V564H760ZM766 563H768V564H766ZM774 565H777V566H774ZM774 570H777V571H774ZM777 563H780V564H777ZM780 565H782V566H780ZM780 567H782V568H780ZM780 569H782V570H780ZM782 568H785V569H782ZM785 565H788V567H785ZM785 570H788V571H785ZM827 563H830V564H827Z"/>
<path fill="#fdc627" d="M593 561H596V562H593ZM632 559H635V560H632ZM643 564H646V565H643ZM657 563H660V564H657ZM663 565H666V566H663ZM666 563H668V564H666ZM666 565H668V566H666ZM671 575H674V581H671ZM674 559H677V564H674ZM679 560H682V561H679ZM682 563H685V564H682ZM732 583H735V585H732ZM735 561H738V562H735ZM735 583H738V585H735ZM741 583H743V585H741ZM746 561H749V562H746ZM752 562H755V563H752ZM752 564H755V565H752ZM752 583H755V585H752ZM766 583H768V585H766ZM768 561H771V562H768ZM768 565H771V566H768ZM774 561H777V562H774ZM774 564H777V565H774ZM774 583H777V585H774ZM782 555H785V556H782ZM782 557H785V558H782ZM782 569H785V570H782ZM785 556H788V557H785ZM785 567H788V568H785ZM785 571H788V572H785ZM788 559H791V560H788ZM788 563H791V564H788ZM788 565H791V566H788ZM788 567H791V568H788ZM788 570H791V571H788ZM788 573H791V574H788ZM791 561H793V563H791ZM791 566H793V568H791ZM791 570H793V572H791ZM793 554H796V555H793ZM793 557H796V558H793ZM793 565H796V566H793ZM793 570H796V571H793ZM796 554H799V555H796ZM796 556H799V557H796ZM796 562H799V563H796ZM796 567H799V569H796ZM799 556H802V557H799ZM799 564H802V566H799ZM799 570H802V572H799ZM802 554H805V556H802ZM802 557H805V558H802ZM802 564H805V565H802ZM802 566H805V567H802ZM805 554H807V555H805ZM805 556H807V559H805ZM805 560H807V561H805ZM805 562H807V564H805ZM807 553H810V554H807ZM807 556H810V558H807ZM807 561H810V564H807ZM810 553H813V554H810ZM810 555H813V559H810ZM810 560H813V561H810ZM810 562H813V563H810ZM813 556H816V557H813ZM813 565H816V566H813ZM816 556H819V557H816ZM816 561H819V562H816ZM821 559H824V561H821ZM824 553H827V554H824ZM824 557H827V558H824ZM827 562H830V563H827ZM830 555H832V556H830ZM830 557H832V559H830ZM830 561H832V562H830ZM832 553H835V554H832ZM832 562H835V563H832ZM835 553H838V554H835ZM835 556H838V557H835ZM835 558H838V559H835ZM838 554H844V555H838ZM844 554H846V555H844ZM844 558H846V559H844ZM846 553H849V555H846ZM846 559H849V560H846ZM846 561H849V562H846ZM849 553H852V555H849ZM849 561H852V562H849ZM849 563H852V564H849ZM852 554H855V555H852ZM852 558H855V559H852ZM852 561H855V562H852ZM852 563H855V564H852ZM855 553H857V554H855ZM855 555H857V557H855ZM855 558H857V559H855ZM855 561H857V563H855ZM855 566H857V569H855ZM857 554H860V555H857ZM857 558H860V559H857ZM857 561H860V562H857ZM857 566H860V567H857ZM857 568H860V569H857ZM860 553H863V554H860ZM860 555H863V556H860ZM860 561H863V562H860ZM860 563H863V564H860ZM863 554H866V555H863ZM863 561H866V562H863ZM863 564H866V566H863ZM866 555H869V556H866ZM866 562H869V563H866ZM869 553H871V554H869ZM869 555H871V556H869ZM869 558H871V560H869ZM869 564H871V565H869ZM869 566H871V567H869ZM871 554H874V555H871ZM871 560H874V561H871ZM874 553H877V554H874ZM874 555H877V556H874ZM874 561H877V562H874ZM874 564H877V565H874ZM877 554H880V555H877ZM877 564H880V566H877ZM880 555H882.5V556H880ZM880 557H882.5V558H880ZM880 566H882.5V567H880Z"/>
<path fill="#fccd25" d="M596 557H615V558H596ZM615 561H624V567H615ZM624 563H627V564H624ZM624 565H627V566H624ZM629 559H632V560H629ZM629 561H632V563H629ZM635 563H638V565H635ZM640 563H643V566H640ZM646 564H649V565H646ZM652 563H654V565H652ZM657 564H660V566H657ZM666 564H668V565H666ZM671 559H674V562H671ZM671 563H674V566H671ZM677 562H679V563H677ZM679 559H682V560H679ZM679 561H682V563H679ZM682 558H685V559H682ZM682 560H685V561H682ZM682 564H685V565H682ZM682 566H685V568H682ZM685 559H688V561H685ZM685 565H688V566H685ZM691 563H694V565H691ZM696 561H700V562H696ZM696 564H700V565H696ZM707 560H710V563H707ZM724 561H727V564H724ZM724 565H727V566H724ZM727 566H729V567H727ZM727 568H729V569H727ZM727 570H729V571H727ZM727 572H729V573H727ZM729 568H732V569H729ZM732 567H735V568H732ZM735 566H738V567H735ZM738 566H741V567H738ZM741 587H743V589H741ZM746 568H749V569H746ZM768 567H771V568H768ZM771 565H774V567H771ZM774 563H777V564H774ZM777 566H780V567H777ZM780 564H782V565H780ZM780 568H782V569H780ZM780 587H782V589H780ZM782 553H785V554H782ZM785 554H788V556H785ZM785 572H788V573H785ZM788 553H791V554H788ZM788 556H791V557H788ZM788 561H791V563H788ZM788 564H791V565H788ZM788 568H791V569H788ZM788 574H791V575H788ZM791 553H793V555H791ZM791 556H793V557H791ZM791 558H793V559H791ZM791 564H793V565H791ZM791 569H793V570H791ZM793 556H796V557H793ZM793 559H796V560H793ZM793 562H796V563H793ZM793 566H796V568H793ZM796 557H799V558H796ZM796 561H799V562H796ZM796 570H799V571H796ZM799 553H802V555H799ZM799 560H802V561H799ZM799 569H802V570H799ZM802 553H805V554H802ZM802 560H805V561H802ZM802 565H805V566H802ZM802 567H805V568H802ZM805 553H807V554H805ZM805 555H807V556H805ZM805 561H807V562H805ZM807 554H810V555H807ZM807 558H810V559H807ZM810 564H813V566H810ZM813 553H816V555H813ZM813 560H816V561H813ZM816 555H819V556H816ZM816 557H819V558H816ZM816 559H819V560H816ZM819 562H821V564H819ZM821 554H824V555H821ZM821 558H824V559H821ZM824 563H827V564H824ZM827 554H830V555H827ZM827 560H830V561H827ZM830 556H832V557H830ZM835 559H838V560H835ZM835 561H838V563H835ZM838 553H844V554H838ZM838 555H844V557H838ZM838 559H844V560H838ZM838 562H844V563H838ZM844 557H846V558H844ZM844 559H846V560H844ZM844 563H846V564H844ZM846 555H849V556H846ZM846 557H849V558H846ZM846 563H849V565H846ZM849 555H852V557H849ZM849 558H852V561H849ZM849 562H852V563H849ZM852 553H855V554H852ZM852 555H855V557H852ZM852 559H855V560H852ZM852 567H855V568H852ZM855 554H857V555H855ZM855 564H857V565H855ZM857 556H860V558H857ZM857 560H860V561H857ZM857 562H860V563H857ZM857 564H860V565H857ZM857 567H860V568H857ZM860 554H863V555H860ZM860 556H863V557H860ZM860 560H863V561H860ZM860 562H863V563H860ZM860 567H863V569H860ZM863 560H866V561H863ZM863 562H866V564H863ZM866 561H869V562H866ZM866 564H869V565H866ZM869 560H871V562H869ZM869 568H871V569H869ZM871 555H874V556H871ZM871 562H874V563H871ZM874 554H877V555H874ZM874 563H877V564H874ZM877 553H880V554H877ZM877 556H880V557H877ZM877 558H880V559H877ZM877 560H880V561H877ZM877 562H880V563H877ZM880 554H882.5V555H880ZM880 560H882.5V561H880ZM880 564H882.5V565H880Z"/>
<path fill="#f9dc24" d="M596 558H615V562H596ZM615 567H624V568H615ZM624 559H627V560H624ZM624 561H627V563H624ZM624 566H627V567H624ZM627 565H629V566H627ZM627 575H629V587H627ZM629 575H632V587H629ZM632 567H635V568H632ZM638 560H640V561H638ZM638 565H640V566H638ZM640 566H643V567H640ZM643 561H646V562H643ZM646 566H649V567H646ZM649 562H652V563H649ZM652 566H654V567H652ZM660 563H663V566H660ZM663 559H666V561H663ZM663 562H666V563H663ZM668 566H671V567H668ZM677 566H679V567H677ZM682 555H685V556H682ZM682 562H685V563H682ZM682 571H685V572H682ZM685 558H688V559H685ZM685 567H688V568H685ZM685 570H688V571H685ZM688 557H691V558H688ZM688 561H691V562H688ZM688 563H691V564H688ZM688 565H691V567H688ZM688 569H691V570H688ZM691 560H694V563H691ZM694 558H696V559H694ZM694 564H696V565H694ZM694 566H696V567H694ZM694 568H696V569H694ZM696 568H700V569H696ZM700 562H702V563H700ZM702 559H704V567H702ZM702 568H704V569H702ZM702 570H704V571H702ZM704 559H707V561H704ZM704 567H707V568H704ZM704 570H707V571H704ZM707 558H710V559H707ZM707 563H710V564H707ZM707 566H710V567H707ZM710 559H713V560H710ZM710 563H713V564H710ZM710 565H713V566H710ZM713 559H716V560H713ZM713 562H716V569H713ZM716 558H718V559H716ZM716 563H718V564H716ZM716 566H718V570H716ZM718 557H721V558H718ZM718 559H721V561H718ZM718 562H721V563H718ZM718 565H721V566H718ZM718 568H721V570H718ZM721 557H724V558H721ZM721 566H724V567H721ZM724 557H727V559H724ZM724 560H727V561H724ZM724 570H727V572H724ZM727 574H729V575H727ZM729 556H732V559H729ZM729 566H732V567H729ZM729 570H732V571H729ZM729 574H732V575H729ZM732 568H735V569H732ZM732 572H735V573H732ZM732 575H735V576H732ZM735 567H738V568H735ZM735 569H738V572H735ZM735 575H738V576H735ZM738 567H741V568H738ZM738 569H741V571H738ZM741 567H743V568H741ZM741 572H743V573H741ZM743 575H746V576H743ZM746 566H749V567H746ZM749 566H752V567H749ZM749 569H752V570H749ZM749 573H752V574H749ZM749 577H752V579H749ZM752 567H755V568H752ZM752 570H755V571H752ZM755 574H757V575H755ZM755 576H757V577H755ZM760 567H763V568H760ZM760 569H763V570H760ZM760 571H763V573H760ZM763 568H766V571H763ZM763 573H766V574H763ZM763 577H766V579H763ZM766 569H768V570H766ZM766 571H768V572H766ZM766 573H768V574H766ZM766 575H768V579H766ZM768 560H771V561H768ZM768 571H771V572H768ZM771 570H774V571H771ZM771 572H774V573H771ZM774 568H777V569H774ZM774 571H777V572H774ZM774 573H777V574H774ZM780 560H782V561H780ZM780 570H782V571H780ZM780 573H782V574H780ZM782 574H785V575H782ZM782 593H785V595H782ZM785 573H788V575H785ZM785 576H788V577H785ZM788 575H791V576H788ZM816 563H819V564H816ZM830 564H832V565H830ZM852 568H855V569H852ZM863 567H866V568H863Z"/>
<path fill="#f7e225" d="M615 559H624V561H615ZM629 557H632V558H629ZM632 566H635V567H632ZM632 571H635V572H632ZM638 558H640V559H638ZM638 563H640V564H638ZM640 557H643V559H640ZM640 571H643V573H640ZM643 558H646V559H643ZM643 568H646V571H643ZM643 573H646V575H643ZM646 568H649V569H646ZM646 571H649V574H646ZM649 564H652V565H649ZM652 559H654V561H652ZM654 567H657V568H654ZM654 569H657V571H654ZM654 575H657V576H654ZM660 566H663V567H660ZM660 571H663V574H660ZM663 568H666V569H663ZM666 571H668V572H666ZM671 572H674V573H671ZM671 574H674V575H671ZM677 567H679V568H677ZM677 569H679V570H677ZM677 572H679V573H677ZM677 576H679V577H677ZM679 569H682V571H679ZM682 572H685V574H682ZM685 556H688V557H685ZM685 572H688V574H685ZM688 556H691V557H688ZM688 571H691V573H688ZM691 556H694V557H691ZM694 560H696V563H694ZM694 571H696V573H694ZM696 567H700V568H696ZM696 571H700V572H696ZM700 557H702V558H700ZM700 564H702V565H700ZM700 567H702V568H700ZM700 571H702V573H700ZM704 556H707V558H704ZM704 563H707V565H704ZM704 566H707V567H704ZM704 573H707V574H704ZM707 556H710V557H707ZM707 565H710V566H707ZM707 567H710V569H707ZM707 571H710V572H707ZM710 557H713V559H710ZM713 557H716V558H713ZM713 561H716V562H713ZM713 569H716V570H713ZM713 573H716V574H713ZM716 556H718V558H716ZM716 560H718V561H716ZM716 562H718V563H716ZM716 565H718V566H716ZM716 572H718V574H716ZM718 556H721V557H718ZM721 565H724V566H721ZM721 568H724V569H721ZM721 570H724V571H721ZM721 572H724V573H721ZM724 574H727V575H724ZM727 555H729V557H727ZM727 559H729V561H727ZM727 579H729V581H727ZM729 559H732V560H729ZM729 572H732V573H729ZM729 575H732V579H729ZM732 555H735V556H732ZM732 566H735V567H732ZM732 571H735V572H732ZM732 574H735V575H732ZM732 577H735V579H732ZM732 581H735V583H732ZM735 557H738V558H735ZM735 560H738V561H735ZM735 568H738V569H735ZM735 572H738V574H735ZM735 579H738V581H735ZM738 572H741V573H738ZM738 576H741V579H738ZM741 555H743V556H741ZM741 559H743V561H741ZM741 566H743V567H741ZM741 573H743V574H741ZM741 575H743V576H741ZM741 579H743V583H741ZM743 559H746V560H743ZM743 567H746V568H743ZM743 569H746V570H743ZM743 581H746V583H743ZM746 560H749V561H746ZM746 573H749V574H746ZM749 555H752V556H749ZM749 571H752V572H749ZM749 576H752V577H749ZM749 579H752V581H749ZM749 583H752V585H749ZM752 555H755V556H752ZM752 560H755V561H752ZM752 574H755V575H752ZM752 576H755V577H752ZM755 555H757V556H755ZM755 566H757V567H755ZM755 570H757V571H755ZM757 572H760V573H757ZM760 557H763V558H760ZM760 568H763V569H760ZM760 577H763V579H760ZM763 554H766V555H763ZM763 558H766V560H763ZM763 567H766V568H763ZM763 572H766V573H763ZM766 556H768V557H766ZM766 559H768V560H766ZM766 579H768V583H766ZM768 556H771V558H768ZM768 566H771V567H768ZM768 583H771V585H768ZM771 577H774V579H771ZM771 581H774V583H771ZM774 555H777V556H774ZM774 557H777V558H774ZM774 567H777V568H774ZM774 572H777V573H774ZM777 556H780V557H777ZM777 558H780V559H777ZM777 560H780V561H777ZM777 570H780V573H777ZM777 576H780V579H777ZM780 566H782V567H780ZM780 577H782V579H780ZM782 577H785V579H782ZM782 581H785V585H782ZM785 575H788V576H785ZM793 576H796V577H793ZM799 574H802V575H799ZM805 569H807V570H805ZM807 567H810V568H807ZM827 564H830V565H827ZM832 564H835V565H832ZM838 565H844V566H838ZM844 564H846V565H844ZM846 566H849V567H846ZM860 570H863V571H860ZM866 569H869V570H866ZM874 568H877V569H874Z"/>
<path fill="#fbd324" d="M624 560H627V561H624ZM624 564H627V565H624ZM627 563H629V565H627ZM629 560H632V561H629ZM629 563H632V566H629ZM632 563H635V566H632ZM635 559H638V563H635ZM635 565H638V566H635ZM635 583H638V595H635ZM643 559H646V561H643ZM643 566H646V567H643ZM646 559H649V564H646ZM652 565H654V566H652ZM654 559H657V560H654ZM654 565H657V566H654ZM657 559H660V563H657ZM657 566H660V567H657ZM660 559H663V560H660ZM663 566H666V567H663ZM666 559H668V563H666ZM666 566H668V567H666ZM668 563H671V566H668ZM671 562H674V563H671ZM671 566H674V567H671ZM677 559H679V562H677ZM677 563H679V566H677ZM679 563H682V566H679ZM682 556H685V558H682ZM682 559H685V560H682ZM682 561H685V562H682ZM682 565H685V566H682ZM682 568H685V571H682ZM685 561H688V565H685ZM685 566H688V567H685ZM685 568H688V570H685ZM688 558H691V561H688ZM688 562H691V563H688ZM688 564H691V565H688ZM688 567H691V569H688ZM688 570H691V571H688ZM691 565H694V571H691ZM694 567H696V568H694ZM694 569H696V570H694ZM696 559H700V561H696ZM696 562H700V564H696ZM696 565H700V567H696ZM702 567H704V568H702ZM702 569H704V570H702ZM704 561H707V563H704ZM704 568H707V570H704ZM704 571H707V572H704ZM707 559H710V560H707ZM710 560H713V563H710ZM710 567H713V570H710ZM718 558H721V559H718ZM718 567H721V568H718ZM721 558H724V563H721ZM724 559H727V560H724ZM724 564H727V565H724ZM724 566H727V569H724ZM727 557H729V559H727ZM727 567H729V568H727ZM727 571H729V572H727ZM727 573H729V574H727ZM729 569H732V570H729ZM729 573H732V574H729ZM732 565H735V566H732ZM732 569H735V570H732ZM732 573H735V574H732ZM735 574H738V575H735ZM738 568H741V569H738ZM741 568H743V569H741ZM743 566H746V567H743ZM743 568H746V569H743ZM743 570H746V572H743ZM746 569H749V570H746ZM746 571H749V573H746ZM749 570H752V571H749ZM752 569H755V570H752ZM752 572H755V573H752ZM757 566H760V568H757ZM757 570H760V571H757ZM760 566H763V567H760ZM760 570H763V571H760ZM763 566H766V567H763ZM763 571H766V572H763ZM763 574H766V575H763ZM766 567H768V569H766ZM768 569H771V571H768ZM768 572H771V573H768ZM771 567H774V569H771ZM771 571H774V572H771ZM771 589H774V591H771ZM774 569H777V570H774ZM777 568H780V569H777ZM782 554H785V555H782ZM782 556H785V557H782ZM782 560H785V561H782ZM782 566H785V567H782ZM782 575H785V576H782ZM788 554H791V555H788ZM791 555H793V556H791ZM791 557H793V558H791ZM791 572H793V573H791ZM793 558H796V559H793ZM807 555H810V556H807ZM810 554H813V555H810ZM819 556H821V558H819ZM821 562H824V563H821ZM824 554H827V556H824ZM832 555H835V556H832ZM835 554H838V555H835ZM855 557H857V558H855ZM863 555H866V556H863ZM863 559H866V560H863ZM866 553H869V554H866ZM866 556H869V557H866ZM874 559H877V560H874ZM877 557H880V558H877ZM880 556H882.5V557H880ZM880 569H882.5V570H880Z"/>
<path fill="#feba2c" d="M627 559H629V563H627ZM640 559H643V560H640ZM649 559H652V562H649ZM729 565H732V566H729ZM735 562H738V563H735ZM735 565H738V566H735ZM738 574H741V575H738ZM743 565H746V566H743ZM746 563H749V565H746ZM746 575H749V576H746ZM749 561H752V562H749ZM752 563H755V564H752ZM757 563H760V564H757ZM766 561H768V563H766ZM766 564H768V566H766ZM766 572H768V573H766ZM771 574H774V575H771ZM777 564H780V565H777ZM780 561H782V563H780ZM782 573H785V574H782ZM785 553H788V554H785ZM785 558H788V561H785ZM785 564H788V565H785ZM788 572H791V573H788ZM791 560H793V561H791ZM791 563H793V564H791ZM793 560H796V562H793ZM793 568H796V569H793ZM793 573H796V574H793ZM796 558H799V559H796ZM796 569H799V570H796ZM799 558H802V559H799ZM799 561H802V563H799ZM799 567H802V568H799ZM799 572H802V573H799ZM802 563H805V564H802ZM805 565H807V567H805ZM807 564H810V565H807ZM810 563H813V564H810ZM813 557H816V558H813ZM816 558H819V559H816ZM816 562H819V563H816ZM819 558H821V559H819ZM819 560H821V562H819ZM819 564H821V565H819ZM821 557H824V558H821ZM821 561H824V562H821ZM824 559H827V560H824ZM824 562H827V563H824ZM827 561H830V562H827ZM830 559H832V560H830ZM830 563H832V564H830ZM832 559H835V560H832ZM832 561H835V562H832ZM844 561H846V563H844ZM849 565H852V566H849ZM852 560H855V561H852ZM852 562H855V563H852ZM852 566H855V567H852ZM855 559H857V561H855ZM857 559H860V560H857ZM857 565H860V566H857ZM860 566H863V567H860ZM866 559H869V560H866ZM866 565H869V568H866ZM869 565H871V566H869ZM871 559H874V560H871ZM871 563H874V567H871ZM874 556H877V557H874ZM874 566H877V567H874ZM880 561H882.5V562H880ZM880 565H882.5V566H880ZM880 567H882.5V568H880Z"/>
<path fill="#f8df25" d="M627 566H629V567H627ZM629 566H632V567H629ZM632 568H635V571H632ZM638 559H640V560H638ZM638 561H640V563H638ZM638 564H640V565H638ZM640 569H643V571H640ZM640 583H643V603H640ZM643 567H646V568H643ZM643 571H646V572H643ZM649 563H652V564H649ZM649 565H652V566H649ZM652 561H654V563H652ZM654 566H657V567H654ZM654 568H657V569H654ZM660 558H663V559H660ZM663 567H666V568H663ZM663 569H666V571H663ZM671 571H674V572H671ZM674 564H677V566H674ZM677 571H679V572H677ZM679 566H682V567H679ZM685 557H688V558H685ZM685 571H688V572H685ZM691 558H694V560H691ZM694 559H696V560H694ZM694 563H696V564H694ZM694 565H696V566H694ZM694 570H696V571H694ZM696 569H700V570H696ZM700 558H702V562H700ZM700 563H702V564H700ZM700 565H702V567H700ZM704 558H707V559H704ZM704 565H707V566H704ZM704 572H707V573H704ZM707 557H710V558H707ZM707 564H710V565H707ZM710 564H713V565H710ZM710 566H713V567H710ZM710 570H713V573H710ZM713 558H716V559H713ZM713 560H716V561H713ZM713 570H716V573H713ZM716 559H718V560H716ZM716 561H718V562H716ZM716 564H718V565H716ZM716 570H718V572H716ZM718 561H721V562H718ZM718 563H721V565H718ZM718 566H721V567H718ZM718 570H721V571H718ZM721 556H724V557H721ZM721 563H724V565H721ZM721 567H724V568H721ZM721 571H724V572H721ZM724 569H727V570H724ZM724 572H727V574H724ZM727 569H729V570H727ZM727 576H729V577H727ZM727 581H729V583H727ZM729 560H732V561H729ZM729 579H732V581H729ZM732 557H735V558H732ZM732 570H735V571H732ZM732 579H735V581H732ZM735 558H738V559H735ZM735 576H738V577H735ZM738 557H741V558H738ZM738 571H741V572H738ZM738 575H741V576H738ZM741 557H743V558H741ZM741 571H743V572H741ZM741 576H743V579H741ZM743 558H746V559H743ZM743 560H746V561H743ZM743 572H746V573H743ZM743 574H746V575H743ZM743 577H746V579H743ZM746 559H749V560H746ZM746 567H749V568H746ZM746 570H749V571H746ZM749 559H752V560H749ZM749 567H752V569H749ZM749 575H752V576H749ZM752 557H755V559H752ZM752 566H755V567H752ZM752 568H755V569H752ZM752 573H755V574H752ZM752 575H755V576H752ZM752 577H755V579H752ZM755 573H757V574H755ZM755 575H757V576H755ZM755 577H757V579H755ZM757 571H760V572H757ZM760 573H763V574H760ZM760 575H763V577H760ZM763 575H766V576H763ZM763 579H766V581H763ZM766 560H768V561H766ZM766 570H768V571H766ZM768 568H771V569H768ZM768 573H771V579H768ZM771 560H774V561H771ZM771 569H774V570H771ZM771 575H774V576H771ZM774 566H777V567H774ZM774 574H777V575H774ZM777 567H780V568H777ZM777 569H780V570H777ZM777 574H780V576H777ZM780 558H782V559H780ZM780 572H782V573H780ZM780 575H782V576H780ZM782 576H785V577H782ZM782 579H785V581H782ZM785 577H788V579H785ZM802 569H805V570H802ZM838 564H844V565H838ZM849 567H852V568H849ZM866 568H869V569H866Z"/>
<path fill="#e87059" d="M632 560H635V563H632ZM660 560H663V563H660Z"/>
<path fill="#ed7a52" d="M635 566H638V570H635ZM738 560H741V565H738Z"/>
<path fill="#b42e8d" d="M640 560H643V562H640Z"/>
<path fill="#fba139" d="M640 567H643V569H640ZM732 564H735V565H732ZM743 563H746V564H743ZM746 562H749V563H746ZM749 564H752V565H749ZM763 563H766V564H763ZM768 564H771V565H768ZM777 561H780V562H777ZM780 563H782V564H780ZM785 561H788V562H785ZM785 563H788V564H785ZM821 556H824V557H821ZM835 555H838V556H835Z"/>
<path fill="#d5536f" d="M643 562H646V564H643ZM729 563H732V564H729ZM782 563H785V564H782Z"/>
<path fill="#f89540" d="M643 565H646V566H643ZM646 565H649V566H646ZM735 564H738V565H735ZM741 561H743V562H741ZM752 561H755V562H752ZM757 561H760V563H757ZM768 563H771V564H768Z"/>
<path fill="#c5407e" d="M663 561H666V562H663ZM755 562H757V563H755Z"/>
<path fill="#a01a9c" d="M663 563H666V565H663ZM732 562H735V564H732Z"/>
<path fill="#f79044" d="M729 561H732V562H729ZM782 562H785V563H782ZM782 571H785V572H782Z"/>
<path fill="#f2844b" d="M782 564H785V565H782ZM782 567H785V568H782Z"/>
<path fill="#f3ef27" d="M702 587H704V691H702ZM713 587H715V691H713ZM769 587H774V691H769ZM778 587H784V691H778ZM796 587H798V691H796ZM818 587H820V691H818Z"/>
<rect x="746" y="566" width="3" height="120" fill="#f68d45"/>
</g>
<path d="M159.5 65.5H454.5V457.5H159.5Z" fill="none" stroke="#000" stroke-width="1.1" stroke-linejoin="miter"/>
<text dx="0 0 -1" x="161.5" y="478.2" font-size="13.89" text-anchor="middle">0.55</text>
<text dx="0 0 -1" x="212.3" y="478.2" font-size="13.89" text-anchor="middle">0.60</text>
<text dx="0 0 -1" x="263.1" y="478.2" font-size="13.89" text-anchor="middle">0.65</text>
<text dx="0 0 -1" x="313.9" y="478.2" font-size="13.89" text-anchor="middle">0.70</text>
<text dx="0 0 -1" x="364.7" y="478.2" font-size="13.89" text-anchor="middle">0.75</text>
<text dx="0 0 -1" x="415.5" y="478.2" font-size="13.89" text-anchor="middle">0.80</text>
<path d="M161.5 457.5v4.86M212.5 457.5v4.86M263.5 457.5v4.86M313.5 457.5v4.86M364.5 457.5v4.86M415.5 457.5v4.86" stroke="#000" stroke-width="1.1" fill="none"/>
<text x="453" y="495.7" font-size="13.89" text-anchor="end">+2.017e3</text>
<text x="149.8" y="70.8" font-size="13.89" text-anchor="end">0</text>
<text x="148.55" y="148.2" font-size="13.89" text-anchor="end">200</text>
<text x="148.55" y="225.6" font-size="13.89" text-anchor="end">400</text>
<text x="148.55" y="303" font-size="13.89" text-anchor="end">600</text>
<text x="148.55" y="380.4" font-size="13.89" text-anchor="end">800</text>
<text letter-spacing="-0.3" x="148.6" y="457.8" font-size="13.89" text-anchor="end">1000</text>
<path d="M159.5 65.5h-4.86M159.5 143.5h-4.86M159.5 220.5h-4.86M159.5 298.5h-4.86M159.5 375.5h-4.86M159.5 452.5h-4.86" stroke="#000" stroke-width="1.1" fill="none"/>
<text x="307" y="57" font-size="16.67" text-anchor="middle">CHLA</text>
<path d="M587.5 65.5H882.5V457.5H587.5Z" fill="none" stroke="#000" stroke-width="1.1" stroke-linejoin="miter"/>
<text dx="0 0 -1" x="590.5" y="478.2" font-size="13.89" text-anchor="middle">0.55</text>
<text dx="0 0 -1" x="641.3" y="478.2" font-size="13.89" text-anchor="middle">0.60</text>
<text dx="0 0 -1" x="692.1" y="478.2" font-size="13.89" text-anchor="middle">0.65</text>
<text dx="0 0 -1" x="742.9" y="478.2" font-size="13.89" text-anchor="middle">0.70</text>
<text dx="0 0 -1" x="793.7" y="478.2" font-size="13.89" text-anchor="middle">0.75</text>
<text dx="0 0 -1" x="844.5" y="478.2" font-size="13.89" text-anchor="middle">0.80</text>
<path d="M590.5 457.5v4.86M641.5 457.5v4.86M692.5 457.5v4.86M742.5 457.5v4.86M793.5 457.5v4.86M844.5 457.5v4.86" stroke="#000" stroke-width="1.1" fill="none"/>
<text x="881.8" y="495.7" font-size="13.89" text-anchor="end">+2.017e3</text>
<text x="578.8" y="70.8" font-size="13.89" text-anchor="end">0</text>
<text x="577.55" y="148.2" font-size="13.89" text-anchor="end">200</text>
<text x="577.55" y="225.6" font-size="13.89" text-anchor="end">400</text>
<text x="577.55" y="303" font-size="13.89" text-anchor="end">600</text>
<text x="577.55" y="380.4" font-size="13.89" text-anchor="end">800</text>
<text letter-spacing="-0.3" x="577.6" y="457.8" font-size="13.89" text-anchor="end">1000</text>
<path d="M587.5 65.5h-4.86M587.5 143.5h-4.86M587.5 220.5h-4.86M587.5 298.5h-4.86M587.5 375.5h-4.86M587.5 452.5h-4.86" stroke="#000" stroke-width="1.1" fill="none"/>
<text x="735" y="57" font-size="16.67" text-anchor="middle">CHLA_ADJUSTED</text>
<path d="M1016.5 65.5H1311.5V457.5H1016.5Z" fill="none" stroke="#000" stroke-width="1.1" stroke-linejoin="miter"/>
<text dx="0 0 -1" x="1019.5" y="478.2" font-size="13.89" text-anchor="middle">0.55</text>
<text dx="0 0 -1" x="1070.3" y="478.2" font-size="13.89" text-anchor="middle">0.60</text>
<text dx="0 0 -1" x="1121.1" y="478.2" font-size="13.89" text-anchor="middle">0.65</text>
<text dx="0 0 -1" x="1171.9" y="478.2" font-size="13.89" text-anchor="middle">0.70</text>
<text dx="0 0 -1" x="1222.7" y="478.2" font-size="13.89" text-anchor="middle">0.75</text>
<text dx="0 0 -1" x="1273.5" y="478.2" font-size="13.89" text-anchor="middle">0.80</text>
<path d="M1019.5 457.5v4.86M1070.5 457.5v4.86M1121.5 457.5v4.86M1171.5 457.5v4.86M1222.5 457.5v4.86M1273.5 457.5v4.86" stroke="#000" stroke-width="1.1" fill="none"/>
<text x="1310.8" y="495.7" font-size="13.89" text-anchor="end">+2.017e3</text>
<text x="1007.8" y="70.8" font-size="13.89" text-anchor="end">0</text>
<text x="1006.55" y="148.2" font-size="13.89" text-anchor="end">200</text>
<text x="1006.55" y="225.6" font-size="13.89" text-anchor="end">400</text>
<text x="1006.55" y="303" font-size="13.89" text-anchor="end">600</text>
<text x="1006.55" y="380.4" font-size="13.89" text-anchor="end">800</text>
<text letter-spacing="-0.3" x="1006.6" y="457.8" font-size="13.89" text-anchor="end">1000</text>
<path d="M1016.5 65.5h-4.86M1016.5 143.5h-4.86M1016.5 220.5h-4.86M1016.5 298.5h-4.86M1016.5 375.5h-4.86M1016.5 452.5h-4.86" stroke="#000" stroke-width="1.1" fill="none"/>
<text x="1164" y="57" font-size="16.67" text-anchor="middle">CHLA_ADJUSTED_QC</text>
<linearGradient id="g1" x1="0" y1="0" x2="0" y2="1"><stop offset="0" stop-color="#0d0887"/><stop offset="0.02" stop-color="#1b068d"/><stop offset="0.04" stop-color="#260591"/><stop offset="0.06" stop-color="#2f0596"/><stop offset="0.08" stop-color="#3a049a"/><stop offset="0.1" stop-color="#43039e"/><stop offset="0.12" stop-color="#4b03a1"/><stop offset="0.15" stop-color="#5502a4"/><stop offset="0.17" stop-color="#5c01a6"/><stop offset="0.19" stop-color="#6400a7"/><stop offset="0.21" stop-color="#6e00a8"/><stop offset="0.23" stop-color="#7501a8"/><stop offset="0.25" stop-color="#7d03a8"/><stop offset="0.27" stop-color="#8606a6"/><stop offset="0.29" stop-color="#8d0ba5"/><stop offset="0.31" stop-color="#9410a2"/><stop offset="0.33" stop-color="#9c179e"/><stop offset="0.35" stop-color="#a21d9a"/><stop offset="0.38" stop-color="#a82296"/><stop offset="0.4" stop-color="#b02991"/><stop offset="0.42" stop-color="#b52f8c"/><stop offset="0.44" stop-color="#bb3488"/><stop offset="0.46" stop-color="#c13b82"/><stop offset="0.48" stop-color="#c6417d"/><stop offset="0.5" stop-color="#cb4679"/><stop offset="0.52" stop-color="#d04d73"/><stop offset="0.54" stop-color="#d5536f"/><stop offset="0.56" stop-color="#d9586a"/><stop offset="0.58" stop-color="#de5f65"/><stop offset="0.6" stop-color="#e26561"/><stop offset="0.62" stop-color="#e56b5d"/><stop offset="0.65" stop-color="#e97257"/><stop offset="0.67" stop-color="#ed7953"/><stop offset="0.69" stop-color="#f07f4f"/><stop offset="0.71" stop-color="#f3874a"/><stop offset="0.73" stop-color="#f68d45"/><stop offset="0.75" stop-color="#f89441"/><stop offset="0.77" stop-color="#fa9c3c"/><stop offset="0.79" stop-color="#fca338"/><stop offset="0.81" stop-color="#fdab33"/><stop offset="0.83" stop-color="#fdb42f"/><stop offset="0.85" stop-color="#febb2b"/><stop offset="0.88" stop-color="#fdc328"/><stop offset="0.9" stop-color="#fccd25"/><stop offset="0.92" stop-color="#fbd524"/><stop offset="0.94" stop-color="#f9dd25"/><stop offset="0.96" stop-color="#f6e826"/><stop offset="0.98" stop-color="#f3f027"/><stop offset="1" stop-color="#f0f921"/></linearGradient>
<rect x="472.5" y="65.5" width="20" height="392" fill="url(#g1)"/>
<path d="M472.5 65.5H492.5V457.5H472.5Z" fill="none" stroke="#000" stroke-width="1.1" stroke-linejoin="miter"/>
<text x="502.2" y="458.8" font-size="13.89" text-anchor="start">0</text>
<text x="502.2" y="393.59" font-size="13.89" text-anchor="start">2</text>
<text x="502.2" y="328.38" font-size="13.89" text-anchor="start">4</text>
<text x="502.2" y="263.17" font-size="13.89" text-anchor="start">6</text>
<text x="502.2" y="197.96" font-size="13.89" text-anchor="start">8</text>
<text x="502.2" y="132.75" font-size="13.89" text-anchor="start">10</text>
<path d="M492.5 453.5h4.86M492.5 388.5h4.86M492.5 323.5h4.86M492.5 257.5h4.86M492.5 192.5h4.86M492.5 127.5h4.86" stroke="#000" stroke-width="1.1" fill="none"/>
<linearGradient id="g2" x1="0" y1="0" x2="0" y2="1"><stop offset="0" stop-color="#0d0887"/><stop offset="0.02" stop-color="#1b068d"/><stop offset="0.04" stop-color="#260591"/><stop offset="0.06" stop-color="#2f0596"/><stop offset="0.08" stop-color="#3a049a"/><stop offset="0.1" stop-color="#43039e"/><stop offset="0.12" stop-color="#4b03a1"/><stop offset="0.15" stop-color="#5502a4"/><stop offset="0.17" stop-color="#5c01a6"/><stop offset="0.19" stop-color="#6400a7"/><stop offset="0.21" stop-color="#6e00a8"/><stop offset="0.23" stop-color="#7501a8"/><stop offset="0.25" stop-color="#7d03a8"/><stop offset="0.27" stop-color="#8606a6"/><stop offset="0.29" stop-color="#8d0ba5"/><stop offset="0.31" stop-color="#9410a2"/><stop offset="0.33" stop-color="#9c179e"/><stop offset="0.35" stop-color="#a21d9a"/><stop offset="0.38" stop-color="#a82296"/><stop offset="0.4" stop-color="#b02991"/><stop offset="0.42" stop-color="#b52f8c"/><stop offset="0.44" stop-color="#bb3488"/><stop offset="0.46" stop-color="#c13b82"/><stop offset="0.48" stop-color="#c6417d"/><stop offset="0.5" stop-color="#cb4679"/><stop offset="0.52" stop-color="#d04d73"/><stop offset="0.54" stop-color="#d5536f"/><stop offset="0.56" stop-color="#d9586a"/><stop offset="0.58" stop-color="#de5f65"/><stop offset="0.6" stop-color="#e26561"/><stop offset="0.62" stop-color="#e56b5d"/><stop offset="0.65" stop-color="#e97257"/><stop offset="0.67" stop-color="#ed7953"/><stop offset="0.69" stop-color="#f07f4f"/><stop offset="0.71" stop-color="#f3874a"/><stop offset="0.73" stop-color="#f68d45"/><stop offset="0.75" stop-color="#f89441"/><stop offset="0.77" stop-color="#fa9c3c"/><stop offset="0.79" stop-color="#fca338"/><stop offset="0.81" stop-color="#fdab33"/><stop offset="0.83" stop-color="#fdb42f"/><stop offset="0.85" stop-color="#febb2b"/><stop offset="0.88" stop-color="#fdc328"/><stop offset="0.9" stop-color="#fccd25"/><stop offset="0.92" stop-color="#fbd524"/><stop offset="0.94" stop-color="#f9dd25"/><stop offset="0.96" stop-color="#f6e826"/><stop offset="0.98" stop-color="#f3f027"/><stop offset="1" stop-color="#f0f921"/></linearGradient>
<rect x="901.5" y="65.5" width="19" height="392" fill="url(#g2)"/>
<path d="M901.5 65.5H920.5V457.5H901.5Z" fill="none" stroke="#000" stroke-width="1.1" stroke-linejoin="miter"/>
<text x="930.2" y="459.9" font-size="13.89" text-anchor="start">0</text>
<text x="930.2" y="409.04" font-size="13.89" text-anchor="start">1</text>
<text x="930.2" y="358.18" font-size="13.89" text-anchor="start">2</text>
<text x="930.2" y="307.32" font-size="13.89" text-anchor="start">3</text>
<text x="930.2" y="256.46" font-size="13.89" text-anchor="start">4</text>
<text x="930.2" y="205.6" font-size="13.89" text-anchor="start">5</text>
<text x="930.2" y="154.74" font-size="13.89" text-anchor="start">6</text>
<text x="930.2" y="103.88" font-size="13.89" text-anchor="start">7</text>
<path d="M920.5 455.5h4.86M920.5 404.5h4.86M920.5 353.5h4.86M920.5 302.5h4.86M920.5 251.5h4.86M920.5 200.5h4.86M920.5 149.5h4.86M920.5 99.5h4.86" stroke="#000" stroke-width="1.1" fill="none"/>
<rect x="1330.5" y="413" width="19" height="44.5" fill="#e41a1c"/>
<rect x="1330.5" y="370" width="19" height="43" fill="#377eb8"/>
<rect x="1330.5" y="326" width="19" height="44" fill="#4daf4a"/>
<rect x="1330.5" y="283" width="19" height="43" fill="#984ea3"/>
<rect x="1330.5" y="239" width="19" height="44" fill="#ff7f00"/>
<rect x="1330.5" y="196" width="19" height="43" fill="#ffff33"/>
<rect x="1330.5" y="152" width="19" height="44" fill="#a65628"/>
<rect x="1330.5" y="109" width="19" height="43" fill="#f781bf"/>
<rect x="1330.5" y="65.5" width="19" height="43.5" fill="#999999"/>
<path d="M1330.5 65.5H1349.5V457.5H1330.5Z" fill="none" stroke="#000" stroke-width="1.1" stroke-linejoin="miter"/>
<text x="1359.2" y="462.8" font-size="13.89" text-anchor="start">0</text>
<text x="1359.2" y="413.8" font-size="13.89" text-anchor="start">1</text>
<text x="1359.2" y="364.8" font-size="13.89" text-anchor="start">2</text>
<text x="1359.2" y="315.8" font-size="13.89" text-anchor="start">3</text>
<text x="1359.2" y="266.8" font-size="13.89" text-anchor="start">4</text>
<text x="1359.2" y="217.8" font-size="13.89" text-anchor="start">5</text>
<text x="1359.2" y="168.8" font-size="13.89" text-anchor="start">6</text>
<text x="1359.2" y="119.8" font-size="13.89" text-anchor="start">7</text>
<text x="1359.2" y="70.8" font-size="13.89" text-anchor="start">8</text>
<path d="M1349.5 457.5h4.86M1349.5 408.5h4.86M1349.5 359.5h4.86M1349.5 310.5h4.86M1349.5 261.5h4.86M1349.5 212.5h4.86M1349.5 163.5h4.86M1349.5 114.5h4.86M1349.5 65.5h4.86" stroke="#000" stroke-width="1.1" fill="none"/>
<path d="M587.5 552.5H882.5V943.5H587.5Z" fill="none" stroke="#000" stroke-width="1.1" stroke-linejoin="miter"/>
<text dx="0 0 -1" x="590.5" y="964.2" font-size="13.89" text-anchor="middle">0.55</text>
<text dx="0 0 -1" x="641.3" y="964.2" font-size="13.89" text-anchor="middle">0.60</text>
<text dx="0 0 -1" x="692.1" y="964.2" font-size="13.89" text-anchor="middle">0.65</text>
<text dx="0 0 -1" x="742.9" y="964.2" font-size="13.89" text-anchor="middle">0.70</text>
<text dx="0 0 -1" x="793.7" y="964.2" font-size="13.89" text-anchor="middle">0.75</text>
<text dx="0 0 -1" x="844.5" y="964.2" font-size="13.89" text-anchor="middle">0.80</text>
<path d="M590.5 943.5v4.86M641.5 943.5v4.86M692.5 943.5v4.86M742.5 943.5v4.86M793.5 943.5v4.86M844.5 943.5v4.86" stroke="#000" stroke-width="1.1" fill="none"/>
<text x="881.8" y="981.7" font-size="13.89" text-anchor="end">+2.017e3</text>
<text x="578.8" y="557.1" font-size="13.89" text-anchor="end">0</text>
<text x="577.55" y="634.5" font-size="13.89" text-anchor="end">200</text>
<text x="577.55" y="711.9" font-size="13.89" text-anchor="end">400</text>
<text x="577.55" y="789.3" font-size="13.89" text-anchor="end">600</text>
<text x="577.55" y="866.7" font-size="13.89" text-anchor="end">800</text>
<text letter-spacing="-0.3" x="577.6" y="944.1" font-size="13.89" text-anchor="end">1000</text>
<path d="M587.5 552.5h-4.86M587.5 629.5h-4.86M587.5 707.5h-4.86M587.5 784.5h-4.86M587.5 861.5h-4.86M587.5 939.5h-4.86" stroke="#000" stroke-width="1.1" fill="none"/>
<text x="735" y="543" font-size="16.67" text-anchor="middle">CHLA_ADJUSTED_RO</text>
<linearGradient id="g3" x1="0" y1="0" x2="0" y2="1"><stop offset="0" stop-color="#0d0887"/><stop offset="0.02" stop-color="#1b068d"/><stop offset="0.04" stop-color="#260591"/><stop offset="0.06" stop-color="#2f0596"/><stop offset="0.08" stop-color="#3a049a"/><stop offset="0.1" stop-color="#43039e"/><stop offset="0.12" stop-color="#4b03a1"/><stop offset="0.15" stop-color="#5502a4"/><stop offset="0.17" stop-color="#5c01a6"/><stop offset="0.19" stop-color="#6400a7"/><stop offset="0.21" stop-color="#6e00a8"/><stop offset="0.23" stop-color="#7501a8"/><stop offset="0.25" stop-color="#7d03a8"/><stop offset="0.27" stop-color="#8606a6"/><stop offset="0.29" stop-color="#8d0ba5"/><stop offset="0.31" stop-color="#9410a2"/><stop offset="0.33" stop-color="#9c179e"/><stop offset="0.35" stop-color="#a21d9a"/><stop offset="0.38" stop-color="#a82296"/><stop offset="0.4" stop-color="#b02991"/><stop offset="0.42" stop-color="#b52f8c"/><stop offset="0.44" stop-color="#bb3488"/><stop offset="0.46" stop-color="#c13b82"/><stop offset="0.48" stop-color="#c6417d"/><stop offset="0.5" stop-color="#cb4679"/><stop offset="0.52" stop-color="#d04d73"/><stop offset="0.54" stop-color="#d5536f"/><stop offset="0.56" stop-color="#d9586a"/><stop offset="0.58" stop-color="#de5f65"/><stop offset="0.6" stop-color="#e26561"/><stop offset="0.62" stop-color="#e56b5d"/><stop offset="0.65" stop-color="#e97257"/><stop offset="0.67" stop-color="#ed7953"/><stop offset="0.69" stop-color="#f07f4f"/><stop offset="0.71" stop-color="#f3874a"/><stop offset="0.73" stop-color="#f68d45"/><stop offset="0.75" stop-color="#f89441"/><stop offset="0.77" stop-color="#fa9c3c"/><stop offset="0.79" stop-color="#fca338"/><stop offset="0.81" stop-color="#fdab33"/><stop offset="0.83" stop-color="#fdb42f"/><stop offset="0.85" stop-color="#febb2b"/><stop offset="0.88" stop-color="#fdc328"/><stop offset="0.9" stop-color="#fccd25"/><stop offset="0.92" stop-color="#fbd524"/><stop offset="0.94" stop-color="#f9dd25"/><stop offset="0.96" stop-color="#f6e826"/><stop offset="0.98" stop-color="#f3f027"/><stop offset="1" stop-color="#f0f921"/></linearGradient>
<rect x="901.5" y="552.5" width="19" height="391" fill="url(#g3)"/>
<path d="M901.5 552.5H920.5V943.5H901.5Z" fill="none" stroke="#000" stroke-width="1.1" stroke-linejoin="miter"/>
<text x="930.2" y="945.9" font-size="13.89" text-anchor="start">0</text>
<text x="930.2" y="895.04" font-size="13.89" text-anchor="start">1</text>
<text x="930.2" y="844.19" font-size="13.89" text-anchor="start">2</text>
<text x="930.2" y="793.33" font-size="13.89" text-anchor="start">3</text>
<text x="930.2" y="742.48" font-size="13.89" text-anchor="start">4</text>
<text x="930.2" y="691.62" font-size="13.89" text-anchor="start">5</text>
<text x="930.2" y="640.76" font-size="13.89" text-anchor="start">6</text>
<text x="930.2" y="589.91" font-size="13.89" text-anchor="start">7</text>
<path d="M920.5 941.5h4.86M920.5 890.5h4.86M920.5 839.5h4.86M920.5 788.5h4.86M920.5 737.5h4.86M920.5 686.5h4.86M920.5 635.5h4.86M920.5 585.5h4.86" stroke="#000" stroke-width="1.1" fill="none"/>
<path d="M159.5 552.5H527.5V943.5H159.5Z" fill="none" stroke="#000" stroke-width="1.1" stroke-linejoin="miter"/>
<text dx="0 0 -1" x="162.5" y="964.2" font-size="13.89" text-anchor="middle">0.55</text>
<text dx="0 0 -1" x="225.9" y="964.2" font-size="13.89" text-anchor="middle">0.60</text>
<text dx="0 0 -1" x="289.3" y="964.2" font-size="13.89" text-anchor="middle">0.65</text>
<text dx="0 0 -1" x="352.7" y="964.2" font-size="13.89" text-anchor="middle">0.70</text>
<text dx="0 0 -1" x="416.1" y="964.2" font-size="13.89" text-anchor="middle">0.75</text>
<text dx="0 0 -1" x="479.5" y="964.2" font-size="13.89" text-anchor="middle">0.80</text>
<path d="M162.5 943.5v4.86M225.5 943.5v4.86M289.5 943.5v4.86M352.5 943.5v4.86M416.5 943.5v4.86M479.5 943.5v4.86" stroke="#000" stroke-width="1.1" fill="none"/>
<text x="527" y="981.7" font-size="13.89" text-anchor="end">+2.017e3</text>
<text letter-spacing="0.08" x="148.6" y="577.3" font-size="13.89" text-anchor="end">Delayed Mode</text>
<text letter-spacing="0.08" x="148.6" y="763.3" font-size="13.89" text-anchor="end">Real Time Adjusted</text>
<text letter-spacing="0.08" x="148.6" y="949.1" font-size="13.89" text-anchor="end">Real Time</text>
<path d="M159.5 572.5h-4.86M159.5 758.5h-4.86M159.5 943.5h-4.86" stroke="#000" stroke-width="1.1" fill="none"/>
<text letter-spacing="0.05" x="239" y="525.6" font-size="16.67" text-anchor="start">Mode. Blue=D, Red=RT,</text>
<text letter-spacing="0.05" x="235.6" y="542.4" font-size="16.67" text-anchor="start">Gray=Real Time Adjusted</text>
<clipPath id="cm"><rect x="159.5" y="552.5" width="368" height="391"/></clipPath>
<g fill="#1f77b4" clip-path="url(#cm)"><circle cx="159.5" cy="572.5" r="1.5"/><circle cx="162.1" cy="572.5" r="1.5"/><circle cx="166.4" cy="572.5" r="1.5"/><circle cx="169.5" cy="572.5" r="1.5"/><circle cx="193.4" cy="572.5" r="1.5"/><circle cx="204.6" cy="572.5" r="1.5"/><circle cx="207.5" cy="572.5" r="1.5"/><circle cx="211.8" cy="572.5" r="1.5"/><circle cx="214.5" cy="572.5" r="1.5"/><circle cx="218.8" cy="572.5" r="1.5"/><circle cx="221.4" cy="572.5" r="1.5"/><circle cx="225.7" cy="572.5" r="1.5"/><circle cx="228.6" cy="572.5" r="1.5"/><circle cx="232.7" cy="572.5" r="1.5"/><circle cx="235.5" cy="572.5" r="1.5"/><circle cx="239.6" cy="572.5" r="1.5"/><circle cx="242.5" cy="572.5" r="1.5"/><circle cx="246.5" cy="572.5" r="1.5"/><circle cx="249.5" cy="572.5" r="1.5"/><circle cx="252.5" cy="572.5" r="1.5"/><circle cx="256.4" cy="572.5" r="1.5"/><circle cx="259.5" cy="572.5" r="1.5"/><circle cx="263.4" cy="572.5" r="1.5"/><circle cx="266.4" cy="572.5" r="1.5"/><circle cx="270.5" cy="572.5" r="1.5"/><circle cx="273.4" cy="572.5" r="1.5"/><circle cx="277.5" cy="572.5" r="1.5"/><circle cx="280.5" cy="572.5" r="1.5"/><circle cx="284.5" cy="572.5" r="1.5"/><circle cx="287.5" cy="572.5" r="1.5"/><circle cx="291.6" cy="572.5" r="1.5"/><circle cx="294.5" cy="572.5" r="1.5"/><circle cx="298.6" cy="572.5" r="1.5"/><circle cx="301.6" cy="572.5" r="1.5"/><circle cx="305.6" cy="572.5" r="1.5"/><circle cx="308.6" cy="572.5" r="1.5"/><circle cx="312.6" cy="572.5" r="1.5"/><circle cx="315.6" cy="572.5" r="1.5"/><circle cx="319.6" cy="572.5" r="1.5"/><circle cx="322.6" cy="572.5" r="1.5"/><circle cx="326.6" cy="572.5" r="1.5"/><circle cx="329.6" cy="572.5" r="1.5"/><circle cx="332.6" cy="572.5" r="1.5"/><circle cx="336.6" cy="572.5" r="1.5"/><circle cx="339.6" cy="572.5" r="1.5"/><circle cx="343.4" cy="572.5" r="1.5"/><circle cx="346.4" cy="572.5" r="1.5"/><circle cx="350.5" cy="572.5" r="1.5"/><circle cx="353.4" cy="572.5" r="1.5"/><circle cx="357.5" cy="572.5" r="1.5"/><circle cx="360.5" cy="572.5" r="1.5"/><circle cx="364.5" cy="572.5" r="1.5"/><circle cx="367.5" cy="572.5" r="1.5"/><circle cx="371.5" cy="572.5" r="1.5"/><circle cx="374.5" cy="572.5" r="1.5"/><circle cx="378.6" cy="572.5" r="1.5"/><circle cx="381.6" cy="572.5" r="1.5"/><circle cx="385.6" cy="572.5" r="1.5"/><circle cx="388.6" cy="572.5" r="1.5"/><circle cx="392.4" cy="572.5" r="1.5"/><circle cx="395.4" cy="572.5" r="1.5"/><circle cx="395.6" cy="572.5" r="1.5"/><circle cx="399.4" cy="572.5" r="1.5"/><circle cx="399.6" cy="572.5" r="1.5"/><circle cx="402.6" cy="572.5" r="1.5"/><circle cx="406.4" cy="572.5" r="1.5"/><circle cx="409.4" cy="572.5" r="1.5"/><circle cx="412.5" cy="572.5" r="1.5"/><circle cx="416.4" cy="572.5" r="1.5"/><circle cx="419.4" cy="572.5" r="1.5"/><circle cx="423.4" cy="572.5" r="1.5"/><circle cx="426.4" cy="572.5" r="1.5"/><circle cx="430.5" cy="572.5" r="1.5"/><circle cx="433.4" cy="572.5" r="1.5"/><circle cx="437.5" cy="572.5" r="1.5"/><circle cx="440" cy="572.5" r="1.5"/><circle cx="444.4" cy="572.5" r="1.5"/><circle cx="447.5" cy="572.5" r="1.5"/><circle cx="451.4" cy="572.5" r="1.5"/><circle cx="454.5" cy="572.5" r="1.5"/><circle cx="458.4" cy="572.5" r="1.5"/><circle cx="461.4" cy="572.5" r="1.5"/><circle cx="465.5" cy="572.5" r="1.5"/><circle cx="468.4" cy="572.5" r="1.5"/><circle cx="472.5" cy="572.5" r="1.5"/><circle cx="479.5" cy="572.5" r="1.5"/><circle cx="482.5" cy="572.5" r="1.5"/><circle cx="486.4" cy="572.5" r="1.5"/><circle cx="489.5" cy="572.5" r="1.5"/><circle cx="492.5" cy="572.5" r="1.5"/><circle cx="496.6" cy="572.5" r="1.5"/><circle cx="499.5" cy="572.5" r="1.5"/><circle cx="503.6" cy="572.5" r="1.5"/><circle cx="506.4" cy="572.5" r="1.5"/><circle cx="510.6" cy="572.5" r="1.5"/><circle cx="513.6" cy="572.5" r="1.5"/><circle cx="517.6" cy="572.5" r="1.5"/><circle cx="520.5" cy="572.5" r="1.5"/><circle cx="524.6" cy="572.5" r="1.5"/><circle cx="527.5" cy="572.5" r="1.5"/></g>
</svg>
</body></html>
